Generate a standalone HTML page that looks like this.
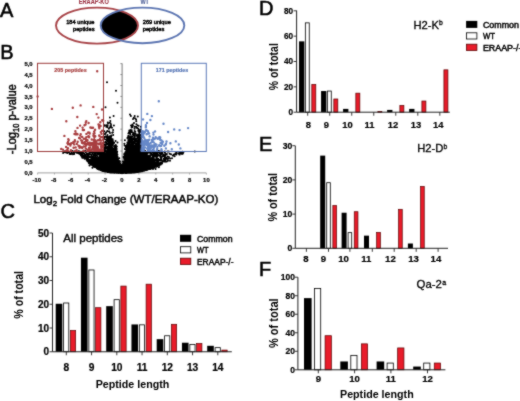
<!DOCTYPE html>
<html><head><meta charset="utf-8"><style>
html,body{margin:0;padding:0;background:#fff;}
svg{display:block;}
text{font-family:"Liberation Sans", sans-serif;}
</style></head><body>
<svg width="520" height="401" viewBox="0 0 520 401">
<defs><filter id="soft" x="0" y="0" width="520" height="401" filterUnits="userSpaceOnUse" color-interpolation-filters="sRGB"><feConvolveMatrix order="3" kernelMatrix="1 2 1 2 16 2 1 2 1" divisor="28" edgeMode="duplicate"/></filter></defs>
<g filter="url(#soft)">
<rect width="520" height="401" fill="#fff"/>
<text x="0" y="16.6" font-size="20" font-weight="normal" text-anchor="start" fill="#000" stroke="#000" stroke-width="0.55" >A</text>
<text x="0.3" y="59.3" font-size="20" font-weight="normal" text-anchor="start" fill="#000" stroke="#000" stroke-width="0.55" >B</text>
<text x="0.4" y="218.4" font-size="20" font-weight="normal" text-anchor="start" fill="#000" stroke="#000" stroke-width="0.55" >C</text>
<text x="258.9" y="14.8" font-size="20" font-weight="normal" text-anchor="start" fill="#000" stroke="#000" stroke-width="0.55" >D</text>
<text x="258.9" y="150.7" font-size="20" font-weight="normal" text-anchor="start" fill="#000" stroke="#000" stroke-width="0.55" >E</text>
<text x="258.9" y="275.8" font-size="20" font-weight="normal" text-anchor="start" fill="#000" stroke="#000" stroke-width="0.55" >F</text>
<defs><clipPath id="cr"><ellipse cx="97" cy="25.6" rx="41" ry="18"/></clipPath></defs>
<ellipse cx="142.5" cy="25.4" rx="41.8" ry="17.8" fill="#000" clip-path="url(#cr)"/>
<ellipse cx="97" cy="25.6" rx="41" ry="18" fill="none" stroke="#a84448" stroke-width="1.9"/>
<ellipse cx="142.5" cy="25.4" rx="41.8" ry="17.8" fill="none" stroke="#5d76b2" stroke-width="1.9"/>
<text x="78.8" y="4.1" font-size="7.0" font-weight="bold" text-anchor="start" fill="#9a3040" stroke="#9a3040" stroke-width="0.1" textLength="30" lengthAdjust="spacingAndGlyphs" >ERAAP-KO</text>
<text x="140.4" y="4.2" font-size="7.0" font-weight="bold" text-anchor="start" fill="#4d5f98" stroke="#4d5f98" stroke-width="0.1" textLength="8.6" lengthAdjust="spacingAndGlyphs" >WT</text>
<text x="94.5" y="24.3" font-size="5.9" font-weight="normal" text-anchor="end" fill="#000" stroke="#000" stroke-width="0.45" textLength="28.3" lengthAdjust="spacingAndGlyphs" >184 unique</text>
<text x="94.5" y="30.9" font-size="5.9" font-weight="normal" text-anchor="end" fill="#000" stroke="#000" stroke-width="0.45" textLength="21.5" lengthAdjust="spacingAndGlyphs" >peptides</text>
<text x="142.8" y="24.3" font-size="5.9" font-weight="normal" text-anchor="start" fill="#000" stroke="#000" stroke-width="0.45" textLength="28" lengthAdjust="spacingAndGlyphs" >269 unique</text>
<text x="142.8" y="30.9" font-size="5.9" font-weight="normal" text-anchor="start" fill="#000" stroke="#000" stroke-width="0.45" textLength="21.5" lengthAdjust="spacingAndGlyphs" >peptides</text>
<line x1="122.1" y1="63.4" x2="122.1" y2="172.9" stroke="#555" stroke-width="0.8"/>
<line x1="120.3" y1="172.9" x2="122.1" y2="172.9" stroke="#555" stroke-width="0.6"/>
<line x1="120.3" y1="161.975" x2="122.1" y2="161.975" stroke="#555" stroke-width="0.6"/>
<line x1="120.3" y1="151.05" x2="122.1" y2="151.05" stroke="#555" stroke-width="0.6"/>
<line x1="120.3" y1="140.125" x2="122.1" y2="140.125" stroke="#555" stroke-width="0.6"/>
<line x1="120.3" y1="129.2" x2="122.1" y2="129.2" stroke="#555" stroke-width="0.6"/>
<line x1="120.3" y1="118.275" x2="122.1" y2="118.275" stroke="#555" stroke-width="0.6"/>
<line x1="120.3" y1="107.35" x2="122.1" y2="107.35" stroke="#555" stroke-width="0.6"/>
<line x1="120.3" y1="96.425" x2="122.1" y2="96.425" stroke="#555" stroke-width="0.6"/>
<line x1="120.3" y1="85.5" x2="122.1" y2="85.5" stroke="#555" stroke-width="0.6"/>
<line x1="120.3" y1="74.575" x2="122.1" y2="74.575" stroke="#555" stroke-width="0.6"/>
<line x1="120.3" y1="63.650000000000006" x2="122.1" y2="63.650000000000006" stroke="#555" stroke-width="0.6"/>
<line x1="37.5" y1="172.9" x2="206.3" y2="172.9" stroke="#888" stroke-width="0.8"/>
<line x1="37.60000000000001" y1="172.9" x2="37.60000000000001" y2="174.6" stroke="#888" stroke-width="0.6"/>
<line x1="54.480000000000004" y1="172.9" x2="54.480000000000004" y2="174.6" stroke="#888" stroke-width="0.6"/>
<line x1="71.36" y1="172.9" x2="71.36" y2="174.6" stroke="#888" stroke-width="0.6"/>
<line x1="88.24000000000001" y1="172.9" x2="88.24000000000001" y2="174.6" stroke="#888" stroke-width="0.6"/>
<line x1="105.12" y1="172.9" x2="105.12" y2="174.6" stroke="#888" stroke-width="0.6"/>
<line x1="122.0" y1="172.9" x2="122.0" y2="174.6" stroke="#888" stroke-width="0.6"/>
<line x1="138.88" y1="172.9" x2="138.88" y2="174.6" stroke="#888" stroke-width="0.6"/>
<line x1="155.76" y1="172.9" x2="155.76" y2="174.6" stroke="#888" stroke-width="0.6"/>
<line x1="172.64" y1="172.9" x2="172.64" y2="174.6" stroke="#888" stroke-width="0.6"/>
<line x1="189.51999999999998" y1="172.9" x2="189.51999999999998" y2="174.6" stroke="#888" stroke-width="0.6"/>
<line x1="206.39999999999998" y1="172.9" x2="206.39999999999998" y2="174.6" stroke="#888" stroke-width="0.6"/>
<path d="M115.8 162.0h0M99.2 167.1h0M146.1 164.6h0M99.7 158.8h0M122.1 170.4h0M109.8 168.1h0M124.2 172.8h0M129.9 166.0h0M130.6 158.9h0M97.6 160.0h0M122.7 168.0h0M130.8 150.9h0M106.3 147.5h0M111.3 172.5h0M128.1 155.7h0M130.0 151.1h0M121.4 172.7h0M128.0 169.4h0M165.7 158.1h0M135.2 169.4h0M115.3 172.0h0M137.1 148.4h0M103.5 168.4h0M91.6 163.3h0M134.6 165.5h0M123.3 170.8h0M129.8 172.6h0M115.4 171.9h0M117.4 167.2h0M107.7 169.6h0M122.3 167.3h0M127.1 167.9h0M114.7 171.8h0M115.4 162.5h0M127.0 156.6h0M116.6 154.7h0M137.0 144.5h0M115.2 155.6h0M106.5 153.6h0M119.0 164.3h0M105.1 162.0h0M118.7 164.5h0M132.0 172.5h0M132.3 136.8h0M120.4 172.4h0M110.4 149.6h0M111.5 169.0h0M132.9 154.8h0M102.6 167.0h0M135.3 141.3h0M114.3 167.4h0M103.4 168.2h0M127.3 168.5h0M146.2 158.0h0M112.7 171.1h0M102.4 166.9h0M121.0 171.6h0M124.5 171.9h0M113.9 157.4h0M134.8 150.7h0M123.8 171.6h0M114.3 162.4h0M131.1 141.3h0M116.3 171.9h0M111.2 169.4h0M138.3 146.6h0M160.5 162.7h0M113.1 168.4h0M138.5 125.8h0M107.9 168.7h0M113.6 169.9h0M109.7 150.0h0M113.5 154.9h0M133.6 152.2h0M124.9 166.8h0M132.4 166.5h0M124.4 170.4h0M99.6 157.6h0M110.6 147.1h0M144.9 165.3h0M128.5 169.6h0M104.9 168.6h0M111.1 158.5h0M105.6 150.7h0M148.7 160.3h0M108.0 165.6h0M111.7 156.2h0M125.4 169.9h0M112.6 168.1h0M128.7 167.5h0M157.2 155.8h0M151.4 165.2h0M127.5 168.8h0M134.0 141.5h0M131.0 157.4h0M131.3 160.5h0M109.7 164.1h0M138.7 156.9h0M105.1 165.7h0M106.6 165.0h0M132.7 167.2h0M131.2 155.8h0M134.4 168.3h0M104.1 167.0h0M123.4 172.8h0M100.2 166.3h0M129.7 165.5h0M120.1 170.6h0M117.0 165.1h0M108.5 168.4h0M112.7 161.9h0M130.3 172.1h0M135.8 166.9h0M117.0 170.3h0M112.2 156.4h0M95.9 151.5h0M127.2 171.2h0M113.6 155.6h0M102.7 170.9h0M119.7 172.7h0M129.1 151.6h0M128.5 151.3h0M114.0 157.5h0M140.0 165.8h0M115.9 162.9h0M113.7 166.5h0M120.0 169.3h0M85.5 158.0h0M155.9 164.4h0M125.2 171.9h0M121.4 172.0h0M145.9 165.0h0M133.1 171.4h0M134.0 169.2h0M129.5 146.8h0M120.7 170.3h0M128.9 171.7h0M160.3 163.9h0M123.6 170.6h0M111.3 147.1h0M109.5 165.7h0M127.1 160.6h0M157.4 166.2h0M130.8 171.6h0M102.5 152.7h0M149.3 167.1h0M120.4 169.6h0M111.3 148.0h0M121.6 172.8h0M121.6 172.8h0M106.4 147.6h0M133.4 155.8h0M134.6 128.8h0M110.9 162.5h0M130.6 170.0h0M120.5 166.4h0M130.9 172.5h0M122.4 170.6h0M134.3 171.4h0M113.3 160.0h0M143.5 156.6h0M137.6 149.2h0M97.4 165.8h0M108.8 160.7h0M146.3 165.2h0M124.2 172.8h0M124.3 171.6h0M138.1 158.3h0M120.2 172.5h0M107.7 166.9h0M128.2 166.4h0M137.8 164.9h0M137.3 158.0h0M152.6 164.2h0M129.3 166.4h0M115.3 163.8h0M136.8 153.7h0M115.2 162.1h0M136.5 153.9h0M99.9 155.7h0M106.0 159.4h0M134.7 152.7h0M140.3 139.5h0M135.5 170.2h0M126.7 166.9h0M127.6 150.8h0M111.3 165.8h0M138.4 166.7h0M117.2 168.2h0M130.6 167.9h0M137.5 170.5h0M138.2 157.0h0M126.4 166.5h0M114.5 166.3h0M131.6 127.4h0M108.8 143.1h0M143.5 154.1h0M111.4 171.4h0M123.8 172.2h0M127.2 168.3h0M111.1 140.9h0M120.0 169.8h0M141.6 166.5h0M117.1 164.8h0M139.9 153.9h0M103.3 157.6h0M154.4 159.2h0M116.9 165.0h0M116.4 170.8h0M115.8 165.7h0M150.7 160.0h0M123.4 168.0h0M106.5 160.6h0M108.7 152.4h0M124.5 172.8h0M126.5 172.2h0M124.5 171.8h0M137.0 163.0h0M126.6 165.3h0M117.5 162.6h0M120.5 168.0h0M117.7 168.7h0M142.0 163.5h0M149.1 161.8h0M108.6 156.0h0M124.4 172.4h0M135.8 169.0h0M141.7 162.4h0M112.8 165.6h0M111.9 170.4h0M134.8 126.8h0M138.0 141.8h0M112.8 144.7h0M115.7 168.4h0M101.8 169.4h0M114.8 169.4h0M99.2 152.3h0M112.3 170.2h0M123.4 170.2h0M111.7 145.9h0M145.4 164.4h0M132.6 160.2h0M121.2 171.4h0M124.5 156.9h0M119.0 172.6h0M157.6 152.0h0M128.5 163.8h0M114.7 172.0h0M140.7 168.8h0M134.8 159.0h0M125.5 155.2h0M135.8 164.1h0M110.0 166.2h0M105.8 158.1h0M141.3 167.8h0M117.8 167.9h0M137.3 145.5h0M130.4 164.0h0M146.4 163.0h0M105.5 136.4h0M106.7 152.1h0M135.1 169.9h0M131.8 170.2h0M141.5 158.6h0M161.4 153.9h0M117.6 162.6h0M122.6 171.7h0M118.8 171.4h0M127.2 169.5h0M115.6 145.9h0M135.2 158.8h0M124.0 168.9h0M122.5 171.0h0M140.6 165.4h0M124.4 165.7h0M121.0 172.5h0M119.9 163.9h0M139.6 156.8h0M115.3 163.5h0M124.6 167.1h0M95.5 159.7h0M136.9 170.2h0M94.6 161.3h0M79.6 151.7h0M126.2 147.1h0M93.1 151.4h0M143.1 165.7h0M107.6 147.8h0M133.4 163.0h0M141.5 169.9h0M131.5 150.7h0M139.7 159.2h0M118.2 166.4h0M101.7 155.1h0M123.6 167.5h0M110.6 123.6h0M116.8 157.8h0M126.9 166.6h0M113.0 166.9h0M125.5 169.4h0M124.1 171.8h0M129.6 169.5h0M125.7 172.8h0M121.2 170.9h0M141.4 137.1h0M123.5 167.4h0M112.8 165.2h0M145.7 157.1h0M127.6 169.1h0M132.0 162.0h0M96.2 158.1h0M156.3 156.7h0M106.3 161.4h0M112.0 167.9h0M138.0 171.2h0M106.7 163.7h0M120.3 170.6h0M86.6 154.1h0M115.0 167.5h0M125.7 169.4h0M136.7 171.1h0M127.4 160.4h0M104.4 152.9h0M116.7 158.5h0M130.1 160.7h0M118.1 168.8h0M92.7 165.3h0M123.0 171.4h0M117.2 166.4h0M135.6 167.7h0M132.6 162.7h0M127.3 157.9h0M137.0 168.7h0M121.0 169.8h0M137.0 165.8h0M119.3 169.2h0M113.3 164.1h0M128.5 148.1h0M128.7 167.2h0M129.6 162.1h0M143.8 164.0h0M129.1 171.8h0M115.1 170.4h0M122.9 171.6h0M106.0 171.5h0M120.7 171.8h0M140.1 130.3h0M115.5 170.5h0M111.0 126.7h0M146.7 155.2h0M122.1 170.9h0M139.7 148.1h0M112.0 127.7h0M122.1 171.5h0M142.9 151.5h0M126.9 167.5h0M120.1 170.0h0M94.9 164.8h0M126.9 172.3h0M120.4 169.2h0M114.6 162.6h0M122.4 164.8h0M106.5 165.4h0M129.6 153.9h0M85.9 151.2h0M129.2 172.8h0M115.3 165.8h0M98.4 161.3h0M129.0 162.7h0M116.6 163.6h0M119.3 172.4h0M107.6 171.8h0M105.3 146.9h0M110.8 146.9h0M127.9 164.8h0M123.7 171.4h0M124.7 155.5h0M127.1 167.8h0M135.3 162.9h0M117.0 163.4h0M123.6 169.4h0M136.8 141.3h0M132.5 171.7h0M114.5 165.2h0M89.2 163.0h0M127.7 168.1h0M128.4 166.6h0M145.5 157.5h0M141.0 171.1h0M104.1 163.3h0M121.3 169.6h0M143.0 164.8h0M141.3 164.9h0M138.4 163.8h0M128.9 172.1h0M120.4 171.8h0M98.7 159.1h0M123.0 169.8h0M126.9 148.3h0M140.0 162.8h0M139.5 153.6h0M102.2 160.6h0M111.9 170.8h0M135.6 157.0h0M115.0 161.7h0M134.3 164.1h0M125.2 160.8h0M117.4 167.6h0M119.8 170.9h0M139.6 162.7h0M102.1 168.6h0M149.9 166.4h0M120.2 168.6h0M135.6 140.3h0M128.8 171.3h0M117.1 166.3h0M118.0 167.2h0M107.9 169.0h0M109.4 166.3h0M119.5 172.6h0M116.2 172.7h0M106.2 170.6h0M126.9 169.9h0M92.8 162.5h0M126.1 166.3h0M123.0 169.5h0M115.7 169.2h0M132.3 156.7h0M107.9 147.2h0M129.9 149.8h0M127.8 167.8h0M154.7 161.2h0M119.6 167.6h0M140.6 160.6h0M133.9 171.5h0M135.5 155.3h0M143.6 169.9h0M128.2 140.1h0M113.1 165.0h0M132.1 136.5h0M120.8 172.0h0M115.3 168.6h0M134.1 154.2h0M128.8 153.0h0M104.9 164.8h0M139.9 137.3h0M135.2 146.8h0M130.9 166.2h0M147.3 152.6h0M121.7 172.9h0M90.3 164.0h0M106.9 156.1h0M120.3 170.5h0M120.0 172.2h0M126.1 165.7h0M131.8 166.1h0M107.4 165.1h0M137.8 157.4h0M120.3 171.6h0M136.5 158.1h0M127.4 155.6h0M105.5 158.8h0M129.7 158.0h0M100.1 161.9h0M114.2 142.8h0M113.0 170.5h0M126.0 161.0h0M115.6 158.8h0M128.1 163.1h0M121.8 172.6h0M122.5 172.4h0M141.4 166.2h0M124.4 172.4h0M99.1 166.5h0M119.7 172.4h0M137.7 157.7h0M142.3 170.8h0M140.0 165.7h0M126.6 165.0h0M119.1 169.2h0M147.1 163.7h0M98.5 158.2h0M120.6 167.6h0M131.0 172.3h0M145.3 164.7h0M115.5 171.0h0M111.5 149.0h0M112.6 172.4h0M114.3 170.3h0M128.6 172.5h0M146.5 165.1h0M136.9 156.0h0M144.9 157.3h0M158.1 159.2h0M124.1 169.1h0M127.5 156.7h0M99.9 168.8h0M121.7 171.8h0M153.3 158.2h0M138.1 162.9h0M135.4 167.9h0M129.7 170.8h0M118.3 168.3h0M139.3 161.4h0M142.1 160.1h0M136.7 166.1h0M116.5 168.0h0M142.3 157.8h0M114.5 158.0h0M130.8 172.5h0M117.9 169.6h0M127.0 168.4h0M111.4 158.9h0M139.0 158.0h0M134.8 169.5h0M132.8 164.4h0M121.2 171.9h0M105.2 169.0h0M141.2 170.8h0M153.0 156.9h0M137.1 166.5h0M114.6 158.9h0M124.4 171.4h0M117.2 161.9h0M123.5 171.1h0M125.0 171.0h0M139.6 170.4h0M115.1 162.1h0M132.0 165.7h0M118.5 167.1h0M116.8 170.9h0M125.7 154.6h0M134.9 170.4h0M118.8 171.5h0M101.8 166.1h0M134.6 168.0h0M107.4 160.8h0M129.4 166.5h0M115.0 168.8h0M147.3 168.5h0M109.4 155.2h0M113.2 166.4h0M130.8 160.6h0M155.4 164.8h0M139.9 162.7h0M134.8 169.8h0M142.7 168.8h0M130.0 153.0h0M135.0 167.0h0M125.5 172.6h0M130.0 167.9h0M87.8 156.0h0M111.5 149.6h0M122.0 169.0h0M124.5 169.4h0M120.6 172.3h0M118.4 171.2h0M134.9 160.1h0M133.5 147.6h0M135.8 160.2h0M134.1 155.3h0M127.4 170.6h0M140.7 165.0h0M138.0 153.7h0M168.0 160.8h0M107.0 169.9h0M125.2 162.9h0M127.4 159.7h0M136.3 165.9h0M109.8 165.7h0M95.0 164.7h0M142.9 168.0h0M113.3 167.7h0M113.4 171.4h0M109.8 140.9h0M120.1 169.3h0M110.1 169.1h0M137.0 127.9h0M113.3 168.3h0M120.1 172.8h0M136.2 157.3h0M133.5 163.5h0M123.0 168.6h0M96.9 162.9h0M121.9 170.4h0M97.3 165.3h0M106.9 161.6h0M118.3 171.9h0M124.9 165.7h0M121.6 172.7h0M110.1 164.5h0M127.4 163.2h0M117.8 167.6h0M118.1 163.7h0M115.4 164.2h0M100.4 159.1h0M99.7 162.2h0M108.4 166.2h0M137.4 163.1h0M135.0 168.1h0M105.2 163.0h0M119.1 169.1h0M121.9 172.8h0M115.4 171.4h0M134.7 160.5h0M110.9 172.0h0M122.2 171.0h0M134.8 163.9h0M127.6 166.2h0M105.1 168.7h0M140.8 165.1h0M123.4 169.5h0M125.5 171.3h0M135.6 156.5h0M128.2 169.1h0M133.9 161.6h0M128.2 167.7h0M134.3 163.9h0M160.3 163.3h0M140.6 164.2h0M124.6 168.8h0M133.2 168.1h0M118.8 162.5h0M119.4 170.1h0M113.1 157.9h0M124.1 162.2h0M128.9 161.1h0M128.0 172.8h0M130.4 163.0h0M104.6 138.9h0M116.8 146.6h0M122.0 172.6h0M129.5 148.2h0M154.3 167.1h0M135.0 157.9h0M142.0 152.2h0M115.7 169.1h0M148.8 161.6h0M115.3 164.2h0M131.0 155.5h0M122.5 171.4h0M136.1 166.3h0M137.3 164.9h0M111.0 154.9h0M109.4 170.5h0M134.8 169.9h0M86.9 158.6h0M119.6 172.2h0M121.8 171.8h0M124.8 172.0h0M138.9 156.4h0M134.7 171.3h0M125.9 172.7h0M163.1 161.6h0M128.7 166.1h0M119.7 165.8h0M116.9 168.0h0M138.0 164.5h0M123.2 171.7h0M144.3 159.8h0M121.2 170.9h0M137.9 136.3h0M138.8 169.5h0M117.7 168.3h0M139.5 143.6h0M121.6 172.6h0M109.5 153.4h0M91.9 164.5h0M120.9 169.2h0M132.0 153.1h0M116.3 168.1h0M138.7 150.5h0M125.1 163.5h0M102.4 167.8h0M119.4 168.7h0M96.9 165.3h0M120.2 168.4h0M107.6 125.4h0M135.2 161.6h0M134.3 153.5h0M129.5 162.2h0M116.4 162.2h0M154.2 163.4h0M122.7 172.7h0M135.0 165.3h0M135.2 160.9h0M127.4 159.9h0M106.1 171.1h0M115.9 164.9h0M138.2 128.8h0M132.2 152.0h0M111.8 171.9h0M122.3 172.4h0M127.3 165.8h0M121.0 172.4h0M140.1 163.7h0M133.3 153.8h0M118.3 167.8h0M122.6 172.6h0M125.9 146.3h0M130.5 166.4h0M132.7 171.9h0M111.2 167.8h0M120.6 170.6h0M137.1 166.6h0M119.3 172.6h0M131.0 171.8h0M131.7 154.2h0M138.2 167.8h0M118.6 172.6h0M126.6 172.0h0M127.2 165.7h0M126.8 163.3h0M94.1 166.7h0M131.3 160.5h0M108.4 167.4h0M124.3 169.7h0M117.7 167.7h0M87.7 160.0h0M116.4 171.9h0M109.0 154.9h0M136.7 162.3h0M133.4 167.2h0M131.4 170.0h0M129.3 169.0h0M115.8 166.0h0M119.9 161.5h0M91.9 158.2h0M124.9 165.4h0M115.8 170.7h0M124.9 166.9h0M112.8 158.9h0M136.1 165.6h0M102.9 167.7h0M158.2 163.9h0M120.5 171.5h0M121.3 172.4h0M124.9 170.5h0M101.3 162.6h0M107.2 167.4h0M144.7 160.9h0M139.7 166.6h0M113.8 157.9h0M130.5 159.3h0M135.8 159.2h0M140.4 168.7h0M103.1 170.0h0M141.6 160.3h0M124.4 170.6h0M137.7 151.1h0M130.7 168.4h0M127.4 171.4h0M129.8 163.6h0M91.6 154.9h0M152.1 161.2h0M137.9 168.4h0M108.8 170.0h0M131.1 165.6h0M136.0 172.2h0M125.0 170.2h0M141.0 153.8h0M116.7 163.3h0M116.3 159.2h0M124.9 171.5h0M103.4 148.9h0M153.9 162.6h0M128.4 168.6h0M100.0 159.3h0M107.3 148.4h0M118.2 172.7h0M138.0 169.8h0M111.4 149.3h0M122.9 169.5h0M105.0 167.2h0M121.5 172.1h0M118.8 168.8h0M115.1 168.0h0M127.4 172.5h0M113.5 168.8h0M142.8 153.4h0M107.5 168.5h0M95.3 163.5h0M115.8 168.4h0M141.0 166.2h0M148.7 169.0h0M127.3 151.2h0M110.1 156.4h0M104.9 149.4h0M96.1 155.0h0M106.5 168.3h0M140.5 145.8h0M106.6 169.4h0M125.4 163.8h0M106.2 162.1h0M134.5 157.4h0M117.4 164.9h0M87.7 160.8h0M143.1 165.3h0M131.0 165.3h0M93.2 165.0h0M104.4 166.3h0M139.4 159.2h0M111.7 161.6h0M139.2 151.5h0M102.6 169.6h0M140.1 168.5h0M113.4 172.5h0M122.6 171.7h0M144.9 159.6h0M118.1 168.4h0M126.5 167.9h0M135.9 165.0h0M108.7 162.0h0M149.5 167.4h0M118.5 170.7h0M132.3 162.9h0M121.4 171.7h0M119.8 165.1h0M116.4 164.7h0M136.9 155.3h0M128.8 152.5h0M125.1 169.2h0M132.7 169.0h0M116.3 170.6h0M118.4 169.4h0M134.9 163.1h0M116.4 170.3h0M119.5 171.4h0M125.5 163.3h0M125.1 164.5h0M101.9 168.0h0M159.4 163.8h0M106.7 166.2h0M122.5 167.8h0M113.0 164.2h0M127.9 150.5h0M133.9 164.4h0M143.2 168.3h0M136.1 163.0h0M129.2 172.7h0M124.5 172.0h0M115.4 163.2h0M134.6 163.9h0M129.9 170.4h0M132.7 170.6h0M115.1 171.6h0M136.3 172.0h0M124.2 169.1h0M143.2 154.1h0M138.5 137.4h0M106.7 167.4h0M92.4 153.4h0M126.7 163.9h0M136.0 172.1h0M141.2 154.8h0M114.5 161.4h0M103.1 170.4h0M122.6 171.8h0M153.4 162.0h0M137.3 146.9h0M132.5 159.7h0M147.6 161.8h0M97.6 154.6h0M144.5 165.4h0M124.4 171.0h0M117.4 160.7h0M99.1 165.0h0M112.3 165.7h0M150.7 159.4h0M103.7 166.0h0M138.5 167.5h0M120.9 172.1h0M133.7 167.4h0M123.8 170.6h0M100.3 164.3h0M154.6 153.7h0M127.5 167.8h0M138.9 163.7h0M130.0 145.8h0M147.0 156.8h0M159.4 164.5h0M115.9 155.4h0M123.0 171.1h0M133.1 164.0h0M100.4 167.3h0M146.1 167.9h0M113.3 168.5h0M107.1 167.3h0M125.8 166.3h0M111.8 165.8h0M140.0 170.3h0M111.6 172.0h0M156.5 158.3h0M92.2 162.1h0M112.8 140.8h0M119.7 171.5h0M100.8 153.3h0M125.9 160.6h0M143.9 151.6h0M138.0 171.8h0M145.1 169.4h0M116.4 172.1h0M118.4 164.4h0M125.3 161.0h0M141.5 156.3h0M119.3 171.0h0M147.6 157.1h0M122.2 171.9h0M142.3 161.9h0M107.8 155.9h0M158.0 162.1h0M137.9 170.7h0M102.3 168.0h0M110.8 161.2h0M139.2 163.8h0M112.0 169.6h0M121.3 172.5h0M152.4 168.1h0M141.8 158.6h0M137.2 159.6h0M149.2 165.7h0M122.1 171.8h0M137.8 161.1h0M138.3 128.9h0M133.0 150.5h0M126.9 149.3h0M143.6 170.4h0M130.8 165.9h0M139.5 168.2h0M112.4 161.3h0M134.1 142.3h0M170.1 158.5h0M123.2 170.9h0M127.9 168.5h0M110.4 171.7h0M140.3 167.6h0M132.7 167.4h0M117.6 170.4h0M130.1 157.6h0M104.4 153.1h0M123.8 172.4h0M123.0 169.0h0M123.8 167.8h0M125.9 172.4h0M89.2 161.9h0M144.8 153.5h0M112.3 171.3h0M138.3 140.1h0M124.0 171.4h0M129.0 166.8h0M117.9 171.9h0M150.7 162.0h0M127.3 168.0h0M134.3 159.0h0M118.4 166.4h0M161.6 157.6h0M112.6 166.8h0M140.3 158.5h0M131.2 169.6h0M104.4 148.0h0M112.4 156.0h0M130.5 146.8h0M128.4 133.6h0M126.6 163.6h0M121.4 170.8h0M135.5 139.7h0M105.2 169.9h0M112.7 139.3h0M147.9 161.0h0M123.9 164.5h0M130.4 167.7h0M120.2 169.0h0M121.1 172.5h0M126.6 168.3h0M100.4 154.7h0M107.3 166.6h0M139.3 130.6h0M142.5 162.3h0M119.1 168.7h0M131.6 165.7h0M119.5 167.1h0M122.2 170.0h0M109.8 170.6h0M111.3 168.5h0M134.6 158.9h0M121.0 170.6h0M101.2 163.3h0M149.5 166.5h0M144.8 161.4h0M106.6 154.0h0M127.8 160.1h0M116.9 164.0h0M89.0 163.0h0M129.3 143.4h0M110.4 157.9h0M92.8 165.1h0M108.5 145.2h0M125.5 171.6h0M103.7 162.0h0M126.3 158.3h0M117.0 172.6h0M115.3 165.7h0M116.0 172.1h0M131.8 169.7h0M116.2 169.6h0M122.6 170.5h0M141.8 168.1h0M126.8 156.1h0M123.3 172.2h0M136.1 160.2h0M124.6 168.7h0M111.0 171.1h0M144.2 165.6h0M124.9 169.3h0M90.0 162.0h0M113.9 170.6h0M96.4 151.3h0M129.3 172.1h0M138.3 157.0h0M121.0 171.3h0M122.5 170.8h0M139.2 171.1h0M135.0 172.0h0M151.6 165.5h0M139.7 170.8h0M110.3 145.7h0M127.7 172.7h0M114.7 168.4h0M120.0 170.9h0M125.0 165.1h0M131.1 150.6h0M132.0 168.6h0M114.8 170.8h0M122.8 167.6h0M130.0 171.1h0M119.6 172.4h0M122.8 172.0h0M100.6 170.1h0M112.4 161.5h0M125.9 163.9h0M138.9 168.7h0M114.9 168.5h0M121.5 172.5h0M134.7 162.3h0M103.6 162.8h0M100.9 164.8h0M115.6 161.8h0M118.4 169.3h0M136.6 167.8h0M130.7 172.1h0M150.0 169.1h0M132.1 169.5h0M142.4 168.0h0M113.5 171.6h0M136.4 162.3h0M137.0 171.7h0M126.0 171.3h0M121.2 172.6h0M121.3 169.7h0M145.6 163.2h0M125.4 169.7h0M122.1 169.0h0M149.3 169.1h0M131.0 171.0h0M133.2 161.5h0M129.2 167.1h0M107.4 147.2h0M119.5 169.5h0M136.8 166.6h0M146.6 168.3h0M92.4 162.4h0M139.7 168.1h0M96.5 151.3h0M123.7 171.5h0M127.2 171.2h0M122.5 168.9h0M117.6 163.7h0M140.8 155.2h0M140.0 159.0h0M137.1 171.4h0M130.4 171.2h0M126.7 168.8h0M118.5 166.8h0M101.8 164.4h0M110.0 152.7h0M117.5 169.4h0M142.6 152.6h0M155.3 165.8h0M121.7 169.2h0M124.6 171.0h0M89.8 162.2h0M130.6 172.1h0M127.4 171.7h0M114.0 168.2h0M132.1 167.4h0M134.7 148.9h0M132.3 166.6h0M121.1 172.1h0M137.6 171.9h0M139.9 169.3h0M133.8 172.4h0M104.5 170.6h0M126.1 164.9h0M119.8 168.0h0M125.4 168.1h0M112.6 165.5h0M147.4 152.5h0M150.3 167.0h0M138.2 162.3h0M134.7 164.2h0M110.3 167.9h0M103.9 163.6h0M116.5 170.4h0M144.5 167.6h0M131.7 162.8h0M133.6 171.2h0M148.0 155.9h0M143.2 168.9h0M134.2 172.1h0M126.5 149.4h0M145.3 169.9h0M140.6 157.4h0M133.5 171.3h0M126.3 169.5h0M108.4 160.8h0M123.0 171.0h0M136.1 153.4h0M107.5 157.4h0M126.1 167.4h0M99.8 168.8h0M154.8 160.0h0M114.6 170.1h0M133.8 159.3h0M114.8 166.0h0M130.1 166.6h0M166.6 158.3h0M135.1 157.2h0M97.4 152.8h0M147.2 159.5h0M131.7 160.5h0M133.0 154.5h0M125.6 170.0h0M104.9 170.3h0M135.2 168.5h0M141.9 158.4h0M122.5 170.9h0M134.3 172.4h0M142.3 154.3h0M116.9 166.8h0M127.8 159.0h0M100.3 153.9h0M112.8 165.6h0M114.2 163.6h0M113.9 163.5h0M145.6 164.8h0M126.8 171.0h0M110.0 167.3h0M88.2 161.1h0M121.4 170.3h0M142.9 169.2h0M140.0 171.3h0M105.6 166.7h0M107.7 150.6h0M113.0 154.6h0M107.4 150.4h0M152.5 156.9h0M133.0 149.7h0M130.1 170.5h0M105.2 156.6h0M115.7 172.4h0M138.1 158.3h0M120.0 170.5h0M134.4 164.1h0M136.0 170.3h0M123.8 167.6h0M162.5 162.0h0M119.3 170.0h0M133.2 167.6h0M119.3 170.4h0M136.0 167.5h0M151.3 153.9h0M135.3 162.4h0M121.8 171.5h0M152.4 167.4h0M126.2 163.9h0M150.4 158.4h0M108.3 165.7h0M121.0 171.4h0M136.1 168.7h0M122.7 171.7h0M136.6 170.6h0M121.3 170.0h0M129.9 172.2h0M140.7 156.4h0M113.3 155.4h0M97.1 158.7h0M145.7 162.2h0M114.0 171.5h0M107.3 166.9h0M138.2 152.0h0M117.4 160.2h0M136.5 157.7h0M139.2 171.7h0M121.1 171.9h0M133.1 162.1h0M130.6 170.5h0M131.8 166.5h0M132.8 154.2h0M105.0 171.4h0M148.7 158.9h0M131.2 169.6h0M118.7 166.3h0M125.9 165.8h0M138.6 170.9h0M101.3 169.1h0M137.2 171.4h0M132.9 134.4h0M126.5 167.7h0M131.4 172.3h0M129.9 162.9h0M123.5 168.5h0M103.0 170.8h0M117.2 168.8h0M113.4 165.7h0M153.8 166.0h0M119.4 170.0h0M121.7 172.4h0M124.5 168.0h0M115.7 165.4h0M136.3 157.4h0M123.3 165.1h0M111.8 171.7h0M138.8 148.4h0M124.0 171.7h0M96.1 166.6h0M150.8 153.1h0M125.5 159.7h0M133.7 157.5h0M133.5 171.8h0M121.6 171.5h0M126.9 153.1h0M112.6 166.6h0M150.7 158.8h0M122.1 171.4h0M120.6 172.2h0M118.2 172.1h0M122.8 168.1h0M125.2 166.4h0M92.9 157.3h0M123.9 165.7h0M110.0 170.2h0M131.8 159.0h0M118.7 169.7h0M116.5 169.2h0M132.1 163.1h0M119.4 171.7h0M129.8 137.9h0M140.7 161.6h0M148.7 160.7h0M98.0 165.1h0M128.5 169.9h0M100.1 153.9h0M113.4 158.1h0M141.1 139.8h0M111.2 150.1h0M136.1 170.7h0M128.8 170.2h0M103.4 166.1h0M134.4 171.7h0M89.9 163.3h0M126.3 170.9h0M121.9 171.5h0M108.8 162.4h0M143.8 159.8h0M104.7 165.2h0M102.4 159.7h0M136.9 162.9h0M124.3 171.7h0M106.3 167.1h0M100.7 158.4h0M128.0 172.7h0M144.2 151.6h0M128.3 170.3h0M104.0 167.5h0M95.4 165.6h0M115.3 161.0h0M109.8 171.4h0M101.6 155.1h0M127.3 167.8h0M111.8 166.3h0M110.0 161.2h0M135.1 159.6h0M113.2 158.8h0M114.3 165.9h0M140.3 152.4h0M128.1 156.7h0M113.2 168.3h0M142.0 161.8h0M124.7 171.0h0M142.8 169.4h0M140.5 157.4h0M126.0 172.1h0M120.7 171.6h0M127.1 144.6h0M124.7 169.1h0M114.0 150.2h0M142.4 168.4h0M127.0 171.8h0M137.5 157.7h0M121.4 171.7h0M129.1 152.4h0M111.5 160.2h0M119.4 168.8h0M125.2 165.7h0M120.8 170.2h0M109.4 165.6h0M113.5 169.9h0M137.1 159.1h0M118.9 169.7h0M131.1 172.0h0M126.6 172.7h0M129.6 172.5h0M131.1 153.2h0M102.9 160.0h0M131.4 169.9h0M109.7 169.8h0M139.1 166.1h0M109.0 169.6h0M118.0 172.7h0M120.3 172.0h0M142.4 170.5h0M126.9 163.5h0M139.6 162.6h0M125.9 166.4h0M101.0 153.6h0M109.4 141.8h0M149.4 159.9h0M123.6 169.1h0M93.7 161.0h0M104.1 158.0h0M137.6 143.9h0M139.3 170.2h0M117.4 159.8h0M131.3 162.3h0M122.7 166.5h0M129.4 164.2h0M82.7 155.6h0M100.2 151.3h0M154.8 152.2h0M95.9 166.5h0M103.8 163.1h0M131.1 150.1h0M139.4 134.0h0M129.6 159.5h0M121.9 170.7h0M123.7 171.3h0M123.4 163.4h0M111.4 169.8h0M116.6 171.3h0M125.0 172.0h0M129.3 166.4h0M118.0 170.9h0M133.8 163.7h0M114.3 169.3h0M112.0 157.5h0M119.3 168.4h0M101.2 167.2h0M92.6 165.6h0M119.7 168.4h0M131.4 151.4h0M132.4 153.7h0M121.3 172.8h0M113.6 170.0h0M151.8 159.9h0M116.8 172.7h0M121.8 172.6h0M138.3 162.0h0M121.9 172.5h0M133.7 148.4h0M129.8 163.4h0M125.2 166.4h0M90.7 163.5h0M125.8 147.2h0M126.5 162.4h0M142.7 165.3h0M98.4 166.0h0M111.3 169.6h0M110.0 172.2h0M105.7 165.3h0M109.2 158.2h0M137.6 169.5h0M130.3 147.3h0M135.0 172.3h0M146.5 154.9h0M142.8 166.0h0M147.6 165.1h0M106.0 169.9h0M128.9 154.3h0M116.9 172.8h0M121.8 171.7h0M142.0 155.6h0M116.4 172.7h0M117.7 171.8h0M132.8 170.4h0M101.0 158.4h0M123.5 167.9h0M98.4 166.4h0M125.3 172.5h0M142.9 168.0h0M120.0 170.0h0M126.6 171.4h0M104.4 169.7h0M133.7 165.1h0M126.6 166.9h0M130.5 161.4h0M134.5 147.3h0M110.7 139.2h0M110.3 165.7h0M128.5 160.0h0M112.9 171.3h0M119.9 167.9h0M142.7 168.6h0M138.9 154.7h0M143.3 161.0h0M99.5 162.5h0M132.7 170.5h0M114.6 157.4h0M132.5 165.3h0M138.3 135.0h0M104.7 153.9h0M125.5 166.9h0M129.0 164.1h0M138.4 163.1h0M151.9 165.7h0M119.4 166.8h0M131.9 168.6h0M128.2 162.3h0M148.6 151.9h0M132.5 148.8h0M119.3 170.5h0M107.0 166.2h0M117.6 161.5h0M132.4 166.8h0M125.4 170.0h0M131.5 148.7h0M126.3 170.2h0M127.3 151.5h0M144.7 155.0h0M112.8 168.1h0M129.1 159.4h0M118.6 168.6h0M124.8 170.3h0M124.8 170.7h0M131.5 143.5h0M128.7 169.1h0M86.7 158.1h0M122.6 171.8h0M131.9 141.8h0M156.0 156.7h0M111.7 163.3h0M124.5 168.2h0M143.9 166.2h0M129.3 153.6h0M126.7 167.7h0M113.3 154.9h0M125.8 170.9h0M136.0 149.0h0M109.7 149.5h0M117.2 171.0h0M121.9 172.5h0M142.5 170.3h0M110.5 166.6h0M113.0 161.0h0M136.8 162.7h0M130.3 170.1h0M142.0 170.3h0M114.7 155.9h0M129.3 162.6h0M116.3 171.4h0M129.3 163.7h0M127.6 167.7h0M133.2 169.4h0M127.0 161.0h0M120.6 171.7h0M132.1 171.0h0M120.1 166.5h0M131.2 138.6h0M115.2 154.6h0M131.1 138.8h0M120.2 167.2h0M125.3 169.1h0M144.4 156.0h0M129.8 165.1h0M127.2 169.7h0M135.2 172.1h0M135.8 166.9h0M138.4 170.4h0M112.4 172.0h0M121.7 172.4h0M155.8 165.0h0M98.3 167.8h0M149.6 166.8h0M117.5 162.2h0M122.2 170.9h0M111.0 159.5h0M112.2 152.7h0M128.8 159.1h0M132.9 163.3h0M127.5 171.6h0M133.8 162.8h0M130.3 170.5h0M115.2 171.3h0M108.5 171.4h0M114.9 172.6h0M120.7 172.2h0M141.6 160.8h0M135.2 165.2h0M140.5 162.5h0M130.1 163.2h0M141.5 166.3h0M131.7 165.9h0M114.0 169.5h0M104.3 155.4h0M115.7 165.4h0M149.8 151.9h0M118.2 169.5h0M122.6 172.9h0M128.8 162.0h0M114.8 166.1h0M126.1 166.8h0M135.4 167.9h0M124.3 169.8h0M109.9 137.1h0M145.1 166.2h0M109.2 166.9h0M138.2 167.7h0M132.1 168.2h0M123.0 172.7h0M108.8 168.5h0M140.1 170.6h0M119.3 170.6h0M123.5 171.3h0M145.2 169.6h0M119.5 170.7h0M145.2 160.6h0M127.6 164.8h0M138.6 156.6h0M123.8 163.3h0M128.4 159.7h0M132.9 159.8h0M84.8 158.4h0M120.7 170.1h0M118.8 171.5h0M117.4 158.7h0M100.0 166.9h0M138.8 162.8h0M119.2 167.8h0M115.9 169.6h0M81.2 153.7h0M105.3 167.6h0M120.2 170.3h0M133.1 164.6h0M109.7 168.5h0M130.8 151.8h0M117.9 159.9h0M133.5 164.0h0M140.6 160.2h0M118.4 171.4h0M143.5 152.7h0M129.1 170.4h0M117.2 172.1h0M126.2 166.3h0M120.6 165.9h0M111.0 165.2h0M125.6 172.2h0M105.2 167.9h0M129.7 163.3h0M129.1 138.3h0M117.6 161.4h0M120.8 172.9h0M118.0 170.1h0M112.8 164.6h0M124.0 171.3h0M100.0 159.2h0M148.8 152.5h0M110.4 169.9h0M138.9 167.3h0M147.2 167.2h0M100.9 156.7h0M133.9 157.0h0M104.5 159.9h0M116.4 171.7h0M125.6 168.6h0M128.0 146.9h0M125.0 166.2h0M121.8 172.8h0M108.1 165.6h0M130.4 162.8h0M135.3 131.7h0M109.5 168.0h0M128.9 159.5h0M134.6 162.3h0M105.9 162.6h0M138.9 152.0h0M137.5 166.5h0M123.6 169.2h0M149.2 157.9h0M136.3 164.6h0M130.6 167.6h0M167.5 158.7h0M141.5 171.0h0M159.3 165.4h0M116.4 163.1h0M164.7 158.6h0M154.7 161.7h0M130.0 172.4h0M112.8 169.6h0M107.7 161.1h0M114.5 168.6h0M129.6 164.9h0M106.5 147.9h0M125.4 160.3h0M143.8 163.3h0M124.2 165.8h0M93.4 164.4h0M121.2 170.4h0M110.2 150.8h0M134.5 159.6h0M108.8 154.2h0M111.8 171.3h0M122.2 172.5h0M125.6 156.5h0M131.3 170.0h0M117.0 171.4h0M110.6 157.5h0M131.7 130.2h0M109.8 172.1h0M119.4 170.4h0M123.3 172.6h0M132.3 167.2h0M111.8 156.7h0M112.3 157.8h0M110.8 169.5h0M110.5 147.8h0M113.8 159.5h0M134.0 156.7h0M132.4 140.0h0M131.7 166.0h0M121.5 172.3h0M152.0 165.2h0M129.9 158.1h0M152.2 158.1h0M116.1 168.2h0M116.5 170.1h0M126.4 169.1h0M118.4 168.5h0M101.7 157.2h0M142.1 160.0h0M124.4 157.1h0M133.0 170.0h0M134.9 155.4h0M121.6 172.6h0M126.4 171.6h0M118.6 172.1h0M102.4 155.1h0M145.0 166.1h0M136.1 160.4h0M148.8 157.2h0M111.8 157.9h0M127.0 168.9h0M136.4 146.9h0M134.2 162.4h0M104.8 153.1h0M128.4 170.0h0M137.9 162.2h0M142.1 168.3h0M132.8 171.3h0M95.4 152.9h0M138.8 164.4h0M121.5 169.5h0M118.0 172.8h0M125.2 171.5h0M118.6 171.0h0M157.2 159.3h0M122.0 170.9h0M130.5 170.4h0M118.5 171.6h0M137.3 161.0h0M96.6 165.3h0M118.3 171.9h0M103.8 169.1h0M127.1 149.6h0M106.7 157.8h0M105.8 168.6h0M128.4 149.8h0M124.3 167.5h0M114.2 159.7h0M125.1 160.8h0M134.2 165.3h0M109.2 165.8h0M127.5 163.5h0M132.1 169.9h0M135.3 170.0h0M120.1 171.8h0M150.7 159.4h0M110.6 157.6h0M122.4 172.6h0M98.0 167.0h0M156.8 160.8h0M152.7 164.9h0M144.0 160.9h0M112.9 171.1h0M139.2 164.6h0M122.2 167.5h0M129.3 153.0h0M94.2 160.3h0M111.4 162.2h0M123.4 168.3h0M95.2 161.0h0M113.2 166.1h0M133.4 158.2h0M149.0 166.7h0M118.0 171.4h0M91.9 152.6h0M133.1 162.2h0M127.4 161.5h0M160.3 163.3h0M137.3 161.0h0M132.2 157.6h0M120.1 171.1h0M146.7 158.3h0M138.2 169.2h0M142.2 167.0h0M106.5 161.8h0M111.2 171.1h0M121.3 172.0h0M118.4 171.9h0M117.6 168.1h0M129.6 166.2h0M110.6 168.5h0M118.4 170.9h0M120.3 172.3h0M103.8 147.2h0M133.9 172.0h0M112.5 169.5h0M127.1 161.0h0M133.4 156.1h0M139.9 163.8h0M139.1 143.1h0M111.0 168.3h0M116.9 172.8h0M110.3 121.0h0M119.3 169.4h0M135.8 166.7h0M119.3 170.9h0M126.6 167.8h0M113.0 152.2h0M135.0 162.8h0M117.4 172.2h0M110.3 167.7h0M109.0 172.0h0M130.5 165.2h0M135.4 166.5h0M106.0 166.1h0M125.6 168.6h0M124.5 168.5h0M113.7 156.4h0M127.8 158.5h0M125.4 171.3h0M142.2 169.0h0M139.4 157.9h0M129.5 158.0h0M105.2 164.2h0M135.1 166.6h0M118.0 171.6h0M131.0 136.3h0M127.3 170.6h0M102.4 162.8h0M142.7 152.1h0M130.0 158.4h0M101.9 167.9h0M140.5 160.6h0M119.9 169.0h0M145.1 155.4h0M130.1 166.8h0M128.6 170.0h0M122.9 171.2h0M101.3 169.0h0M144.0 158.8h0M101.0 162.1h0M126.0 161.9h0M117.4 172.6h0M129.0 150.0h0M119.4 172.1h0M135.3 152.3h0M138.9 169.7h0M144.1 161.1h0M128.3 157.2h0M109.6 168.7h0M130.0 171.1h0M124.8 170.4h0M105.3 158.6h0M120.4 171.5h0M101.7 158.2h0M116.8 167.1h0M92.3 153.8h0M137.2 170.7h0M127.4 165.7h0M114.3 167.6h0M109.2 165.4h0M123.3 169.9h0M103.2 156.8h0M124.6 172.2h0M144.2 170.2h0M117.9 165.9h0M133.7 155.4h0M129.8 161.3h0M136.1 172.1h0M102.0 163.9h0M122.2 170.3h0M127.9 156.7h0M133.0 155.7h0M128.9 132.2h0M120.8 172.6h0M122.1 171.4h0M144.5 163.6h0M116.9 162.6h0M125.1 172.7h0M121.0 172.2h0M136.4 171.8h0M121.0 171.1h0M126.6 151.8h0M103.5 170.1h0M118.5 168.3h0M133.4 161.9h0M115.5 170.4h0M133.2 163.1h0M115.5 167.5h0M143.2 159.9h0M137.6 157.7h0M113.6 164.3h0M121.4 172.2h0M106.4 152.5h0M117.7 172.5h0M136.2 167.3h0M131.2 171.3h0M126.6 155.7h0M113.8 164.4h0M136.1 166.6h0M134.2 147.7h0M114.7 158.8h0M99.9 162.9h0M120.6 172.2h0M134.7 169.1h0M125.7 170.1h0M133.6 159.4h0M104.2 171.3h0M114.1 151.5h0M131.3 157.9h0M129.3 170.7h0M133.5 167.6h0M121.2 172.2h0M135.0 147.2h0M135.4 163.2h0M130.2 168.5h0M129.1 165.2h0M123.5 164.8h0M140.2 141.4h0M97.4 161.8h0M130.2 144.3h0M113.9 161.0h0M125.1 169.6h0M140.1 148.7h0M123.5 172.8h0M127.6 171.4h0M114.9 160.5h0M121.8 172.7h0M123.1 171.5h0M140.5 165.2h0M134.5 159.4h0M133.1 171.1h0M93.1 165.4h0M129.3 155.8h0M119.1 172.6h0M131.8 172.0h0M127.4 171.3h0M124.8 164.6h0M134.7 166.4h0M118.1 167.6h0M152.0 157.7h0M114.4 170.4h0M126.9 169.9h0M127.9 171.3h0M114.2 171.9h0M111.5 169.2h0M127.7 170.2h0M119.7 163.9h0M100.4 169.1h0M112.5 140.1h0M124.0 170.6h0M95.6 160.3h0M117.1 172.3h0M134.0 134.3h0M125.6 171.3h0M108.2 171.3h0M121.8 172.7h0M122.2 169.3h0M141.9 169.0h0M152.2 152.3h0M131.0 125.6h0M137.9 170.5h0M121.2 171.7h0M137.3 170.2h0M139.2 161.8h0M129.3 169.3h0M118.5 172.6h0M127.1 169.1h0M113.8 155.2h0M154.4 162.2h0M130.6 152.6h0M128.6 152.1h0M122.0 172.7h0M146.5 168.9h0M105.5 167.1h0M115.9 154.6h0M119.3 171.4h0M133.6 167.7h0M122.9 172.5h0M119.0 168.0h0M148.8 162.6h0M116.1 171.4h0M106.2 155.2h0M108.4 160.2h0M127.8 172.3h0M150.7 158.6h0M141.1 157.6h0M104.7 154.8h0M108.1 156.8h0M128.6 170.0h0M133.5 166.5h0M144.5 163.1h0M124.6 158.4h0M118.1 168.8h0M126.2 161.5h0M137.0 157.2h0M119.4 169.5h0M141.6 159.2h0M90.5 164.4h0M106.4 142.7h0M144.1 153.0h0M110.3 160.9h0M121.5 172.2h0M115.5 160.8h0M108.8 171.5h0M129.8 164.2h0M107.2 168.5h0M129.8 159.1h0M135.5 162.2h0M133.9 160.5h0M116.2 169.7h0M106.7 144.3h0M117.8 166.7h0M109.7 171.1h0M123.1 165.5h0M115.0 167.4h0M144.4 168.5h0M110.4 162.3h0M158.4 164.4h0M115.5 165.9h0M111.1 152.4h0M130.1 167.4h0M105.0 134.3h0M118.7 167.8h0M115.5 155.3h0M127.1 168.6h0M112.8 166.0h0M136.4 161.4h0M119.1 167.8h0M127.9 162.6h0M112.9 141.4h0M108.7 168.1h0M107.1 165.7h0M124.3 161.1h0M136.1 167.5h0M120.0 171.1h0M126.5 162.4h0M147.5 161.5h0M111.9 163.7h0M150.2 155.3h0M130.5 167.4h0M122.6 164.6h0M112.1 166.1h0M111.1 160.9h0M127.7 151.9h0M127.8 164.4h0M135.7 161.3h0M120.7 172.9h0M110.0 172.3h0M116.0 158.3h0M104.2 154.7h0M116.5 163.2h0M124.7 165.5h0M139.0 156.8h0M115.4 169.9h0M108.0 167.2h0M141.9 156.3h0M113.1 162.2h0M103.8 155.5h0M109.6 151.6h0M115.3 155.6h0M147.4 155.0h0M133.4 167.5h0M134.5 161.5h0M122.7 172.6h0M128.4 154.7h0M80.7 152.9h0M115.6 169.9h0M130.3 149.4h0M114.4 168.2h0M82.5 152.2h0M115.0 162.1h0M126.8 172.4h0M108.9 157.9h0M95.4 161.3h0M113.3 168.5h0M111.8 166.7h0M137.2 164.7h0M116.9 165.8h0M151.3 166.9h0M133.6 166.2h0M119.8 168.5h0M117.2 159.6h0M144.9 167.9h0M135.9 143.6h0M124.6 169.9h0M117.1 164.0h0M133.9 170.3h0M126.3 171.3h0M145.8 162.6h0M125.6 172.5h0M138.2 139.2h0M105.1 158.1h0M109.8 168.6h0M124.5 168.8h0M143.9 166.8h0M129.2 168.9h0M152.0 158.8h0M125.0 153.2h0M136.1 164.6h0M119.8 165.2h0M123.9 164.9h0M123.5 171.1h0M133.8 148.2h0M118.5 171.3h0M144.1 154.9h0M133.4 153.6h0M100.6 164.1h0M123.5 170.3h0M111.3 166.8h0M116.1 165.8h0M136.7 171.3h0M124.6 163.1h0M137.9 138.8h0M108.0 161.8h0M113.3 169.5h0M129.8 170.4h0M146.6 165.0h0M125.8 165.6h0M106.5 169.4h0M123.3 168.3h0M137.3 153.4h0M156.5 165.5h0M139.0 165.0h0M133.6 146.2h0M126.7 147.2h0M135.5 159.2h0M128.0 160.8h0M107.6 164.0h0M93.2 163.4h0M117.2 159.0h0M124.6 170.5h0M144.3 168.3h0M129.0 171.8h0M127.6 170.8h0M138.3 130.6h0M104.7 158.5h0M128.1 151.4h0M142.6 167.4h0M104.6 159.1h0M103.9 166.8h0M117.8 172.4h0M107.1 170.3h0M127.4 172.0h0M117.8 169.8h0M160.1 156.0h0M129.6 166.8h0M106.2 166.2h0M113.6 164.7h0M131.9 132.1h0M112.8 170.0h0M102.5 160.0h0M115.1 151.6h0M131.3 158.1h0M125.4 169.4h0M136.9 167.6h0M136.7 147.5h0M109.8 159.2h0M140.9 135.0h0M131.3 168.6h0M133.7 146.0h0M108.9 158.8h0M107.6 169.9h0M137.6 167.6h0M149.1 164.1h0M123.3 171.1h0M120.1 171.1h0M105.0 171.1h0M117.5 156.8h0M131.6 171.9h0M113.8 169.7h0M114.3 167.2h0M131.2 169.2h0M141.0 169.1h0M140.1 168.8h0M115.5 172.0h0M108.7 158.6h0M131.1 170.2h0M129.9 155.2h0M101.9 159.2h0M140.2 154.4h0M136.7 148.7h0M126.4 168.7h0M108.9 131.4h0M126.1 166.5h0M117.6 166.3h0M127.8 154.6h0M117.8 172.7h0M131.5 166.6h0M141.7 167.2h0M118.0 172.4h0M129.4 143.1h0M115.4 164.1h0M126.4 166.0h0M119.0 171.6h0M127.3 156.1h0M95.4 156.3h0M115.2 151.1h0M117.7 170.9h0M121.0 170.7h0M135.3 162.7h0M120.4 167.3h0M111.8 165.4h0M134.6 158.1h0M103.8 157.4h0M100.5 170.1h0M141.1 157.1h0M144.1 165.4h0M110.3 164.4h0M136.2 157.1h0M134.5 171.5h0M133.9 161.2h0M130.1 168.9h0M135.3 166.9h0M112.0 172.3h0M128.9 171.2h0M148.9 166.1h0M163.2 154.6h0M117.4 154.8h0M135.0 169.0h0M85.5 155.0h0M134.3 141.5h0M99.1 163.3h0M116.8 151.3h0M138.6 169.0h0M101.0 155.0h0M88.7 156.9h0M133.9 166.3h0M137.4 156.1h0M133.9 170.5h0M136.1 169.0h0M134.5 159.0h0M125.4 165.4h0M159.3 163.0h0M139.9 150.3h0M115.3 167.7h0M131.2 142.6h0M130.6 129.9h0M141.8 156.0h0M136.7 171.2h0M129.6 162.7h0M121.4 172.8h0M136.7 155.9h0M107.8 160.6h0M140.4 161.3h0M132.0 163.4h0M131.1 132.1h0M129.1 164.5h0M143.9 160.3h0M114.6 172.4h0M113.6 167.2h0M120.7 172.8h0M103.5 160.4h0M130.7 162.4h0M138.4 152.7h0M100.1 164.8h0M110.4 151.0h0M134.7 166.8h0M142.6 166.1h0M147.5 169.7h0M116.5 166.0h0M131.7 152.9h0M126.1 170.4h0M100.0 160.9h0M145.7 161.3h0M92.2 158.7h0M128.1 163.8h0M123.7 172.1h0M146.2 169.8h0M108.1 149.0h0M120.6 170.3h0M114.3 158.7h0M128.4 166.4h0M107.8 164.3h0M118.0 168.5h0M126.1 158.1h0M119.8 172.2h0M126.4 163.9h0M112.8 170.8h0M129.2 169.1h0M149.9 166.9h0M132.3 164.6h0M129.3 140.2h0M151.1 165.4h0M156.5 166.4h0M128.4 166.0h0M119.5 172.8h0M114.8 163.0h0M111.2 170.6h0M137.9 166.2h0M154.9 160.9h0M124.6 171.7h0M105.8 162.9h0M82.0 152.8h0M151.9 167.0h0M128.4 167.0h0M126.5 168.2h0M130.1 141.6h0M111.3 166.7h0M126.7 172.0h0M129.8 136.9h0M126.7 167.8h0M100.7 162.7h0M111.2 142.5h0M111.0 171.0h0M115.3 166.0h0M110.7 166.5h0M127.8 168.5h0M110.4 168.1h0M148.2 162.6h0M124.1 168.5h0M116.0 162.7h0M141.9 170.8h0M150.0 165.7h0M99.2 151.6h0M120.2 170.3h0M117.7 168.9h0M115.7 161.9h0M124.4 172.7h0M119.7 172.2h0M96.5 167.8h0M145.7 161.6h0M131.2 160.9h0M154.5 161.4h0M116.8 169.7h0M124.5 166.5h0M116.7 168.1h0M127.7 171.0h0M107.4 171.6h0M126.2 172.4h0M108.5 157.7h0M134.8 169.5h0M89.5 151.8h0M130.9 170.9h0M127.5 156.1h0M123.5 171.4h0M106.3 170.5h0M120.2 171.4h0M105.1 170.4h0M108.8 149.2h0M120.5 171.7h0M107.5 162.0h0M148.1 169.2h0M127.2 167.1h0M127.4 168.9h0M128.0 151.4h0M130.0 166.4h0M124.4 171.5h0M146.1 170.1h0M118.4 168.5h0M98.8 168.2h0M134.4 160.1h0M131.4 163.9h0M122.0 171.2h0M116.6 170.1h0M109.7 167.9h0M139.8 140.1h0M134.2 162.3h0M131.2 171.7h0M132.3 159.3h0M138.4 156.7h0M114.3 171.7h0M128.5 158.6h0M146.0 156.9h0M131.9 162.2h0M138.9 170.6h0M132.6 168.5h0M86.1 154.3h0M124.9 170.3h0M158.4 151.1h0M160.6 157.5h0M130.9 161.2h0M110.4 161.3h0M96.0 157.5h0M106.1 159.7h0M132.5 166.0h0M150.0 159.5h0M100.8 160.5h0M130.9 167.9h0M124.7 172.0h0M138.9 167.5h0M130.4 167.5h0M146.2 158.2h0M107.7 171.1h0M106.8 170.4h0M131.5 166.1h0M119.9 172.2h0M134.5 167.2h0M113.7 155.9h0M124.3 164.3h0M123.5 166.0h0M149.0 164.2h0M125.5 167.9h0M120.4 172.3h0M112.2 170.4h0M128.3 152.1h0M125.1 169.3h0M117.9 164.5h0M134.8 170.3h0M114.7 172.3h0M114.9 161.8h0M147.1 152.5h0M102.6 167.1h0M122.1 172.5h0M146.8 157.0h0M121.0 172.3h0M128.9 169.3h0M156.5 157.1h0M121.3 172.5h0M134.6 168.9h0M128.5 156.9h0M110.2 166.6h0M131.9 154.5h0M137.5 160.4h0M131.4 155.3h0M124.2 169.8h0M121.6 170.8h0M162.0 161.1h0M143.6 154.1h0M117.3 169.2h0M119.8 170.5h0M128.2 159.2h0M130.4 130.9h0M144.9 168.8h0M125.3 164.2h0M137.8 165.2h0M153.7 158.2h0M123.9 163.0h0M122.7 166.6h0M108.7 145.7h0M140.2 132.0h0M131.1 167.9h0M174.6 156.2h0M107.5 167.8h0M138.4 151.0h0M111.7 170.2h0M125.0 163.2h0M97.5 167.0h0M127.8 164.7h0M140.4 171.4h0M146.0 156.0h0M136.5 164.1h0M137.2 171.1h0M105.8 169.8h0M138.0 135.1h0M118.1 171.8h0M131.3 153.8h0M116.8 167.2h0M118.0 170.2h0M117.2 170.8h0M119.3 168.0h0M122.2 171.4h0M126.1 163.7h0M108.9 168.5h0M117.5 162.0h0M132.7 171.1h0M108.3 163.6h0M148.1 152.8h0M109.9 160.1h0M105.6 141.8h0M121.0 165.8h0M143.7 168.9h0M109.9 167.8h0M116.4 156.9h0M98.3 163.3h0M138.0 144.8h0M93.9 157.2h0M116.3 159.7h0M149.9 168.8h0M134.1 164.9h0M123.2 169.6h0M124.9 162.1h0M127.7 166.6h0M110.3 166.3h0M100.1 169.5h0M129.9 171.4h0M145.7 167.1h0M117.5 169.2h0M88.9 162.4h0M140.7 151.1h0M142.7 155.2h0M119.4 171.2h0M113.8 163.1h0M139.8 168.7h0M100.3 168.3h0M123.0 161.4h0M120.4 171.5h0M162.6 161.7h0M120.9 172.4h0M103.2 156.6h0M129.5 156.6h0M118.4 168.3h0M129.1 171.6h0M127.8 143.8h0M113.1 160.6h0M127.2 164.2h0M126.0 172.9h0M127.9 167.3h0M108.2 167.8h0M118.4 168.7h0M122.0 170.2h0M157.3 159.6h0M125.0 171.0h0M124.1 170.1h0M124.7 169.8h0M141.4 159.8h0M130.7 159.4h0M122.5 171.1h0M113.6 170.6h0M122.1 172.1h0M104.3 160.5h0M135.6 168.8h0M101.8 162.7h0M130.3 166.7h0M83.8 151.2h0M113.0 157.7h0M109.7 137.7h0M126.4 170.3h0M132.3 155.3h0M107.8 156.6h0M112.9 162.1h0M126.2 154.7h0M123.8 166.6h0M122.8 165.0h0M128.5 165.7h0M107.6 169.5h0M134.8 169.8h0M123.4 171.1h0M132.0 169.4h0M134.2 161.5h0M113.9 164.5h0M135.1 169.3h0M110.3 138.7h0M150.7 166.6h0M138.3 166.7h0M124.6 163.8h0M134.6 157.1h0M157.1 162.5h0M102.9 156.9h0M111.8 154.5h0M109.6 165.6h0M118.6 170.0h0M141.3 158.2h0M124.3 170.1h0M132.0 152.3h0M123.2 171.5h0M109.5 168.1h0M130.2 159.4h0M114.4 165.2h0M131.0 168.1h0M110.5 156.2h0M112.3 166.8h0M106.0 170.7h0M134.4 172.1h0M147.7 161.6h0M118.8 171.4h0M126.2 166.2h0M120.6 170.6h0M126.8 167.9h0M138.2 148.0h0M126.6 167.2h0M119.0 171.6h0M109.4 167.4h0M127.7 164.4h0M118.9 169.2h0M124.0 164.7h0M102.5 159.5h0M113.8 168.7h0M120.9 169.1h0M137.5 142.3h0M131.8 148.4h0M128.0 170.8h0M126.9 164.1h0M118.6 171.5h0M141.0 159.8h0M116.0 168.2h0M106.9 165.3h0M110.6 151.4h0M101.1 158.5h0M139.0 156.9h0M124.1 168.5h0M118.7 170.7h0M134.1 165.0h0M132.2 171.2h0M131.1 170.8h0M129.4 144.2h0M132.2 168.3h0M130.3 165.0h0M130.1 157.6h0M132.1 161.2h0M130.7 149.8h0M101.2 154.3h0M105.5 168.0h0M129.9 155.7h0M117.0 170.5h0M132.4 166.3h0M109.0 166.8h0M107.3 159.8h0M123.6 171.4h0M109.6 150.3h0M135.2 160.4h0M123.5 171.1h0M132.7 170.8h0M130.8 172.7h0M122.0 172.9h0M147.3 162.2h0M123.3 172.8h0M124.3 162.0h0M97.2 167.0h0M107.3 153.4h0M123.4 172.9h0M108.9 166.1h0M124.3 157.7h0M138.0 170.0h0M112.2 132.7h0M103.9 170.7h0M130.6 157.1h0M129.4 153.8h0M121.7 172.4h0M134.2 137.0h0M129.5 171.0h0M141.6 164.7h0M108.7 163.1h0M135.3 166.9h0M133.3 170.3h0M117.2 165.7h0M114.2 158.3h0M118.7 171.9h0M127.9 166.6h0M140.4 170.9h0M139.9 161.1h0M124.0 164.5h0M110.3 168.3h0M119.0 170.7h0M105.1 144.4h0M110.6 171.9h0M140.8 168.2h0M141.0 162.2h0M103.8 155.6h0M124.4 172.8h0M133.4 138.8h0M141.9 170.7h0M148.2 168.1h0M128.1 158.1h0M118.6 170.1h0M139.5 171.1h0M113.8 165.2h0M121.6 171.0h0M131.8 156.4h0M137.5 163.6h0M141.0 160.5h0M111.2 144.2h0M109.5 162.8h0M120.4 172.2h0M116.4 170.5h0M95.3 159.9h0M116.2 161.9h0M117.4 171.2h0M110.7 159.8h0M155.1 155.6h0M110.4 147.6h0M113.9 161.2h0M124.0 166.9h0M135.5 166.4h0M129.7 167.6h0M108.0 160.9h0M125.1 164.8h0M143.9 166.4h0M131.3 156.1h0M122.4 170.8h0M117.4 165.3h0M120.4 170.8h0M113.0 169.3h0M102.4 169.1h0M116.7 159.9h0M105.5 165.6h0M139.8 143.3h0M119.0 171.4h0M124.2 172.0h0M140.2 170.2h0M137.8 158.9h0M121.7 171.3h0M111.0 172.3h0M123.4 172.4h0M132.0 167.3h0M122.8 171.5h0M106.0 159.4h0M130.1 154.9h0M137.1 161.5h0M148.5 157.7h0M135.4 143.4h0M136.2 162.7h0M100.0 153.6h0M104.8 156.0h0M135.5 164.1h0M112.1 164.3h0M155.9 160.2h0M127.9 152.7h0M135.1 168.0h0M149.7 151.1h0M156.1 156.3h0M119.7 161.6h0M140.7 156.2h0M118.9 172.5h0M139.8 161.3h0M115.9 170.7h0M121.8 171.9h0M138.8 155.7h0M124.4 163.6h0M126.1 153.7h0M128.2 158.2h0M109.3 164.0h0M121.2 169.7h0M103.0 159.5h0M119.2 169.4h0M137.0 166.9h0M110.3 158.5h0M134.9 154.9h0M132.4 154.8h0M139.8 167.1h0M117.6 166.6h0M125.2 163.8h0M123.9 171.4h0M111.0 167.2h0M136.8 167.7h0M116.7 167.2h0M108.0 171.1h0M101.8 166.6h0M115.6 161.5h0M140.1 167.7h0M134.9 159.6h0M122.4 168.5h0M137.4 169.5h0M111.5 172.4h0M121.0 172.4h0M124.8 163.5h0M147.4 162.1h0M147.0 167.6h0M115.0 151.6h0M154.8 162.8h0M149.0 169.1h0M104.5 171.0h0M132.8 171.6h0M115.3 168.2h0M151.7 152.3h0M126.4 149.7h0M105.8 164.1h0M157.2 154.8h0M108.3 160.1h0M115.9 164.7h0M109.6 161.3h0M137.6 163.9h0M137.8 170.1h0M138.7 161.2h0M145.4 153.8h0M127.9 169.1h0M117.1 163.2h0M121.2 170.5h0M128.8 170.9h0M108.9 168.7h0M152.3 155.2h0M104.6 165.1h0M105.7 167.4h0M122.5 171.6h0M138.3 161.6h0M133.9 166.3h0M114.8 166.6h0M133.7 160.7h0M115.3 166.6h0M128.6 172.0h0M126.2 166.1h0M136.0 161.9h0M124.9 171.1h0M132.1 171.9h0M141.3 167.8h0M126.4 172.5h0M108.4 161.2h0M120.0 172.2h0M129.2 171.8h0M150.4 164.3h0M129.6 166.3h0M111.3 147.4h0M139.3 158.7h0M130.3 167.4h0M131.0 160.5h0M129.1 168.5h0M106.3 126.8h0M94.8 163.4h0M116.0 169.8h0M132.3 151.5h0M140.9 159.8h0M114.3 171.0h0M127.7 146.3h0M129.4 163.4h0M140.4 163.5h0M115.0 164.0h0M137.3 170.3h0M139.4 161.4h0M140.8 170.3h0M109.5 170.1h0M114.4 167.9h0M129.6 156.1h0M131.2 172.4h0M116.8 166.3h0M137.6 163.7h0M115.0 162.3h0M80.2 152.3h0M110.0 145.5h0M120.8 171.4h0M115.5 171.6h0M108.5 165.5h0M147.0 166.1h0M129.3 139.5h0M121.4 170.1h0M118.0 164.8h0M128.0 171.4h0M147.7 164.0h0M116.2 161.2h0M114.3 168.4h0M151.4 162.8h0M142.6 152.8h0M106.1 166.7h0M111.1 153.1h0M124.8 171.2h0M128.5 148.6h0M151.0 153.4h0M126.6 168.7h0M131.1 154.5h0M137.1 155.1h0M88.6 162.3h0M107.0 171.1h0M137.4 157.1h0M135.2 170.8h0M117.1 164.9h0M120.8 171.5h0M83.3 156.0h0M124.7 170.0h0M130.3 164.1h0M113.6 172.1h0M142.5 168.3h0M143.8 154.0h0M125.5 165.8h0M105.0 167.5h0M154.3 163.4h0M139.8 166.4h0M119.3 168.5h0M144.8 169.7h0M148.6 162.0h0M132.7 165.4h0M134.4 157.1h0M136.2 158.8h0M150.0 167.0h0M137.8 125.4h0M103.6 159.8h0M137.4 166.2h0M121.9 170.5h0M111.4 168.3h0M114.9 148.1h0M86.0 158.4h0M129.9 141.8h0M109.8 167.8h0M130.6 172.0h0M116.8 172.5h0M126.0 165.4h0M131.3 141.4h0M141.7 170.8h0M113.2 149.9h0M147.9 160.9h0M124.1 171.3h0M131.2 164.9h0M121.4 170.4h0M129.2 141.4h0M143.1 168.4h0M130.2 159.0h0M118.9 168.3h0M133.3 141.9h0M117.1 168.0h0M111.0 168.8h0M122.4 166.3h0M121.8 172.9h0M120.8 171.0h0M103.5 151.3h0M135.5 166.7h0M138.5 143.2h0M128.2 164.2h0M123.6 168.9h0M105.6 170.3h0M109.2 170.9h0M129.7 171.4h0M122.8 168.9h0M125.8 166.0h0M105.4 170.7h0M131.6 167.1h0M134.7 131.0h0M87.3 158.0h0M107.1 170.9h0M129.4 167.0h0M134.4 167.2h0M116.8 170.3h0M125.5 170.9h0M152.2 163.2h0M126.7 170.2h0M112.2 160.8h0M158.2 158.8h0M140.4 154.5h0M133.4 166.0h0M127.5 172.6h0M115.5 170.1h0M127.4 171.9h0M127.5 163.1h0M116.6 171.3h0M127.8 168.3h0M143.4 166.1h0M116.2 166.1h0M127.3 158.6h0M110.9 143.7h0M118.4 172.0h0M119.1 172.3h0M128.5 164.1h0M127.7 154.2h0M125.9 171.2h0M84.6 155.5h0M110.2 167.2h0M96.2 165.4h0M126.9 158.4h0M145.9 170.3h0M134.5 171.2h0M148.8 163.8h0M120.7 170.3h0M132.0 155.9h0M138.0 161.9h0M107.8 167.1h0M103.9 125.9h0M114.6 166.4h0M153.7 163.8h0M138.9 160.9h0M107.0 169.9h0M110.1 168.6h0M131.2 151.5h0M126.3 171.3h0M100.4 161.4h0M132.1 168.6h0M113.6 166.3h0M98.1 158.0h0M109.1 151.4h0M101.9 165.8h0M132.3 125.6h0M107.1 160.8h0M102.9 151.7h0M139.6 153.6h0M136.2 146.8h0M140.7 150.0h0M117.6 160.6h0M128.0 168.1h0M136.5 167.1h0M115.5 172.1h0M136.5 139.0h0M146.3 161.5h0M138.7 167.6h0M100.2 169.2h0M94.4 159.3h0M130.7 139.7h0M138.3 164.3h0M121.8 171.1h0M127.8 165.4h0M137.8 168.9h0M138.4 165.7h0M107.2 161.7h0M106.0 157.6h0M122.0 172.5h0M116.2 164.6h0M148.6 162.6h0M113.4 169.8h0M109.2 163.2h0M131.6 148.3h0M130.6 165.9h0M131.2 154.0h0M124.7 170.4h0M124.2 154.8h0M118.7 172.9h0M113.2 170.3h0M128.6 166.7h0M123.4 167.8h0M133.8 165.9h0M110.0 158.0h0M130.1 172.6h0M135.1 143.1h0M96.8 158.6h0M129.0 160.1h0M122.3 171.0h0M142.0 162.0h0M127.2 158.5h0M144.1 167.8h0M94.3 152.4h0M133.4 162.0h0M99.6 168.4h0M99.1 163.7h0M137.6 153.2h0M117.1 152.8h0M122.8 172.3h0M106.1 167.7h0M117.8 167.7h0M126.3 156.2h0M137.7 151.2h0M133.8 165.5h0M103.6 165.6h0M107.1 164.8h0M115.9 170.7h0M124.2 159.0h0M133.9 162.6h0M130.2 167.6h0M109.0 143.2h0M134.7 152.8h0M141.3 150.0h0M124.3 170.5h0M116.3 169.5h0M108.3 163.0h0M131.4 168.8h0M117.9 169.6h0M111.2 165.6h0M152.0 162.7h0M120.5 169.9h0M139.7 156.2h0M140.0 169.6h0M143.1 164.0h0M132.4 162.4h0M131.6 164.0h0M124.5 168.0h0M120.5 172.4h0M133.7 153.6h0M113.2 171.7h0M111.5 162.5h0M138.0 134.4h0M103.1 155.7h0M153.9 167.2h0M120.4 169.3h0M134.5 171.7h0M127.4 171.4h0M121.1 171.4h0M141.7 164.3h0M113.2 164.7h0M136.1 147.8h0M107.3 166.9h0M127.3 169.6h0M121.1 167.6h0M139.5 166.3h0M143.7 169.9h0M140.2 157.5h0M120.8 171.3h0M122.7 171.5h0M145.6 167.4h0M136.0 160.6h0M142.8 168.1h0M144.7 165.8h0M118.8 170.3h0M129.9 164.8h0M105.2 161.8h0M140.1 171.6h0M121.7 171.7h0M96.5 165.5h0M116.3 172.5h0M119.6 171.4h0M118.2 172.3h0M139.4 161.6h0M163.9 159.7h0M124.9 169.6h0M120.6 171.7h0M138.5 167.3h0M91.9 162.3h0M133.5 162.5h0M103.6 161.5h0M126.9 164.3h0M98.4 158.0h0M133.7 160.3h0M145.3 159.4h0M111.7 163.0h0M110.6 154.3h0M131.7 159.4h0M107.4 169.9h0M133.5 164.5h0M120.4 172.4h0M121.4 172.8h0M134.8 167.7h0M133.4 162.7h0M110.4 165.1h0M138.2 148.5h0M108.0 164.0h0M138.6 171.8h0M114.1 161.7h0M144.7 165.2h0M117.5 165.9h0M107.8 169.6h0M137.6 162.8h0M125.1 155.6h0M122.0 168.2h0M137.2 148.4h0M127.6 148.6h0M97.8 163.4h0M147.3 160.0h0M108.1 164.9h0M130.0 147.0h0M131.4 142.4h0M127.6 168.5h0M126.9 166.2h0M113.4 172.2h0M132.3 138.9h0M114.2 164.4h0M136.1 165.6h0M104.7 166.7h0M125.0 166.7h0M97.8 153.9h0M124.6 166.6h0M127.0 167.2h0M104.2 146.2h0M146.6 153.2h0M104.1 157.5h0M106.9 165.6h0M150.3 164.8h0M115.0 145.4h0M95.1 163.5h0M117.6 160.5h0M104.8 162.2h0M121.8 172.4h0M112.5 154.4h0M122.2 172.8h0M123.2 165.0h0M141.2 149.5h0M115.9 161.9h0M129.0 166.6h0M110.1 158.5h0M120.8 171.0h0M96.8 164.8h0M109.4 159.4h0M148.1 158.4h0M112.4 170.7h0M119.5 167.6h0M118.2 170.3h0M136.0 165.0h0M110.1 168.0h0M108.5 151.6h0M143.2 165.6h0M124.6 168.5h0M129.4 170.5h0M117.6 162.7h0M122.7 168.5h0M134.1 161.5h0M161.1 159.1h0M125.5 168.2h0M142.6 164.3h0M128.1 163.8h0M120.7 172.0h0M126.8 172.6h0M130.3 166.5h0M113.4 165.7h0M118.0 168.3h0M95.4 164.0h0M113.1 129.9h0M133.0 170.5h0M118.6 169.0h0M122.9 166.4h0M136.3 170.8h0M121.1 171.7h0M109.5 167.4h0M105.3 164.6h0M162.0 160.2h0M126.8 167.7h0M141.3 168.9h0M110.0 171.7h0M145.5 155.0h0M111.1 160.1h0M146.4 161.1h0M117.3 172.2h0M107.6 169.8h0M133.8 152.6h0M133.7 147.9h0M98.5 160.8h0M122.6 171.8h0M105.6 164.4h0M120.3 172.5h0M116.8 167.3h0M139.2 171.3h0M124.9 172.2h0M143.6 167.1h0M135.6 171.1h0M118.0 158.9h0M107.0 165.2h0M129.7 165.9h0M127.4 167.1h0M106.3 143.0h0M125.8 169.8h0M117.2 163.6h0M98.6 168.7h0M125.8 171.9h0M128.7 158.6h0M105.8 163.5h0M114.3 169.2h0M130.3 170.3h0M140.0 170.2h0M98.1 168.5h0M109.3 153.8h0M105.2 171.2h0M104.7 161.5h0M100.4 163.5h0M112.2 148.7h0M139.1 170.6h0M139.7 157.8h0M156.8 166.4h0M113.1 170.5h0M128.4 158.3h0M111.8 171.9h0M159.3 164.2h0M111.8 163.9h0M100.3 169.2h0M126.2 170.7h0M127.8 165.2h0M133.2 143.5h0M139.2 170.6h0M93.7 163.3h0M108.9 166.5h0M150.7 151.8h0M142.2 171.2h0M91.9 159.4h0M107.2 171.7h0M122.6 170.3h0M107.5 171.3h0M107.9 171.6h0M147.2 167.4h0M118.8 168.2h0M142.0 160.1h0M91.2 164.4h0M112.1 167.9h0M139.2 159.6h0M128.7 153.8h0M103.8 169.3h0M111.4 139.2h0M133.5 155.3h0M119.4 166.2h0M109.8 141.3h0M112.9 167.2h0M125.4 170.5h0M113.9 167.6h0M142.6 157.3h0M118.8 166.7h0M129.6 164.6h0M111.6 171.8h0M114.0 170.5h0M105.1 168.8h0M126.2 162.8h0M110.0 142.0h0M102.2 152.3h0M126.0 164.8h0M119.9 170.4h0M121.3 172.8h0M134.0 167.8h0M134.3 154.5h0M130.2 164.4h0M123.9 172.7h0M111.0 159.7h0M149.9 163.8h0M133.0 164.4h0M92.3 159.9h0M108.0 160.5h0M137.3 155.7h0M103.5 163.9h0M119.3 171.4h0M116.3 152.3h0M136.4 153.9h0M133.3 156.6h0M117.2 166.1h0M125.0 167.6h0M150.8 168.0h0M108.8 160.6h0M129.3 159.0h0M113.8 149.0h0M117.7 159.9h0M113.0 158.5h0M115.0 167.2h0M107.4 136.8h0M131.3 153.2h0M113.2 153.8h0M111.9 165.6h0M137.8 137.1h0M121.9 171.8h0M122.8 170.2h0M154.0 167.7h0M128.7 164.7h0M135.4 166.4h0M149.5 160.7h0M133.8 169.1h0M130.5 169.6h0M113.8 155.8h0M142.7 163.9h0M143.3 156.3h0M144.1 159.6h0M143.2 166.2h0M150.5 160.4h0M126.9 170.8h0M105.1 171.5h0M113.0 151.6h0M126.0 169.9h0M125.1 156.1h0M131.8 160.1h0M117.3 161.7h0M165.0 161.8h0M107.3 164.1h0M132.1 171.5h0M123.9 161.5h0M150.9 165.1h0M160.7 154.9h0M145.2 165.4h0M128.2 172.7h0M107.8 168.8h0M129.7 171.2h0M109.8 171.9h0M123.1 171.6h0M123.0 170.7h0M106.6 152.9h0M140.1 162.1h0M114.2 172.4h0M147.0 158.6h0M133.8 169.8h0M111.4 169.7h0M122.3 170.6h0M109.6 156.0h0M105.3 169.1h0M119.6 169.7h0M133.2 168.5h0M134.4 139.3h0M132.7 159.9h0M142.7 163.1h0M133.2 148.4h0M144.8 168.7h0M121.1 170.4h0M132.1 144.7h0M102.1 165.1h0M116.6 171.8h0M128.5 170.7h0M123.4 165.7h0M154.1 156.5h0M129.9 169.9h0M125.0 167.0h0M113.2 169.9h0M129.0 157.3h0M122.4 172.0h0M131.2 157.4h0M133.5 165.1h0M109.9 171.5h0M142.0 159.3h0M121.1 172.0h0M130.4 134.2h0M127.2 155.6h0M118.2 166.9h0M133.9 165.6h0M108.3 154.4h0M128.3 172.2h0M139.3 145.7h0M118.8 168.6h0M117.8 162.5h0M139.9 158.7h0M104.5 165.0h0M142.5 166.6h0M128.1 168.5h0M98.9 169.4h0M148.3 167.0h0M114.3 155.0h0M126.1 167.2h0M135.6 170.1h0M112.7 162.6h0M120.0 167.3h0M123.2 171.6h0M132.0 139.9h0M138.8 154.5h0M109.7 169.3h0M119.1 171.4h0M132.7 168.1h0M149.5 165.2h0M111.8 164.4h0M153.0 164.8h0M154.8 163.6h0M136.7 164.3h0M131.7 166.7h0M119.7 172.1h0M132.6 165.2h0M109.6 169.0h0M137.1 170.8h0M143.2 166.7h0M134.4 172.3h0M110.1 172.1h0M136.3 152.6h0M113.0 159.0h0M115.8 167.7h0M109.9 151.1h0M104.7 158.7h0M131.6 157.3h0M113.5 171.7h0M125.9 164.2h0M123.4 171.5h0M125.4 164.3h0M134.7 148.3h0M118.2 172.7h0M131.3 163.0h0M125.1 171.2h0M129.7 162.3h0M94.8 162.1h0M102.7 169.9h0M125.2 168.1h0M108.3 159.0h0M127.3 170.4h0M137.6 167.3h0M127.7 169.9h0M148.3 161.6h0M134.8 170.1h0M117.0 172.5h0M115.1 157.5h0M94.1 157.9h0M122.3 172.4h0M117.4 162.0h0M131.3 170.1h0M113.2 165.4h0M100.2 162.2h0M129.5 156.1h0M131.1 171.3h0M122.6 172.8h0M138.0 169.5h0M124.4 166.5h0M111.0 170.6h0M108.4 172.0h0M153.1 166.6h0M123.9 164.2h0M134.5 165.0h0M125.0 171.5h0M119.7 169.0h0M129.6 163.3h0M137.4 166.7h0M133.7 164.0h0M124.9 165.3h0M120.9 171.3h0M128.3 156.6h0M130.5 172.7h0M116.3 166.8h0M121.4 172.5h0M96.5 167.8h0M136.0 135.8h0M126.4 171.7h0M129.5 167.4h0M127.1 159.5h0M142.3 166.9h0M126.0 160.2h0M110.9 143.8h0M128.8 171.0h0M118.3 170.3h0M114.7 170.1h0M126.9 158.2h0M118.3 171.7h0M93.0 161.7h0M124.2 166.7h0M151.3 153.5h0M137.4 138.0h0M122.9 172.3h0M138.8 167.1h0M143.2 170.4h0M111.4 167.7h0M101.7 156.0h0M137.5 165.3h0M132.3 145.7h0M133.8 164.8h0M131.0 168.1h0M138.3 168.6h0M120.0 168.4h0M149.2 167.0h0M107.7 170.3h0M145.2 162.1h0M133.0 169.9h0M141.2 167.7h0M144.6 167.4h0M125.9 168.6h0M152.0 166.3h0M120.2 168.9h0M129.5 146.9h0M137.8 162.9h0M101.6 169.7h0M145.2 151.1h0M127.8 167.4h0M139.5 169.7h0M134.8 155.9h0M122.6 171.5h0M110.6 161.1h0M127.6 166.1h0M107.7 151.4h0M141.7 159.4h0M146.4 157.7h0M121.8 171.0h0M127.0 172.8h0M129.2 157.9h0M150.3 155.2h0M128.7 165.6h0M143.6 164.0h0M111.6 171.7h0M114.9 170.7h0M128.1 168.3h0M128.2 169.7h0M114.0 169.6h0M115.1 169.2h0M115.8 169.2h0M146.4 153.1h0M136.9 150.3h0M97.2 168.3h0M120.3 170.3h0M134.4 171.1h0M114.1 151.8h0M108.2 159.4h0M116.9 165.8h0M147.1 167.9h0M110.3 136.9h0M123.0 166.3h0M137.0 167.3h0M115.5 165.1h0M108.0 165.2h0M116.5 171.7h0M124.6 167.9h0M129.3 169.7h0M130.4 155.6h0M139.2 168.8h0M119.6 170.8h0M136.9 163.7h0M132.3 143.5h0M108.5 171.7h0M115.2 165.6h0M156.6 165.4h0M114.5 172.2h0M111.8 159.6h0M137.3 150.1h0M110.0 127.4h0M110.0 170.6h0M99.0 160.8h0M144.3 151.7h0M112.3 159.8h0M133.2 168.7h0M118.8 171.5h0M139.5 168.7h0M118.8 167.6h0M113.5 168.1h0M132.4 145.8h0M107.4 149.6h0M120.8 165.4h0M144.8 166.4h0M96.6 166.9h0M113.2 150.3h0M121.1 172.6h0M124.2 168.9h0M137.6 146.4h0M126.4 156.7h0M144.2 168.0h0M129.0 167.8h0M158.9 165.3h0M115.3 168.3h0M141.2 158.5h0M110.8 172.4h0M118.4 171.8h0M151.4 165.0h0M121.7 171.8h0M139.6 154.3h0M145.8 161.6h0M134.1 157.5h0M109.8 122.8h0M119.2 170.9h0M125.9 167.6h0M104.8 154.6h0M159.4 160.2h0M141.7 154.8h0M132.9 169.9h0M99.2 167.0h0M111.1 138.4h0M119.3 172.8h0M109.0 153.2h0M110.7 147.8h0M125.7 167.9h0M115.0 172.6h0M114.9 167.8h0M150.9 162.2h0M140.5 149.1h0M113.8 148.6h0M143.0 166.7h0M113.7 164.4h0M130.1 155.0h0M121.8 172.7h0M121.7 170.5h0M106.4 163.8h0M115.2 172.2h0M115.3 166.4h0M144.3 170.5h0M125.7 166.2h0M111.2 155.3h0M135.9 164.2h0M108.4 156.6h0M119.7 167.8h0M133.0 152.4h0M121.5 172.6h0M137.5 128.0h0M129.6 168.3h0M128.9 169.2h0M116.4 168.0h0M88.8 157.3h0M135.4 161.6h0M127.7 146.0h0M138.6 170.1h0M130.3 170.4h0M135.3 160.3h0M121.4 171.3h0M115.4 161.2h0M114.4 148.7h0M130.7 164.1h0M124.7 161.5h0M98.0 158.5h0M119.6 170.2h0M118.1 169.1h0M109.9 150.4h0M112.8 142.5h0M136.9 171.1h0M121.8 172.3h0M118.6 167.6h0M118.3 170.4h0M136.0 171.6h0M151.9 167.6h0M150.4 163.7h0M125.0 167.3h0M122.1 172.1h0M104.2 168.4h0M113.9 172.3h0M118.1 172.1h0M106.7 165.4h0M121.3 170.0h0M98.6 151.6h0M116.4 163.9h0M120.5 171.7h0M135.8 167.3h0M132.0 139.0h0M102.7 159.9h0M137.0 147.9h0M116.5 168.1h0M128.4 158.8h0M136.1 161.5h0M122.0 169.6h0M124.2 172.1h0M123.2 171.6h0M118.6 165.3h0M135.8 161.6h0M136.8 160.1h0M89.4 162.6h0M130.8 170.5h0M124.6 172.3h0M153.1 163.4h0M126.8 159.7h0M108.2 170.0h0M144.4 156.5h0M134.2 168.8h0M116.7 171.0h0M150.5 159.1h0M120.4 172.8h0M113.0 171.0h0M119.0 172.2h0M137.8 170.7h0M109.8 154.6h0M123.5 171.1h0M126.4 156.6h0M103.3 165.7h0M127.5 163.5h0M134.7 137.7h0M124.7 166.4h0M117.3 159.9h0M116.7 169.9h0M130.4 144.4h0M130.4 169.6h0M113.0 167.8h0M150.5 151.3h0M120.5 167.2h0M105.4 158.1h0M138.4 131.0h0M128.3 165.7h0M127.5 172.7h0M132.4 167.3h0M110.3 171.2h0M147.6 168.6h0M113.4 167.0h0M150.0 165.0h0M154.6 161.4h0M120.4 172.0h0M111.4 167.2h0M116.6 168.6h0M126.1 171.7h0M140.8 168.9h0M112.0 158.3h0M130.0 172.6h0M121.6 171.7h0M129.7 164.5h0M124.3 161.8h0M141.1 164.2h0M95.5 163.6h0M128.7 159.3h0M133.5 164.9h0M130.4 153.0h0M113.2 169.5h0M145.0 160.9h0M136.4 170.7h0M122.7 171.0h0M134.0 172.2h0M120.1 172.5h0M129.1 166.9h0M115.0 150.8h0M123.3 172.1h0M107.8 157.2h0M100.2 163.9h0M129.6 157.2h0M127.4 160.9h0M124.2 170.6h0M122.1 172.3h0M118.4 170.0h0M125.2 162.5h0M145.7 155.9h0M129.5 157.1h0M157.9 152.9h0M97.3 168.5h0M99.8 162.3h0M121.5 172.1h0M142.5 168.5h0M112.9 159.9h0M119.1 171.1h0M129.2 163.5h0M126.7 166.2h0M104.8 147.3h0M127.7 155.7h0M129.7 170.4h0M130.5 160.0h0M116.9 169.0h0M127.7 172.4h0M101.3 154.7h0M118.1 165.9h0M130.7 166.0h0M119.4 171.1h0M136.9 166.3h0M131.8 150.8h0M138.6 161.1h0M157.4 165.2h0M150.8 165.1h0M107.8 152.9h0M84.2 157.0h0M111.9 172.3h0M117.8 171.8h0M128.8 160.1h0M149.5 161.5h0M115.5 170.4h0M139.4 152.3h0M132.4 171.8h0M126.0 172.8h0M127.8 168.5h0M132.0 172.5h0M137.4 149.5h0M127.1 152.1h0M86.4 157.4h0M135.6 155.8h0M127.7 158.8h0M130.1 140.5h0M116.2 167.3h0M109.3 150.8h0M128.2 161.0h0M133.1 151.2h0M102.1 157.2h0M130.3 172.1h0M111.8 162.6h0M121.3 172.2h0M122.8 167.5h0M117.6 163.3h0M116.8 172.5h0M129.6 171.1h0M122.3 170.6h0M124.3 167.5h0M93.7 160.2h0M130.7 156.4h0M103.7 145.8h0M159.2 155.8h0M124.1 166.3h0M121.5 170.9h0M120.1 171.5h0M99.1 154.0h0M101.3 161.7h0M117.0 161.9h0M103.9 159.6h0M140.4 159.8h0M141.7 170.7h0M131.8 138.5h0M106.9 137.7h0M126.1 162.0h0M100.1 157.8h0M105.4 166.0h0M131.3 143.1h0M141.3 153.5h0M112.9 170.4h0M137.7 165.4h0M129.3 158.3h0M137.8 167.0h0M149.7 159.1h0M151.8 164.7h0M145.6 163.5h0M112.0 162.4h0M131.2 145.8h0M131.2 155.2h0M109.5 159.9h0M149.8 166.9h0M109.6 167.0h0M114.6 169.8h0M129.6 153.6h0M127.9 171.5h0M112.0 164.1h0M114.3 170.4h0M120.0 171.7h0M131.2 172.7h0M148.8 158.4h0M100.6 160.6h0M133.5 168.7h0M140.5 165.7h0M122.2 172.7h0M140.2 168.9h0M123.9 164.1h0M89.8 159.8h0M111.6 150.4h0M122.9 172.2h0M135.1 158.8h0M104.3 149.7h0M120.0 169.5h0M127.7 169.4h0M115.8 148.4h0M135.3 131.8h0M126.4 146.5h0M115.9 171.2h0M140.5 152.3h0M115.5 158.5h0M124.4 172.3h0M141.9 168.1h0M158.0 160.9h0M111.4 140.9h0M145.6 169.9h0M138.5 164.1h0M140.9 156.9h0M133.4 149.5h0M123.5 172.7h0M128.3 166.4h0M107.8 162.8h0M150.7 168.5h0M118.5 170.0h0M126.1 164.7h0M120.5 169.8h0M142.2 167.9h0M127.4 146.4h0M136.8 156.6h0M118.7 167.3h0M120.7 172.9h0M156.7 153.6h0M143.2 154.8h0M94.0 163.1h0M82.6 155.7h0M122.8 172.6h0M131.3 153.3h0M88.0 158.9h0M124.0 165.8h0M118.3 172.1h0M127.3 168.8h0M123.9 169.0h0M91.2 161.5h0M131.2 165.5h0M119.0 172.6h0M105.4 151.0h0M116.1 162.5h0M113.5 161.6h0M115.0 170.9h0M118.3 170.2h0M125.2 167.2h0M109.8 162.7h0M111.0 166.5h0M141.7 152.0h0M127.4 171.3h0M123.5 157.1h0M123.1 172.6h0M137.5 151.9h0M136.0 147.5h0M132.6 170.5h0M129.6 168.0h0M122.0 172.8h0M132.9 149.9h0M100.2 168.6h0M130.5 171.3h0M144.2 159.9h0M104.2 165.5h0M113.7 172.6h0M128.0 170.6h0M125.8 156.1h0M122.9 169.0h0M115.3 171.2h0M127.3 172.2h0M123.1 170.4h0M117.5 166.0h0M123.8 171.0h0M128.6 157.6h0M120.1 169.0h0M115.6 172.0h0M135.8 170.1h0M116.4 168.9h0M128.8 166.6h0M126.2 166.4h0M116.7 158.5h0M116.7 172.6h0M143.1 151.5h0M134.3 160.5h0M117.1 170.9h0M123.0 172.2h0M122.1 171.4h0M108.5 161.8h0M131.2 156.0h0M117.2 162.0h0M119.4 168.5h0M113.8 152.9h0M137.2 170.0h0M159.6 163.6h0M115.8 160.2h0M128.0 162.3h0M116.5 170.6h0M97.3 168.5h0M140.7 150.8h0M90.3 160.8h0M134.7 156.5h0M132.3 164.6h0M148.4 164.0h0M112.4 161.7h0M132.4 144.8h0M140.9 147.5h0M153.9 167.7h0M115.4 170.8h0M148.1 160.6h0M106.7 168.0h0M120.4 172.4h0M125.1 172.0h0M129.8 160.1h0M123.5 172.1h0M117.3 171.1h0M123.3 168.9h0M119.6 171.6h0M111.7 171.9h0M126.9 172.5h0M134.4 164.5h0M112.2 170.0h0M107.4 156.9h0M116.6 165.4h0M140.3 167.4h0M117.4 160.4h0M131.8 167.6h0M128.5 170.3h0M131.2 156.7h0M117.2 151.4h0M129.3 166.3h0M145.4 152.7h0M109.0 156.9h0M129.5 165.2h0M160.6 156.4h0M124.8 166.9h0M100.3 159.7h0M122.8 167.9h0M136.9 145.9h0M103.8 142.5h0M164.3 155.1h0M87.4 154.6h0M127.4 146.2h0M127.3 160.3h0M130.9 164.7h0M113.2 172.6h0M138.1 171.8h0M141.8 167.9h0M107.9 140.6h0M130.7 148.0h0M137.6 158.8h0M128.1 165.4h0M125.9 159.3h0M110.1 167.4h0M90.7 163.4h0M148.7 167.4h0M128.8 149.8h0M147.8 168.1h0M110.6 167.2h0M131.5 161.3h0M127.7 158.7h0M128.9 159.8h0M114.6 170.2h0M124.0 170.9h0M120.9 172.3h0M101.1 160.8h0M115.8 166.9h0M86.8 157.8h0M149.7 165.6h0M112.6 171.4h0M132.6 157.6h0M125.5 168.3h0M125.4 171.9h0M133.8 163.4h0M143.5 166.2h0M137.7 166.6h0M115.7 170.1h0M106.1 163.9h0M120.3 172.6h0M130.8 153.0h0M111.9 162.2h0M131.8 171.0h0M125.1 170.8h0M111.3 155.8h0M131.2 171.5h0M116.4 163.9h0M133.4 170.1h0M153.8 153.6h0M137.8 157.8h0M127.3 152.9h0M109.7 157.3h0M116.3 168.7h0M136.6 152.2h0M150.6 164.1h0M123.1 170.1h0M138.7 157.1h0M122.2 168.6h0M151.4 162.2h0M127.4 142.5h0M128.5 167.7h0M111.7 161.6h0M126.9 170.9h0M135.7 162.9h0M133.8 168.4h0M128.9 172.0h0M108.9 142.9h0M120.8 172.9h0M138.0 163.3h0M139.6 136.4h0M131.3 166.7h0M104.3 131.3h0M122.8 172.3h0M127.3 159.4h0M113.7 163.4h0M95.4 160.5h0M101.4 170.5h0M135.5 149.9h0M129.4 151.1h0M141.2 163.1h0M116.4 168.1h0M132.8 152.0h0M118.9 161.8h0M119.9 169.0h0M149.0 168.4h0M132.7 152.4h0M126.0 168.8h0M129.2 159.5h0M116.2 166.5h0M123.4 165.5h0M144.7 169.9h0M140.0 163.8h0M139.8 156.4h0M110.1 172.2h0M113.2 172.4h0M118.2 167.1h0M108.4 155.3h0M113.8 169.6h0M143.1 170.5h0M91.4 157.4h0M134.5 161.8h0M162.1 152.1h0M109.6 157.5h0M125.0 165.1h0M102.1 165.5h0M95.1 165.7h0M141.5 170.2h0M136.4 153.9h0M128.8 165.9h0M130.3 146.8h0M132.0 166.7h0M143.8 156.1h0M139.1 164.9h0M131.2 165.0h0M118.5 167.6h0M120.4 170.1h0M112.9 148.5h0M140.2 170.5h0M107.0 164.1h0M142.8 157.8h0M116.7 149.1h0M94.5 153.9h0M118.0 169.8h0M149.7 164.7h0M118.7 164.2h0M137.8 160.3h0M126.0 171.9h0M130.9 167.5h0M123.4 170.2h0M127.1 171.7h0M138.3 170.9h0M119.2 172.8h0M116.4 172.7h0M151.5 152.7h0M130.8 171.0h0M97.0 167.4h0M108.8 168.4h0M128.6 168.1h0M137.0 154.2h0M117.9 171.7h0M104.2 165.6h0M113.6 170.8h0M138.7 141.5h0M129.8 164.7h0M148.4 155.9h0M127.6 169.7h0M123.8 165.8h0M134.1 155.0h0M150.4 162.3h0M139.4 159.2h0M136.0 134.3h0M137.2 163.1h0M145.1 163.5h0M127.0 157.6h0M131.7 158.1h0M118.6 172.6h0M106.8 126.6h0M154.3 164.3h0M131.1 167.0h0M116.3 171.3h0M112.3 165.4h0M128.0 170.2h0M114.0 168.4h0M135.2 150.4h0M155.2 165.7h0M98.8 165.8h0M139.2 157.6h0M129.1 163.0h0M126.2 164.7h0M133.7 171.6h0M110.4 152.4h0M141.5 157.6h0M123.7 170.1h0M123.0 169.1h0M130.6 155.0h0M142.5 168.8h0M139.1 163.7h0M148.6 167.6h0M157.4 159.0h0M144.7 169.5h0M125.7 167.0h0M140.4 157.7h0M108.4 169.7h0M115.8 169.2h0M134.9 164.9h0M157.5 158.4h0M137.9 170.5h0M109.0 168.5h0M130.8 171.1h0M123.5 164.8h0M140.7 159.8h0M136.8 171.0h0M111.6 149.1h0M122.9 172.6h0M111.0 167.5h0M125.7 165.9h0M120.7 168.2h0M137.5 155.7h0M105.3 156.4h0M114.9 170.8h0M115.4 149.7h0M104.5 167.1h0M119.9 170.7h0M129.6 142.2h0M120.6 164.6h0M112.9 168.4h0M110.3 167.6h0M129.3 169.8h0M116.2 155.8h0M122.0 172.6h0M132.9 162.8h0M131.5 172.5h0M111.3 145.8h0M145.5 162.6h0M119.0 170.0h0M111.2 167.4h0M132.3 167.9h0M123.3 169.1h0M117.1 167.1h0M120.4 171.2h0M107.2 162.7h0M126.2 160.5h0M131.6 172.5h0M137.9 165.9h0M137.7 171.8h0M150.6 151.3h0M114.0 169.7h0M128.5 166.4h0M113.4 165.7h0M140.4 171.0h0M123.1 168.8h0M121.0 172.7h0M117.7 172.6h0M117.2 171.2h0M121.9 172.4h0M118.5 170.2h0M119.7 172.3h0M126.8 170.6h0M91.7 164.3h0M137.9 166.6h0M121.5 172.2h0M123.2 165.4h0M134.3 169.9h0M116.3 160.6h0M114.6 172.7h0M100.8 154.9h0M133.7 165.9h0M137.8 157.3h0M119.6 171.4h0M110.3 165.7h0M118.2 169.6h0M119.9 163.3h0M109.0 167.9h0M120.8 172.3h0M141.1 156.1h0M109.8 164.9h0M122.6 172.4h0M94.1 163.2h0M105.5 162.5h0M118.9 164.2h0M126.8 160.1h0M130.7 166.1h0M101.6 156.5h0M104.2 158.6h0M115.3 163.1h0M131.7 150.1h0M142.7 171.1h0M138.1 170.1h0M108.6 149.1h0M158.2 163.3h0M131.6 171.3h0M119.4 171.2h0M124.7 167.7h0M133.0 168.4h0M132.5 124.6h0M102.0 153.8h0M106.9 136.4h0M103.4 165.8h0M107.5 138.1h0M115.5 159.4h0M147.9 163.8h0M108.2 171.0h0M125.6 167.1h0M125.2 159.5h0M119.8 170.0h0M118.9 170.9h0M131.7 131.4h0M100.7 169.7h0M126.3 155.6h0M86.7 153.7h0M118.3 164.2h0M113.5 158.0h0M111.7 153.1h0M141.6 170.4h0M94.7 157.3h0M133.3 170.7h0M151.9 163.9h0M126.5 162.1h0M96.4 162.2h0M135.1 155.3h0M97.0 168.5h0M135.4 140.4h0M134.3 161.4h0M102.4 164.9h0M147.7 164.0h0M131.8 139.0h0M139.0 166.6h0M135.7 170.8h0M133.7 172.3h0M93.1 163.3h0M107.9 164.4h0M130.6 156.7h0M119.6 169.0h0M126.8 164.7h0M141.1 168.4h0M138.9 167.4h0M142.6 152.8h0M130.4 166.9h0M127.8 169.5h0M120.5 170.4h0M138.9 152.1h0M145.5 166.1h0M121.1 169.0h0M110.0 147.0h0M125.6 169.3h0M99.6 164.4h0M133.7 169.0h0M103.6 166.0h0M156.3 159.0h0M115.8 172.4h0M119.1 172.6h0M115.2 171.4h0M146.6 166.7h0M108.7 153.4h0M121.4 171.6h0M146.6 168.0h0M106.2 160.9h0M134.4 157.3h0M128.6 171.8h0M145.4 153.5h0M117.0 165.7h0M129.9 153.9h0M124.0 171.6h0M111.7 168.5h0M133.5 158.4h0M120.5 172.8h0M137.6 148.9h0M137.9 170.3h0M135.0 170.0h0M126.0 157.3h0M145.4 166.6h0M124.6 171.7h0M117.3 171.6h0M131.1 158.6h0M97.5 161.3h0M126.9 154.1h0M111.7 162.8h0M138.0 165.1h0M135.4 164.4h0M153.7 167.7h0M167.4 159.1h0M109.1 162.8h0M105.5 142.1h0M151.3 164.8h0M111.4 165.8h0M147.4 169.3h0M109.7 162.7h0M132.0 171.9h0M132.7 166.1h0M132.7 166.6h0M134.7 156.2h0M130.1 166.2h0M124.1 167.5h0M102.6 162.7h0M137.3 153.2h0M125.4 172.7h0M138.3 138.4h0M114.9 152.9h0M106.1 165.8h0M110.0 159.2h0M135.3 167.8h0M92.0 159.0h0M96.9 167.8h0M116.7 167.3h0M129.5 168.3h0M119.6 163.5h0M118.5 168.6h0M131.6 160.1h0M109.1 169.3h0M124.6 171.0h0M139.6 165.8h0M117.0 171.9h0M127.2 164.2h0M125.6 166.3h0M131.3 167.2h0M124.0 166.3h0M132.9 167.5h0M131.4 170.5h0M101.1 159.6h0M103.3 164.4h0M139.9 142.3h0M89.9 157.0h0M113.4 171.6h0M153.2 166.8h0M129.9 161.3h0M131.6 161.4h0M126.4 172.2h0M131.0 148.9h0M117.7 164.7h0M125.8 171.3h0M129.8 162.7h0M130.4 165.6h0M128.7 151.4h0M146.6 153.7h0M108.0 166.1h0M124.6 171.8h0M122.9 172.9h0M114.6 149.4h0M93.0 166.1h0M124.4 164.8h0M118.4 171.8h0M86.3 154.6h0M101.5 162.0h0M130.6 152.1h0M133.1 161.0h0M116.1 168.5h0M144.2 165.2h0M95.6 164.8h0M118.2 165.1h0M100.7 159.6h0M112.4 170.4h0M101.0 162.7h0M128.5 167.2h0M120.7 171.0h0M158.3 165.2h0M124.7 168.2h0M129.5 170.5h0M126.2 162.4h0M125.5 171.7h0M144.9 165.5h0M130.2 170.3h0M114.9 168.5h0M119.7 167.6h0M122.7 171.7h0M116.2 169.3h0M139.9 154.2h0M119.6 166.9h0M133.7 167.2h0M142.2 156.6h0M133.0 161.1h0M127.6 161.8h0M104.0 166.7h0M99.8 156.9h0M121.9 172.7h0M143.6 165.1h0M127.7 157.6h0M110.8 164.0h0M139.0 169.8h0M106.8 169.9h0M133.4 160.0h0M120.1 167.7h0M107.8 154.3h0M128.2 171.3h0M105.4 162.8h0M133.8 160.7h0M123.6 168.1h0M128.9 169.2h0M145.1 162.7h0M138.0 163.6h0M128.1 171.9h0M91.5 164.6h0M115.5 163.0h0M128.4 168.3h0M125.0 167.7h0M142.3 165.6h0M138.2 168.3h0M121.8 172.4h0M124.6 171.5h0M102.2 165.1h0M122.4 169.5h0M124.6 169.2h0M108.9 159.6h0M133.7 170.4h0M126.9 171.3h0M114.3 154.1h0M157.1 159.7h0M132.8 167.1h0M137.9 142.4h0M133.2 166.1h0M151.1 152.9h0M136.3 159.9h0M140.1 166.1h0M113.2 153.8h0M149.4 157.7h0M107.7 168.7h0M132.9 161.9h0M138.9 154.1h0M133.6 167.3h0M136.3 167.8h0M112.8 168.8h0M124.2 167.5h0M108.7 170.6h0M125.8 164.7h0M124.0 168.6h0M126.5 164.4h0M125.2 172.1h0M142.7 167.1h0M109.2 160.8h0M132.1 138.8h0M123.1 167.3h0M133.3 143.0h0M133.9 169.9h0M131.1 161.8h0M118.5 170.7h0M142.2 165.9h0M121.8 170.9h0M135.0 170.4h0M109.4 165.5h0M125.7 163.8h0M120.8 172.7h0M133.2 172.5h0M118.8 172.6h0M126.7 170.6h0M117.8 170.3h0M121.5 172.5h0M125.1 172.4h0M113.2 168.6h0M140.2 156.0h0M139.3 163.4h0M109.6 170.9h0M140.3 168.9h0M140.3 154.4h0M129.2 168.1h0M138.6 168.4h0M125.7 168.2h0M142.2 165.0h0M110.1 170.2h0M117.1 169.7h0M95.6 166.2h0M137.7 162.5h0M109.2 166.9h0M116.5 164.5h0M134.8 166.5h0M126.3 169.4h0M112.3 154.0h0M116.5 161.6h0M111.5 172.1h0M111.2 168.6h0M145.0 159.0h0M140.2 166.7h0M107.3 153.0h0M119.5 169.1h0M104.1 159.4h0M151.7 167.0h0M140.4 159.6h0M107.4 139.2h0M120.5 171.8h0M145.9 169.4h0M109.9 148.4h0M118.6 172.5h0M157.9 152.2h0M108.7 167.1h0M98.1 168.5h0M105.1 133.4h0M142.9 158.1h0M115.0 155.8h0M136.3 168.6h0M115.5 169.7h0M132.8 167.7h0M118.0 162.3h0M124.1 168.6h0M135.7 169.7h0M135.0 165.8h0M125.3 172.9h0M103.9 164.3h0M101.5 168.9h0M113.4 170.2h0M146.3 169.9h0M115.7 147.6h0M122.9 171.2h0M133.6 164.0h0M104.9 156.8h0M134.9 164.6h0M106.1 169.9h0M130.8 164.4h0M119.2 164.6h0M129.9 161.6h0M144.1 157.9h0M131.6 171.3h0M127.6 153.7h0M151.2 167.4h0M121.9 172.0h0M104.1 168.8h0M108.9 170.8h0M133.2 169.1h0M122.3 172.1h0M121.7 172.2h0M98.7 152.4h0M107.9 166.2h0M105.5 170.3h0M125.8 163.6h0M131.6 170.3h0M122.8 172.6h0M118.2 165.6h0M129.0 171.2h0M127.4 158.9h0M147.2 158.5h0M113.6 167.0h0M133.9 169.7h0M131.0 171.2h0M142.7 160.6h0M126.6 170.5h0M136.0 160.3h0M132.8 170.6h0M144.3 155.2h0M129.5 144.4h0M133.3 155.9h0M131.3 142.1h0M90.5 160.2h0M122.0 170.7h0M141.3 138.0h0M150.6 166.1h0M128.3 148.5h0M121.9 172.9h0M104.6 159.6h0M134.1 145.7h0M126.3 166.0h0M108.0 158.3h0M123.6 170.0h0M133.1 142.2h0M136.6 155.2h0M145.4 167.8h0M111.9 172.1h0M108.1 160.7h0M108.8 154.6h0M119.2 170.6h0M136.7 158.9h0M139.7 160.8h0M132.4 168.5h0M115.6 141.0h0M118.3 162.3h0M152.5 161.3h0M146.5 159.7h0M119.5 165.4h0M103.1 159.3h0M118.1 172.1h0M141.5 171.2h0M124.8 171.3h0M109.2 160.7h0M140.6 129.5h0M134.5 149.1h0M132.9 159.6h0M114.4 166.3h0M107.8 141.2h0M124.7 169.0h0M111.1 147.7h0M123.5 170.9h0M122.1 171.7h0M121.2 172.6h0M87.3 161.1h0M138.9 166.9h0M137.4 159.9h0M139.2 156.3h0M124.5 155.6h0M109.6 170.1h0M139.4 156.2h0M131.8 148.2h0M149.9 165.3h0M105.3 155.4h0M131.8 158.9h0M81.0 151.8h0M141.4 161.6h0M149.1 166.3h0M142.7 158.1h0M129.3 169.6h0M119.6 172.6h0M121.3 171.0h0M116.0 168.6h0M131.6 171.6h0M139.9 135.1h0M116.3 168.6h0M131.3 137.3h0M143.6 165.0h0M144.9 160.9h0M130.4 171.6h0M95.8 167.0h0M147.5 168.9h0M128.6 169.2h0M113.3 162.1h0M141.4 159.8h0M123.5 166.7h0M153.8 157.4h0M107.7 170.0h0M124.9 171.9h0M116.5 172.1h0M138.5 170.1h0M107.8 152.7h0M109.9 136.3h0M133.3 154.6h0M124.3 171.9h0M115.5 169.1h0M126.4 169.1h0M96.8 155.2h0M138.4 167.3h0M103.5 162.7h0M128.3 168.6h0M136.5 163.9h0M115.5 161.3h0M122.1 172.6h0M127.3 169.5h0M119.7 170.8h0M141.5 163.7h0M127.0 164.3h0M127.5 147.1h0M126.3 159.9h0M147.6 164.5h0M126.3 168.4h0M130.6 158.1h0M105.7 170.0h0M112.7 171.1h0M92.7 164.3h0M124.7 171.1h0M109.1 170.4h0M137.8 171.5h0M110.9 166.0h0M100.3 163.7h0M119.5 162.8h0M160.6 156.0h0M118.0 160.1h0M120.7 172.4h0M133.7 168.4h0M100.3 162.3h0M132.9 167.4h0M115.4 156.7h0M125.4 168.4h0M139.0 154.3h0M128.9 169.6h0M104.5 167.7h0M125.8 172.4h0M114.4 166.0h0M148.9 167.8h0M93.8 163.9h0M135.3 165.3h0M130.5 166.8h0M135.8 161.3h0M113.9 159.4h0M127.9 171.9h0M137.5 171.5h0M105.0 160.4h0M121.4 172.4h0M144.3 166.5h0M113.2 151.7h0M151.9 167.5h0M123.2 171.9h0M121.9 172.2h0M109.3 171.2h0M112.4 163.1h0M126.0 165.2h0M111.7 167.9h0M121.5 170.6h0M139.3 163.3h0M140.6 150.0h0M124.7 160.9h0M94.5 164.6h0M97.6 163.8h0M102.9 154.5h0M99.2 154.7h0M116.7 171.0h0M113.1 155.6h0M118.9 168.6h0M112.3 143.8h0M115.3 171.4h0M136.4 160.6h0M141.4 153.3h0M136.2 138.8h0M106.2 169.0h0M113.4 165.8h0M139.4 167.8h0M128.5 140.6h0M134.8 160.5h0M139.9 144.7h0M141.2 160.2h0M113.1 169.6h0M115.9 171.5h0M111.4 144.8h0M120.5 166.1h0M124.4 153.6h0M112.6 169.4h0M132.2 169.9h0M131.4 149.2h0M134.5 171.5h0M113.3 171.0h0M124.1 170.7h0M110.3 145.6h0M133.2 142.0h0M140.4 165.7h0M114.8 169.6h0M109.5 139.2h0M119.0 171.2h0M124.4 172.1h0M129.4 158.2h0M124.0 172.6h0M133.9 159.3h0M135.7 164.7h0M130.9 165.5h0M126.1 171.2h0M128.2 167.4h0M129.7 154.9h0M100.2 164.8h0M109.2 145.2h0M124.4 172.6h0M126.1 172.3h0M121.4 169.2h0M114.0 171.0h0M116.9 165.9h0M111.5 150.4h0M115.1 170.8h0M130.1 161.2h0M115.4 169.4h0M147.5 168.9h0M123.8 170.0h0M139.2 145.9h0M125.3 171.9h0M114.7 172.1h0M86.3 154.6h0M107.8 158.8h0M112.1 171.9h0M123.5 170.8h0M121.0 172.2h0M120.7 171.2h0M155.5 164.6h0M132.5 161.8h0M123.5 172.8h0M140.6 169.3h0M126.0 166.8h0M141.2 155.1h0M131.7 168.6h0M126.7 169.4h0M127.8 171.6h0M95.6 166.4h0M141.3 163.9h0M114.9 153.4h0M133.0 168.7h0M121.8 170.4h0M111.1 165.3h0M123.8 169.9h0M112.5 170.5h0M133.5 151.1h0M108.0 166.2h0M121.1 172.6h0M133.3 156.4h0M138.9 156.4h0M138.3 171.8h0M108.1 164.8h0M122.9 171.4h0M139.2 168.3h0M99.0 164.4h0M141.4 167.4h0M141.1 169.0h0M158.4 161.8h0M149.7 162.4h0M104.6 168.8h0M146.4 163.9h0M117.9 172.2h0M121.0 171.8h0M135.2 166.3h0M135.7 161.4h0M112.3 165.9h0M138.7 170.3h0M111.1 124.9h0M165.9 158.8h0M146.0 166.9h0M127.6 145.9h0M143.5 153.3h0M125.3 164.5h0M100.5 167.8h0M126.2 168.5h0M142.3 170.7h0M115.0 171.0h0M100.6 156.9h0M126.0 163.9h0M156.5 166.0h0M117.9 172.0h0M113.8 157.0h0M128.8 148.4h0M108.2 170.8h0M108.0 160.5h0M146.5 170.0h0M143.8 163.1h0M120.4 167.8h0M117.2 168.9h0M135.6 144.8h0M144.6 161.1h0M131.9 165.1h0M143.2 169.6h0M128.8 157.5h0M134.9 171.2h0M125.3 162.6h0M124.2 164.3h0M111.2 136.5h0M124.3 162.6h0M125.3 165.5h0M127.8 172.6h0M128.0 161.0h0M126.9 162.5h0M137.8 161.1h0M96.4 162.2h0M129.9 168.3h0M143.4 167.3h0M98.5 159.1h0M99.3 169.5h0M114.1 171.2h0M84.2 153.7h0M108.5 139.9h0M120.1 166.8h0M133.9 133.2h0M117.0 171.4h0M105.6 158.8h0M116.0 158.5h0M111.7 170.6h0M130.8 159.6h0M120.2 171.5h0M138.0 151.1h0M135.8 157.2h0M131.6 158.8h0M123.2 166.8h0M137.9 153.5h0M124.6 162.1h0M115.8 155.4h0M126.8 150.6h0M99.5 154.9h0M130.3 167.7h0M129.0 156.1h0M126.6 169.4h0M107.4 150.8h0M125.2 167.7h0M124.5 171.5h0M134.5 157.1h0M137.3 142.1h0M123.5 167.3h0M95.5 163.2h0M122.4 170.0h0M133.7 166.1h0M109.8 165.4h0M118.2 164.4h0M130.3 168.9h0M122.2 172.1h0M132.7 165.8h0M139.9 145.1h0M133.2 152.1h0M133.4 167.8h0M125.2 171.5h0M121.8 172.5h0M113.5 157.5h0M115.0 153.0h0M117.0 160.2h0M121.2 171.4h0M116.4 155.6h0M109.2 165.3h0M117.0 171.7h0M124.4 168.6h0M133.7 161.5h0M125.3 166.1h0M99.8 161.7h0M114.8 165.7h0M121.5 172.8h0M132.9 170.4h0M110.8 160.1h0M128.2 161.3h0M136.3 164.6h0M129.3 154.5h0M128.8 161.9h0M172.7 155.6h0M135.4 170.8h0M120.8 169.9h0M123.4 172.0h0M115.4 171.8h0M81.8 155.0h0M97.3 167.4h0M123.5 169.8h0M104.7 156.9h0M116.7 171.4h0M118.3 170.3h0M132.6 127.0h0M138.0 146.0h0M154.1 164.7h0M127.7 169.7h0M112.2 147.6h0M145.6 161.2h0M134.1 170.2h0M119.6 169.3h0M128.2 165.7h0M121.0 172.9h0M161.1 157.9h0M131.9 142.8h0M118.0 170.9h0M133.8 166.0h0M103.0 166.8h0M118.2 158.2h0M128.6 168.0h0M137.1 171.5h0M122.9 171.2h0M143.5 152.5h0M124.6 168.8h0M110.7 156.4h0M125.4 166.2h0M137.7 170.4h0M123.4 165.0h0M137.7 166.2h0M124.4 170.9h0M114.0 151.2h0M120.6 171.3h0M134.5 165.2h0M120.6 171.2h0M137.6 170.7h0M112.0 169.1h0M113.5 166.4h0M127.6 143.6h0M115.3 172.3h0M142.8 159.6h0M134.7 146.9h0M130.4 164.2h0M164.3 155.4h0M138.1 171.3h0M145.9 167.5h0M111.3 162.7h0M127.6 168.1h0M117.9 164.9h0M160.8 164.6h0M129.1 167.3h0M132.7 170.2h0M131.0 166.7h0M131.1 171.0h0M110.7 170.1h0M117.5 171.2h0M136.2 158.3h0M113.6 165.4h0M113.7 165.4h0M121.8 172.4h0M109.3 172.2h0M118.5 170.1h0M129.3 171.4h0M129.1 170.2h0M135.4 162.5h0M106.3 139.8h0M134.7 170.0h0M119.2 171.8h0M113.3 168.7h0M126.8 171.5h0M129.9 164.2h0M128.3 167.3h0M111.3 138.5h0M122.7 171.2h0M120.3 170.3h0M146.3 162.7h0M105.4 165.2h0M131.2 166.8h0M135.5 167.5h0M138.5 164.5h0M125.6 156.8h0M130.1 170.3h0M125.5 154.9h0M86.0 158.0h0M111.0 152.6h0M133.6 171.0h0M115.5 166.6h0M88.4 161.7h0M138.7 152.3h0M107.2 167.8h0M106.0 169.3h0M113.9 162.3h0M93.0 164.7h0M105.3 169.3h0M133.4 167.4h0M122.8 172.2h0M141.3 163.8h0M129.9 169.0h0M122.4 171.5h0M133.3 168.4h0M123.9 163.7h0M118.7 167.7h0M135.5 159.9h0M129.4 152.3h0M126.2 164.9h0M139.8 155.3h0M125.8 163.9h0M117.0 165.5h0M108.5 164.8h0M137.7 153.7h0M131.4 165.0h0M125.0 167.9h0M144.7 164.7h0M128.6 156.4h0M119.1 172.5h0M145.7 158.8h0M111.1 146.7h0M107.7 168.6h0M106.3 164.9h0M127.4 153.4h0M122.9 168.3h0M123.4 167.7h0M159.9 153.5h0M126.5 164.7h0M126.9 167.7h0M141.4 169.3h0M122.2 172.6h0M125.6 163.0h0M129.0 160.5h0M108.5 155.4h0M135.0 169.3h0M152.8 158.9h0M140.2 158.1h0M102.3 168.0h0M150.1 151.3h0M104.0 163.7h0M105.3 151.1h0M113.2 167.9h0M110.7 154.3h0M136.7 165.4h0M109.3 155.3h0M131.6 142.0h0M119.5 169.9h0M113.9 153.0h0M122.6 169.9h0M110.0 161.1h0M133.6 161.6h0M134.6 153.5h0M137.8 116.4h0M120.3 168.7h0M142.4 164.2h0M114.5 168.3h0M127.2 166.9h0M130.3 134.2h0M141.4 145.4h0M123.0 171.2h0M129.1 167.6h0M108.9 170.8h0M148.8 156.4h0M134.9 160.7h0M108.4 172.0h0M129.8 168.2h0M141.3 170.9h0M108.0 172.0h0M111.5 150.7h0M104.0 146.0h0M139.2 161.8h0M118.6 169.1h0M98.6 162.5h0M138.8 153.8h0M146.5 159.2h0M137.5 158.8h0M104.6 149.2h0M111.9 160.6h0M102.8 169.3h0M148.2 164.4h0M91.8 160.6h0M129.8 157.4h0M103.1 158.2h0M132.5 166.6h0M123.2 172.6h0M156.5 155.6h0M114.7 165.2h0M124.6 169.2h0M131.6 171.3h0M154.4 166.7h0M124.5 170.6h0M127.0 166.5h0M129.9 137.2h0M109.7 170.3h0M117.8 172.2h0M139.2 166.4h0M135.4 160.5h0M122.7 168.3h0M132.3 166.5h0M148.5 156.3h0M125.4 165.9h0M134.2 166.6h0M128.9 153.5h0M123.5 162.6h0M149.8 169.1h0M135.1 160.8h0M151.3 166.2h0M122.7 170.1h0M136.7 169.2h0M139.9 159.5h0M111.8 158.7h0M133.0 155.0h0M122.9 172.8h0M103.0 164.8h0M121.0 169.7h0M151.3 168.4h0M122.6 171.8h0M155.1 163.8h0M158.7 164.8h0M123.4 170.2h0M126.4 160.1h0M110.9 159.2h0M142.4 166.8h0M143.1 169.0h0M99.4 169.4h0M114.6 168.8h0M127.2 159.2h0M133.0 166.4h0M116.7 162.3h0M107.0 165.6h0M111.0 172.4h0M127.8 167.3h0M150.5 168.9h0M162.3 161.9h0M111.0 171.0h0M128.1 157.2h0M101.6 154.3h0M109.5 163.1h0M163.7 158.7h0M107.0 163.0h0M121.6 172.0h0M105.7 168.2h0M121.7 172.4h0M118.9 171.6h0M144.5 157.4h0M132.3 148.8h0M124.7 165.2h0M107.4 167.1h0M106.3 164.0h0M106.3 144.7h0M109.5 164.9h0M165.0 157.1h0M132.0 164.7h0M157.0 162.2h0M155.8 165.2h0M134.9 165.3h0M151.0 165.7h0M137.0 171.9h0M119.0 169.4h0M112.5 169.0h0M127.6 160.5h0M125.5 172.4h0M139.2 163.7h0M141.5 169.7h0M113.0 171.2h0M111.0 155.9h0M122.3 165.5h0M124.3 161.4h0M128.4 171.9h0M110.7 156.3h0M124.6 158.6h0M118.1 171.8h0M113.7 166.1h0M147.2 156.0h0M107.9 164.8h0M130.2 170.2h0M124.5 170.4h0M123.3 163.0h0M104.3 156.0h0M113.8 171.3h0M125.4 163.5h0M114.2 159.6h0M117.5 161.9h0M121.1 172.8h0M114.8 158.7h0M101.5 154.2h0M133.8 162.5h0M143.5 153.5h0M122.7 172.4h0M117.1 159.9h0M130.4 168.6h0M166.8 161.4h0M118.6 167.8h0M140.6 154.3h0M98.1 166.2h0M92.7 157.3h0M119.6 161.1h0M131.1 153.6h0M135.4 161.6h0M132.0 157.1h0M134.8 151.5h0M113.3 143.7h0M130.1 170.3h0M112.3 166.5h0M148.3 157.1h0M123.7 169.6h0M125.0 169.1h0M96.2 164.7h0M162.0 160.9h0M108.6 171.8h0M94.7 163.2h0M127.1 164.8h0M143.6 167.8h0M133.5 164.0h0M157.3 156.3h0M108.1 155.7h0M125.8 169.9h0M120.1 172.0h0M122.2 172.4h0M126.3 167.0h0M108.4 158.9h0M133.4 150.2h0M140.4 159.9h0M111.9 157.3h0M118.5 170.6h0M114.2 169.6h0M104.6 168.2h0M128.6 160.2h0M114.6 169.1h0M127.9 172.1h0M128.7 167.6h0M115.6 167.1h0M129.9 151.1h0M131.0 170.6h0M108.4 142.1h0M110.9 159.7h0M105.4 163.8h0M123.3 170.2h0M103.3 168.2h0M117.4 172.8h0M128.3 167.7h0M107.6 144.3h0M111.9 168.1h0M109.3 167.6h0M141.9 171.1h0M125.2 160.1h0M110.3 162.6h0M126.9 172.7h0M128.1 145.6h0M111.2 149.2h0M110.8 165.7h0M120.4 168.3h0M135.3 169.4h0M79.4 151.4h0M129.6 151.6h0M141.4 154.2h0M147.3 164.8h0M140.6 171.4h0M109.7 163.3h0M121.7 172.4h0M104.1 159.5h0M126.5 169.9h0M130.6 163.3h0M115.8 171.7h0M138.7 162.9h0M122.3 169.4h0M139.8 139.6h0M120.1 170.9h0M131.7 172.5h0M133.4 172.5h0M130.6 161.7h0M148.9 158.9h0M125.0 169.3h0M107.1 140.8h0M108.3 147.8h0M142.4 164.7h0M112.2 168.8h0M120.4 170.8h0M109.2 171.9h0M134.6 155.6h0M130.4 140.3h0M128.1 170.9h0M104.4 146.2h0M96.4 164.2h0M98.0 163.2h0M147.8 161.7h0M114.6 165.9h0M127.9 172.8h0M121.1 172.9h0M138.2 157.6h0M107.4 172.0h0M121.1 172.0h0M137.1 164.2h0M150.4 155.8h0M107.7 171.2h0M130.7 153.1h0M127.2 171.7h0M117.9 171.1h0M138.4 168.4h0M107.0 156.8h0M108.1 164.9h0M116.6 171.9h0M142.2 167.0h0M122.7 171.1h0M127.7 169.3h0M102.6 169.1h0M103.4 168.2h0M120.3 168.8h0M142.2 168.2h0M140.3 159.1h0M139.1 158.7h0M128.7 160.5h0M114.2 169.9h0M134.4 157.8h0M126.6 171.5h0M158.0 162.5h0M124.9 163.0h0M119.1 171.1h0M120.7 171.6h0M141.4 149.1h0M106.0 166.6h0M144.0 157.0h0M121.3 171.8h0M110.4 151.2h0M109.6 151.4h0M131.8 162.1h0M136.1 119.5h0M89.9 161.0h0M99.8 160.9h0M114.5 165.7h0M123.1 171.6h0M121.8 172.6h0M129.3 158.8h0M101.5 160.7h0M133.1 170.0h0M131.5 160.7h0M148.0 169.2h0M124.1 158.3h0M143.1 165.9h0M129.1 172.0h0M113.7 163.3h0M145.0 162.0h0M136.7 158.5h0M126.6 167.8h0M159.2 165.4h0M117.6 163.1h0M99.8 159.3h0M132.7 168.4h0M125.0 161.1h0M123.3 172.3h0M137.9 170.0h0M135.1 163.6h0M128.4 172.1h0M110.0 133.0h0M119.3 172.1h0M93.1 160.3h0M141.9 167.7h0M121.2 169.6h0M138.1 159.6h0M139.0 160.3h0M118.3 171.5h0M110.0 165.1h0M152.3 163.7h0M122.5 172.5h0M144.9 170.1h0M125.6 164.9h0M132.4 162.1h0M138.4 170.6h0M120.0 171.9h0M121.8 171.9h0M96.3 160.6h0M139.8 130.6h0M135.2 162.6h0M147.0 167.5h0M100.4 169.2h0M128.1 146.1h0M110.2 156.6h0M107.1 169.3h0M133.7 141.8h0M126.8 170.4h0M136.5 135.7h0M146.5 168.7h0M134.9 156.6h0M122.2 170.3h0M147.4 168.7h0M129.9 170.7h0M143.5 152.7h0M117.1 171.6h0M125.9 169.4h0M118.9 168.8h0M126.0 169.0h0M124.5 167.0h0M119.6 169.8h0M132.8 155.3h0M123.3 165.3h0M135.1 157.8h0M100.7 157.1h0M122.4 168.3h0M123.0 170.5h0M136.1 165.8h0M116.3 171.4h0M130.2 159.4h0M140.3 171.2h0M132.0 170.7h0M130.0 149.7h0M119.1 171.2h0M164.6 155.3h0M138.4 158.6h0M124.7 169.6h0M121.2 172.4h0M127.0 158.3h0M125.9 163.1h0M127.5 163.3h0M125.7 171.2h0M125.9 170.0h0M109.4 149.3h0M109.8 168.5h0M152.1 151.2h0M117.9 169.5h0M133.1 168.7h0M86.7 160.0h0M146.8 158.1h0M122.4 172.3h0M117.9 161.5h0M135.9 148.0h0M116.2 159.3h0M131.5 160.6h0M147.0 155.2h0M118.0 172.1h0M95.5 153.1h0M137.9 163.9h0M123.4 172.4h0M109.9 148.4h0M146.8 170.1h0M126.3 171.2h0M110.4 160.8h0M133.1 154.0h0M118.4 169.8h0M94.9 162.5h0M127.4 142.4h0M101.4 157.3h0M98.3 158.6h0M119.1 170.1h0M136.4 171.5h0M130.6 171.1h0M139.4 165.9h0M122.3 168.2h0M104.8 166.6h0M125.9 166.6h0M124.9 162.8h0M119.6 170.2h0M130.3 165.6h0M130.7 168.1h0M132.9 125.4h0M112.9 155.1h0M114.4 169.9h0M104.5 158.4h0M117.2 172.6h0M121.2 172.5h0M154.7 160.2h0M132.7 167.4h0M126.8 172.9h0M109.8 137.8h0M119.6 163.8h0M134.8 170.1h0M125.9 161.5h0M110.8 171.8h0M123.2 171.5h0M128.3 169.2h0M159.3 165.1h0M100.9 166.5h0M128.5 166.3h0M125.4 172.6h0M127.2 150.4h0M122.1 172.0h0M91.1 160.5h0M126.9 171.7h0M116.2 151.8h0M126.6 157.3h0M106.7 155.7h0M100.1 163.7h0M136.6 167.2h0M130.8 164.5h0M114.0 167.7h0M100.6 163.2h0M120.5 171.6h0M147.1 153.3h0M138.0 170.6h0M107.5 161.2h0M102.5 153.8h0M130.1 133.6h0M138.7 151.6h0M124.0 170.4h0M133.1 160.2h0M105.0 165.6h0M121.7 172.4h0M129.7 155.9h0M119.9 170.5h0M120.1 169.7h0M124.3 170.3h0M134.1 162.1h0M113.8 157.9h0M131.3 155.5h0M139.2 165.7h0M124.4 168.9h0M119.1 170.8h0M114.8 161.6h0M116.8 164.6h0M117.1 166.9h0M113.3 166.1h0M136.5 164.1h0M120.1 170.2h0M117.7 166.2h0M158.0 163.5h0M140.4 161.2h0M111.3 135.4h0M107.2 157.9h0M124.8 172.2h0M133.3 154.1h0M115.9 166.7h0M110.6 168.6h0M95.7 153.4h0M136.8 160.0h0M116.2 171.4h0M111.3 164.7h0M124.6 169.8h0M147.4 165.2h0M118.1 172.8h0M124.1 172.8h0M101.4 157.7h0M131.5 171.1h0M113.7 169.8h0M120.7 170.7h0M141.2 163.9h0M142.4 163.8h0M129.3 154.6h0M98.0 159.4h0M105.1 168.5h0M119.3 167.7h0M118.5 171.4h0M129.0 168.4h0M136.4 159.5h0M126.2 151.1h0M130.0 171.8h0M142.1 168.8h0M120.1 172.5h0M125.8 162.9h0M96.7 161.0h0M130.0 165.3h0M135.6 162.2h0M124.3 163.0h0M140.8 158.4h0M114.1 170.3h0M129.1 164.8h0M134.5 167.3h0M97.4 164.3h0M105.7 164.2h0M131.7 172.6h0M107.2 159.4h0M145.6 161.7h0M114.4 163.3h0M121.1 171.9h0M104.4 164.0h0M147.2 158.2h0M120.4 172.2h0M130.0 139.0h0M130.0 168.8h0M123.9 162.4h0M109.0 161.2h0M133.9 157.0h0M131.7 157.6h0M108.7 158.6h0M115.3 162.8h0M151.3 164.5h0M147.7 162.8h0M164.8 151.5h0M124.5 168.8h0M119.7 164.3h0M93.0 156.3h0M135.0 163.9h0M121.2 171.8h0M115.6 171.5h0M112.0 151.8h0M133.2 157.4h0M107.9 169.7h0M141.7 163.4h0M140.8 165.3h0M117.1 165.3h0M130.0 171.9h0M115.9 168.2h0M126.9 166.2h0M115.3 161.8h0M112.4 157.2h0M120.3 168.4h0M124.8 167.4h0M120.3 168.4h0M142.4 162.9h0M142.1 161.2h0M124.4 154.1h0M97.2 151.1h0M99.0 153.8h0M133.7 152.0h0M122.0 167.2h0M118.7 171.2h0M141.2 155.0h0M103.5 167.5h0M119.3 172.8h0M147.1 161.4h0M123.9 171.0h0M145.7 169.3h0M133.0 151.7h0M124.9 170.3h0M101.0 169.1h0M115.0 153.7h0M122.2 171.9h0M124.4 163.5h0M123.0 170.7h0M120.0 170.5h0M138.8 162.3h0M123.2 168.9h0M135.2 143.1h0M97.4 151.5h0M129.2 144.5h0M140.2 148.4h0M95.0 156.9h0M107.9 168.2h0M136.0 167.8h0M128.8 163.8h0M128.3 160.8h0M101.8 156.8h0M125.1 169.7h0M101.7 152.1h0M121.1 166.3h0M115.7 166.1h0M121.6 170.7h0M134.2 170.1h0M136.0 166.6h0M136.9 162.7h0M129.9 168.4h0M143.4 151.8h0M124.8 171.9h0M149.7 165.7h0M121.6 172.1h0M112.9 157.1h0M118.7 169.1h0M110.5 165.6h0M133.1 169.4h0M136.4 167.8h0M115.6 157.2h0M126.2 168.5h0M140.0 169.7h0M115.5 167.1h0M132.4 166.2h0M134.9 171.0h0M149.7 165.1h0M144.6 166.7h0M148.7 159.0h0M90.1 154.0h0M155.1 151.8h0M152.1 165.3h0M144.8 154.1h0M130.0 156.4h0M121.5 172.5h0M124.5 170.7h0M137.1 140.7h0M119.6 170.0h0M92.9 163.3h0M134.4 150.5h0M137.7 145.7h0M146.4 162.7h0M108.2 141.3h0M123.1 172.3h0M114.1 171.4h0M125.6 169.8h0M129.4 171.0h0M95.1 155.5h0M122.3 172.8h0M161.1 157.0h0M131.7 166.6h0M147.4 168.0h0M139.9 142.1h0M147.9 162.8h0M133.5 153.3h0M136.5 143.1h0M124.6 170.3h0M141.7 168.7h0M122.1 172.0h0M97.7 153.5h0M139.8 149.4h0M130.9 161.8h0M128.9 161.1h0M138.1 147.6h0M119.7 170.3h0M114.0 165.4h0M144.2 164.5h0M95.0 164.3h0M129.2 150.8h0M115.3 172.2h0M105.9 169.4h0M118.9 171.2h0M124.4 169.1h0M135.1 149.7h0M148.1 166.6h0M125.9 165.9h0M100.7 160.2h0M123.3 172.6h0M131.6 166.2h0M114.3 162.2h0M144.4 167.4h0M120.5 171.0h0M124.4 170.7h0M146.3 154.3h0M105.1 160.3h0M144.4 169.2h0M108.3 162.2h0M138.4 162.2h0M141.5 166.3h0M155.9 166.2h0M139.2 140.3h0M134.8 146.8h0M139.6 148.2h0M96.1 167.0h0M120.8 168.0h0M110.7 168.3h0M136.6 161.4h0M134.6 164.4h0M123.1 172.7h0M122.0 169.3h0M116.6 165.6h0M116.9 167.7h0M121.2 172.7h0M138.4 158.2h0M133.8 149.7h0M139.6 148.5h0M112.2 168.4h0M126.2 162.5h0M138.0 156.1h0M128.9 153.8h0M123.4 170.5h0M102.2 170.0h0M110.6 171.1h0M143.5 165.6h0M114.9 171.2h0M89.4 152.7h0M116.2 155.6h0M117.2 166.6h0M117.5 160.2h0M120.3 167.4h0M121.3 171.5h0M111.0 136.3h0M131.0 155.0h0M115.4 166.7h0M128.3 171.8h0M142.6 160.8h0M135.4 159.4h0M114.8 169.2h0M140.3 145.2h0M127.4 164.8h0M115.7 156.1h0M92.6 165.5h0M116.3 172.5h0M134.5 150.6h0M121.1 172.7h0M123.4 172.3h0M120.5 171.1h0M135.9 172.2h0M147.4 167.6h0M136.2 171.9h0M131.2 170.9h0M140.2 167.0h0M94.6 167.0h0M106.9 170.2h0M109.0 146.1h0M105.5 167.6h0M100.3 166.8h0M125.1 172.6h0M123.5 172.1h0M153.4 162.9h0M154.6 167.3h0M142.8 168.2h0M141.2 161.4h0M116.0 167.8h0M115.2 172.5h0M130.7 167.1h0M139.2 162.0h0M99.1 159.4h0M164.4 158.2h0M103.3 166.1h0M137.3 155.9h0M123.9 172.2h0M139.5 163.7h0M142.0 161.5h0M122.0 170.7h0M122.5 170.2h0M149.9 165.7h0M100.8 165.8h0M126.7 163.4h0M95.3 161.7h0M112.8 163.5h0M132.7 170.6h0M141.3 153.4h0M120.8 171.7h0M135.1 155.1h0M132.4 168.1h0M115.8 149.8h0M116.8 164.3h0M131.3 150.0h0M123.7 168.7h0M113.1 152.6h0M129.0 162.5h0M145.9 167.0h0M119.8 172.7h0M108.1 170.2h0M136.5 167.0h0M135.0 157.4h0M147.1 164.8h0M138.8 168.4h0M132.5 172.3h0M125.4 167.0h0M130.8 164.2h0M143.3 158.1h0M86.2 156.6h0M135.0 160.4h0M141.7 168.1h0M143.9 164.9h0M126.1 167.9h0M124.7 169.5h0M139.2 159.2h0M125.6 162.7h0M128.3 171.5h0M152.4 165.9h0M130.3 171.7h0M143.2 168.5h0M128.7 161.6h0M89.2 160.1h0M147.1 167.7h0M122.8 170.1h0M131.7 162.0h0M100.4 168.0h0M155.5 164.7h0M125.3 170.6h0M133.4 157.5h0M132.2 156.2h0M133.8 162.1h0M151.9 163.6h0M120.9 168.4h0M120.2 167.7h0M99.0 167.9h0M115.8 170.7h0M130.3 160.0h0M112.3 171.7h0M124.2 157.4h0M129.0 172.4h0M120.2 171.6h0M151.8 166.7h0M139.2 167.0h0M109.5 167.8h0M137.3 160.1h0M142.5 164.8h0M142.6 168.2h0M122.4 170.7h0M123.7 172.6h0M129.2 162.3h0M143.3 167.1h0M111.8 151.1h0M124.6 169.6h0M141.5 166.6h0M120.7 172.4h0M107.6 161.5h0M133.1 161.4h0M155.6 166.2h0M132.2 162.3h0M124.8 163.7h0M103.9 166.2h0M114.7 160.9h0M115.8 163.0h0M123.7 172.1h0M122.3 169.5h0M153.3 161.2h0M107.9 143.7h0M131.4 171.1h0M109.7 163.7h0M113.5 170.4h0M125.0 168.9h0M110.0 168.3h0M152.1 161.5h0M85.0 151.2h0M118.8 172.0h0M101.7 161.3h0M131.8 170.9h0M118.0 170.9h0M120.0 171.8h0M122.4 171.8h0M129.3 162.0h0M144.3 166.3h0M128.5 169.8h0M113.9 160.7h0M121.8 172.8h0M115.4 154.8h0M118.7 172.0h0M116.9 156.1h0M123.7 170.6h0M111.1 166.9h0M149.2 158.5h0M111.3 169.1h0M117.9 171.6h0M124.0 171.0h0M113.0 170.5h0M106.5 125.2h0M120.9 171.8h0M119.0 172.5h0M133.5 157.6h0M131.8 169.7h0M116.5 172.1h0M132.4 151.9h0M118.4 167.3h0M111.0 171.9h0M130.0 169.1h0M141.5 165.9h0M141.2 167.3h0M140.0 157.4h0M128.9 172.7h0M158.1 165.3h0M138.7 141.9h0M140.5 162.4h0M114.8 172.4h0M116.9 160.9h0M109.3 131.5h0M124.7 168.1h0M126.1 167.2h0M114.4 167.2h0M130.5 153.1h0M123.6 171.3h0M116.0 168.5h0M106.9 153.9h0M152.8 168.1h0M133.6 160.0h0M131.6 165.9h0M143.7 161.7h0M144.5 152.6h0M115.0 149.6h0M127.0 152.0h0M122.8 171.1h0M111.9 167.4h0M127.9 171.7h0M139.6 164.5h0M92.9 165.0h0M97.3 167.4h0M115.8 170.4h0M147.1 162.6h0M134.7 169.7h0M135.7 164.2h0M140.9 154.2h0M120.3 172.3h0M132.5 171.0h0M114.6 172.2h0M145.7 160.4h0M93.8 164.4h0M111.2 155.8h0M115.9 161.2h0M106.7 158.0h0M132.4 165.5h0M124.7 165.9h0M147.8 151.2h0M142.9 168.8h0M112.0 168.1h0M130.6 152.6h0M137.5 162.9h0M130.4 172.1h0M128.8 165.6h0M130.0 172.5h0M130.3 160.5h0M142.0 156.4h0M141.6 160.5h0M125.7 171.1h0M136.3 168.7h0M117.8 172.5h0M130.4 172.6h0M127.7 162.4h0M133.8 170.4h0M102.9 165.0h0M126.3 170.3h0M148.8 156.9h0M131.0 168.5h0M123.8 167.6h0M128.4 167.9h0M123.6 171.3h0M129.9 171.6h0M123.3 169.0h0M128.4 162.8h0M100.9 161.2h0M98.7 163.6h0M95.4 157.4h0M94.6 155.3h0M143.0 160.2h0M119.1 167.2h0M81.3 153.2h0M149.5 156.7h0M110.8 164.9h0M109.7 169.5h0M128.1 169.5h0M117.6 159.4h0M139.2 132.6h0M119.6 172.1h0M105.1 169.4h0M103.3 164.2h0M125.7 167.1h0M113.1 156.9h0M146.7 166.4h0M112.2 149.6h0M102.2 169.8h0M145.7 168.8h0M134.8 157.4h0M127.4 171.0h0M128.0 172.5h0M125.0 164.4h0M129.2 159.0h0M124.9 149.1h0M134.9 158.7h0M103.7 156.1h0M105.1 159.4h0M107.5 161.2h0M126.0 168.9h0M107.5 170.0h0M138.8 162.5h0M120.0 168.0h0M145.9 167.1h0M99.4 163.6h0M111.0 146.2h0M141.3 164.0h0M138.5 169.1h0M113.0 163.0h0M115.5 163.2h0M118.3 169.6h0M101.7 169.4h0M118.7 167.1h0M128.7 165.0h0M136.7 160.6h0M91.6 164.7h0M151.3 167.6h0M143.0 170.7h0M124.1 168.0h0M132.3 161.5h0M112.2 165.6h0M118.6 171.6h0M137.3 157.6h0M109.1 170.8h0M143.4 154.2h0M134.0 166.3h0M106.3 132.5h0M92.9 158.9h0M131.6 165.0h0M138.1 163.6h0M115.1 168.2h0M147.6 168.8h0M124.6 168.7h0M122.5 171.8h0M113.2 155.2h0M127.0 172.6h0M149.4 168.4h0M110.4 172.4h0M114.2 154.6h0M104.4 158.6h0M130.0 168.0h0M118.9 171.7h0M149.8 155.6h0M102.7 157.7h0M124.2 170.8h0M109.3 137.7h0M119.0 167.1h0M114.1 172.5h0M135.3 168.0h0M134.5 166.8h0M106.5 170.7h0M125.4 167.7h0M119.8 171.9h0M129.3 170.4h0M116.5 155.4h0M127.4 170.0h0M108.4 169.4h0M132.7 153.4h0M101.1 152.6h0M94.8 162.9h0M102.5 170.4h0M133.0 169.5h0M135.0 133.8h0M144.1 162.5h0M99.6 167.6h0M106.6 168.4h0M115.4 163.9h0M124.8 166.4h0M95.6 164.5h0M123.6 170.9h0M113.4 168.9h0M120.2 171.6h0M119.2 167.8h0M106.4 165.5h0M156.1 159.5h0M101.9 153.5h0M130.0 160.2h0M141.7 160.9h0M137.1 152.8h0M139.4 155.9h0M118.5 171.0h0M117.4 158.1h0M115.6 149.0h0M152.5 154.2h0M132.8 166.7h0M129.5 172.6h0M132.4 153.9h0M128.8 159.7h0M146.3 161.6h0M105.5 158.1h0M135.1 170.5h0M126.7 170.6h0M113.1 165.7h0M118.0 166.9h0M97.7 162.8h0M140.5 169.5h0M112.1 165.7h0M149.6 158.6h0M114.5 160.3h0M108.0 170.4h0M141.2 169.5h0M119.9 169.4h0M138.2 170.3h0M147.0 167.0h0M127.6 152.8h0M113.8 153.6h0M127.1 158.5h0M107.8 122.4h0M144.9 160.8h0M113.2 164.7h0M128.4 164.4h0M128.6 164.9h0M120.2 163.6h0M115.3 161.1h0M140.8 156.5h0M147.0 156.8h0M120.5 170.9h0M147.5 166.5h0M134.8 172.0h0M113.1 169.8h0M111.4 151.5h0M83.7 156.2h0M120.0 170.8h0M126.4 159.1h0M122.8 168.6h0M125.3 171.5h0M138.9 151.3h0M124.0 169.7h0M118.8 165.0h0M129.3 168.0h0M130.8 161.1h0M122.3 171.1h0M120.0 171.3h0M146.4 169.9h0M108.8 145.8h0M137.9 170.6h0M92.7 164.7h0M120.0 167.8h0M128.5 168.3h0M119.9 170.7h0M142.9 157.9h0M119.8 169.9h0M116.7 171.9h0M122.4 172.8h0M108.5 138.6h0M101.0 157.2h0M125.2 169.9h0M130.7 172.1h0M122.8 169.7h0M107.3 165.4h0M143.9 158.3h0M105.8 164.5h0M138.1 159.9h0M142.5 167.0h0M128.6 155.0h0M125.2 172.4h0M157.3 163.2h0M126.4 169.7h0M134.7 154.7h0M134.7 152.2h0M95.2 154.4h0M130.5 161.2h0M104.4 159.9h0M106.7 143.6h0M132.3 159.6h0M139.4 160.3h0M104.1 146.1h0M118.0 166.3h0M123.3 171.4h0M125.6 163.0h0M117.7 168.9h0M127.9 167.4h0M112.5 172.4h0M144.9 163.0h0M116.9 170.9h0M127.2 159.5h0M132.0 149.2h0M129.0 168.9h0M130.7 171.0h0M130.9 167.9h0M140.4 166.0h0M141.4 167.3h0M136.0 168.5h0M137.6 169.6h0M122.6 169.9h0M122.6 169.8h0M95.1 161.2h0M136.9 165.0h0M117.7 170.7h0M107.6 148.8h0M144.5 168.8h0M134.8 162.8h0M79.7 151.7h0M133.5 154.1h0M123.8 163.6h0M102.5 161.9h0M159.9 151.3h0M103.3 161.0h0M131.9 150.9h0M120.7 170.8h0M130.7 170.6h0M122.9 171.8h0M110.4 165.4h0M133.4 172.3h0M116.5 171.2h0M126.9 167.0h0M153.6 155.6h0M134.0 159.4h0M106.9 163.4h0M104.1 137.0h0M94.1 165.6h0M145.6 169.5h0M106.0 144.9h0M134.8 153.9h0M133.1 171.6h0M114.0 166.9h0M115.0 167.9h0M119.3 171.9h0M125.2 162.5h0M103.9 166.0h0M133.4 146.1h0M104.0 152.9h0M139.5 163.8h0M103.4 162.7h0M128.0 160.3h0M105.6 167.4h0M121.9 172.3h0M136.5 161.4h0M138.0 171.9h0M115.4 167.2h0M109.9 145.9h0M150.2 152.9h0M132.6 169.6h0M115.5 151.9h0M134.2 154.1h0M128.0 171.4h0M147.0 166.7h0M125.0 166.6h0M140.0 157.3h0M109.7 140.9h0M134.7 147.1h0M111.0 148.5h0M111.5 171.9h0M124.8 172.2h0M112.1 171.3h0M142.0 169.5h0M125.9 172.6h0M106.8 157.2h0M119.4 166.8h0M122.0 171.8h0M116.3 158.6h0M123.3 169.2h0M135.0 163.3h0M134.9 139.4h0M127.5 161.9h0M140.5 165.2h0M146.6 163.0h0M106.4 148.4h0M130.5 164.3h0M130.0 133.5h0M129.2 164.6h0M126.2 166.4h0M128.9 136.0h0M132.2 154.4h0M133.6 150.2h0M146.9 168.4h0M103.4 152.5h0M105.7 157.2h0M120.3 166.3h0M139.0 160.9h0M115.7 162.3h0M129.6 161.9h0M117.2 169.3h0M126.6 163.5h0M112.7 150.8h0M126.4 166.2h0M140.8 126.8h0M125.0 166.0h0M100.5 153.5h0M139.9 162.5h0M106.6 167.5h0M138.8 163.6h0M126.4 171.5h0M117.2 167.8h0M123.5 171.7h0M139.8 169.3h0M115.2 171.6h0M145.2 154.0h0M136.0 171.9h0M128.4 164.0h0M117.0 172.4h0M136.5 160.9h0M123.3 167.5h0M104.9 169.4h0M155.9 163.9h0M115.5 168.6h0M120.6 172.3h0M116.6 159.5h0M125.0 162.2h0M116.6 163.5h0M157.3 162.0h0M134.1 166.8h0M116.1 170.7h0M111.1 166.4h0M124.6 166.8h0M134.3 166.0h0M151.4 163.7h0M108.5 150.6h0M118.6 171.3h0M149.9 164.8h0M115.2 163.9h0M125.9 155.7h0M110.8 155.4h0M125.8 159.7h0M108.0 123.6h0M126.0 157.4h0M130.2 167.9h0M97.8 169.0h0M131.9 164.6h0M120.6 172.5h0M123.9 168.8h0M125.2 168.0h0M107.5 159.9h0M143.4 160.4h0M144.0 152.4h0M124.9 167.9h0M118.4 171.8h0M156.4 164.6h0M130.8 165.2h0M119.3 158.2h0M127.4 170.9h0M106.5 160.4h0M87.7 155.3h0M110.4 171.2h0M107.4 135.0h0M128.6 156.1h0M142.7 158.6h0M136.5 146.2h0M141.6 166.3h0M149.1 163.2h0M123.4 169.9h0M132.1 172.4h0M128.4 172.2h0M145.7 156.2h0M126.9 157.0h0M117.2 171.1h0M119.2 170.3h0M103.3 153.6h0M141.3 168.6h0M120.4 172.8h0M128.6 172.5h0M124.9 169.7h0M117.2 154.4h0M125.7 161.0h0M145.8 164.7h0M116.6 164.9h0M139.9 165.3h0M134.6 166.6h0M130.8 146.9h0M131.4 168.3h0M133.8 117.8h0M106.8 166.4h0M113.5 171.9h0M122.4 169.3h0M105.8 171.0h0M119.1 170.5h0M127.2 171.3h0M128.8 144.6h0M115.5 170.9h0M107.3 151.9h0M134.0 158.5h0M139.1 171.1h0M117.6 158.1h0M127.7 172.7h0M137.2 166.6h0M110.7 169.1h0M116.1 171.0h0M121.8 172.6h0M113.2 170.4h0M109.0 151.7h0M122.5 171.8h0M125.0 170.3h0M129.8 172.3h0M130.8 163.7h0M122.3 172.7h0M136.4 155.2h0M121.4 172.7h0M124.9 168.3h0M90.8 154.5h0M117.5 163.0h0M141.5 167.9h0M130.9 170.2h0M133.1 160.4h0M134.3 162.9h0M131.1 169.8h0M119.4 170.4h0M101.2 162.1h0M145.9 167.6h0M120.9 170.9h0M126.3 169.2h0M124.0 164.0h0M121.4 171.5h0M115.8 145.1h0M125.5 172.8h0M119.4 168.4h0M122.4 172.4h0M124.5 172.4h0M100.7 168.5h0M99.7 167.2h0M115.1 167.5h0M150.2 168.9h0M117.7 158.8h0M113.3 164.7h0M90.3 151.9h0M137.8 136.8h0M131.8 153.3h0M106.3 148.3h0M133.4 169.1h0M130.9 165.5h0M129.0 165.8h0M140.0 169.2h0M116.7 164.2h0M127.4 160.9h0M119.2 164.4h0M139.9 170.3h0M108.1 147.7h0M121.5 172.9h0M112.1 142.8h0M104.8 165.5h0M101.8 168.4h0M118.3 168.1h0M130.0 114.5h0M122.4 167.4h0M112.4 169.8h0M122.9 164.0h0M84.4 156.8h0M115.5 165.6h0M117.9 165.0h0M134.7 171.7h0M114.4 155.5h0M126.0 167.1h0M133.4 158.9h0M140.1 157.1h0M107.2 169.7h0M134.7 154.1h0M120.2 166.4h0M150.8 167.3h0M119.8 165.0h0M129.6 161.0h0M135.5 145.9h0M113.1 161.4h0M110.9 159.3h0M128.0 151.6h0M125.4 159.8h0M123.1 168.6h0M132.9 151.5h0M98.0 166.4h0M130.7 168.1h0M125.8 166.2h0M84.7 155.1h0M132.8 139.3h0M107.1 163.9h0M116.2 169.7h0M117.6 165.1h0M133.2 160.4h0M133.2 158.9h0M117.7 170.9h0M116.9 170.7h0M117.9 166.5h0M128.2 137.8h0M127.4 171.3h0M104.0 144.5h0M132.3 165.2h0M129.5 167.3h0M96.3 164.1h0M122.8 172.7h0M121.6 172.5h0M139.9 169.1h0M118.1 165.9h0M117.3 165.0h0M123.7 165.4h0M113.1 166.2h0M104.8 167.8h0M93.1 165.9h0M130.3 149.4h0M124.9 168.0h0M133.4 167.5h0M143.6 167.5h0M132.8 169.8h0M120.3 168.5h0M110.0 162.8h0M132.1 156.1h0M109.3 138.2h0M124.7 163.2h0M112.4 166.7h0M134.0 123.0h0M133.1 170.3h0M106.0 148.0h0M107.2 153.4h0M125.0 163.2h0M140.9 157.5h0M129.2 145.6h0M107.1 168.8h0M118.5 162.7h0M119.4 163.9h0M111.0 153.3h0M128.0 167.4h0M88.0 158.1h0M133.0 168.6h0M133.5 144.9h0M107.2 171.0h0M116.5 153.1h0M148.8 157.5h0M116.4 163.2h0M123.1 172.6h0M93.1 164.3h0M114.3 163.7h0M118.6 172.5h0M121.3 170.7h0M95.9 160.8h0M134.5 167.7h0M159.7 152.8h0M136.8 169.9h0M137.9 162.6h0M124.2 170.0h0M118.4 167.2h0M110.0 148.6h0M128.3 164.3h0M116.0 147.8h0M126.6 171.6h0M132.6 169.9h0M126.7 172.0h0M120.8 171.4h0M136.7 158.3h0M147.7 160.8h0M109.3 170.5h0M133.1 172.5h0M95.5 163.6h0M146.8 157.2h0M128.6 141.5h0M133.3 154.0h0M138.8 143.8h0M120.0 171.9h0M110.9 167.5h0M142.8 156.9h0M120.7 172.7h0M135.4 158.6h0M114.0 161.3h0M117.2 168.2h0M129.5 172.4h0M137.7 157.9h0M117.0 165.7h0M138.7 152.6h0M150.1 151.8h0M109.1 149.6h0M129.0 163.0h0M112.4 171.6h0M124.8 170.3h0M125.1 167.6h0M129.2 170.8h0M139.6 148.2h0M130.8 168.2h0M130.6 172.3h0M106.2 168.2h0M117.4 165.7h0M116.7 168.6h0M125.6 171.3h0M126.0 168.2h0M111.8 167.4h0M116.8 158.1h0M129.9 167.0h0M111.8 169.5h0M152.0 166.1h0M97.0 162.0h0M136.8 168.3h0M153.2 160.5h0M102.2 166.2h0M121.9 172.6h0M124.0 172.5h0M143.7 166.2h0M94.5 164.7h0M127.5 142.7h0M132.7 170.4h0M139.5 151.5h0M106.7 160.9h0M144.1 159.1h0M104.9 157.6h0M131.6 162.7h0M101.4 169.6h0M142.2 164.0h0M112.4 164.8h0M128.6 154.1h0M110.2 171.1h0M139.0 169.6h0M118.3 169.7h0M114.6 171.6h0M97.5 163.3h0M131.7 156.5h0M119.2 171.6h0M114.8 172.2h0M128.7 171.5h0M137.5 142.1h0M128.8 160.5h0M156.0 162.8h0M144.2 166.8h0M159.2 163.9h0M145.9 165.9h0M152.8 152.1h0M109.3 153.8h0M120.6 171.2h0M105.4 154.8h0M154.1 167.0h0M117.7 168.3h0M150.1 158.1h0M121.4 169.6h0M126.2 165.7h0M117.1 166.4h0M148.5 163.8h0M125.6 165.1h0M101.2 166.5h0M112.3 168.7h0M91.4 156.3h0M120.3 172.2h0M127.9 169.8h0M123.0 171.4h0M129.9 167.9h0M116.8 172.5h0M129.3 168.2h0M153.9 164.0h0M116.0 166.4h0M112.1 165.1h0M110.1 157.2h0M115.1 168.9h0M137.7 170.6h0M130.5 160.4h0M101.5 154.1h0M112.4 166.8h0M126.6 164.8h0M109.7 145.2h0M124.7 166.2h0M133.1 157.8h0M110.1 161.0h0M136.9 162.0h0M134.4 162.1h0M121.2 172.4h0M146.5 167.5h0M145.5 161.5h0M117.3 171.8h0M138.0 163.7h0M121.7 171.9h0M136.3 164.8h0M111.3 162.3h0M96.7 168.2h0M126.9 169.8h0M132.3 168.1h0M117.3 172.8h0M142.1 167.6h0M138.2 171.9h0M128.3 158.8h0M132.6 171.7h0M110.2 168.7h0M136.2 150.4h0M122.9 167.8h0M121.1 172.1h0M131.5 156.2h0M143.9 162.7h0M135.7 149.8h0M123.4 168.9h0M123.8 172.8h0M131.5 169.3h0M117.7 170.2h0M132.4 154.2h0M123.5 167.7h0M100.6 168.5h0M131.5 148.3h0M132.4 160.8h0M119.6 172.3h0M121.4 172.7h0M129.4 171.2h0M137.2 168.7h0M116.6 171.5h0M120.4 172.9h0M149.0 162.2h0M128.8 168.0h0M151.3 159.4h0M123.3 170.9h0M109.0 167.2h0M127.0 162.9h0M119.9 172.4h0M129.2 168.3h0M104.1 165.6h0M99.3 165.1h0M98.3 159.2h0M113.2 170.4h0M118.8 166.7h0M111.4 142.2h0M138.5 163.9h0M149.1 167.9h0M104.4 151.6h0M117.6 166.8h0M134.1 146.9h0M105.0 168.3h0M117.6 170.9h0M136.2 157.5h0M126.4 171.5h0M146.4 153.1h0M121.9 172.1h0M111.2 163.9h0M122.9 172.7h0M129.2 165.3h0M123.9 170.1h0M121.8 171.2h0M128.2 136.1h0M134.8 166.8h0M127.2 168.8h0M85.7 154.9h0M112.9 132.3h0M125.5 171.4h0M140.3 165.1h0M117.3 171.8h0M115.9 172.5h0M119.8 172.2h0M142.2 162.1h0M134.6 157.8h0M135.9 150.3h0M128.3 163.1h0M130.4 165.2h0M120.5 172.4h0M109.2 154.4h0M122.1 171.3h0M113.5 170.0h0M126.4 172.3h0M109.5 156.5h0M110.4 160.8h0M144.2 170.7h0M129.2 168.2h0M147.1 161.6h0M105.2 157.6h0M108.9 163.0h0M140.9 156.6h0M139.5 135.1h0M100.4 154.0h0M93.8 154.7h0M128.2 168.4h0M115.8 171.6h0M140.7 159.0h0M110.2 165.2h0M119.5 172.3h0M112.7 162.1h0M140.2 159.3h0M100.9 167.6h0M147.6 165.7h0M128.0 170.3h0M101.7 168.4h0M132.2 167.7h0M102.3 158.4h0M107.4 162.3h0M154.8 165.9h0M111.2 167.4h0M116.0 172.4h0M117.3 168.3h0M124.5 171.9h0M124.1 170.7h0M113.7 170.9h0M133.6 172.3h0M97.9 162.9h0M124.8 169.3h0M150.1 156.4h0M136.0 158.0h0M117.8 166.7h0M117.3 160.3h0M137.0 169.4h0M112.6 170.1h0M128.8 169.6h0M121.7 172.3h0M123.6 172.4h0M126.3 170.8h0M126.5 167.9h0M115.1 167.3h0M95.9 164.7h0M144.0 165.3h0M120.0 172.7h0M137.2 169.8h0M111.9 147.9h0M155.6 152.4h0M123.8 163.8h0M137.6 156.9h0M114.2 166.9h0M106.9 167.5h0M102.3 151.1h0M138.6 164.3h0M117.1 169.3h0M131.0 152.9h0M123.1 170.1h0M130.9 167.9h0M115.2 170.6h0M119.0 172.8h0M97.2 164.8h0M115.6 168.5h0M119.1 168.1h0M125.3 162.5h0M118.9 167.8h0M120.1 171.6h0M121.4 170.4h0M146.8 166.2h0M157.4 165.9h0M133.2 171.6h0M106.5 152.0h0M130.0 161.9h0M123.7 171.9h0M129.8 170.8h0M127.0 166.3h0M100.6 163.1h0M120.4 169.0h0M91.1 159.5h0M136.0 172.2h0M134.6 140.7h0M119.7 170.9h0M118.4 172.1h0M128.9 168.6h0M105.4 164.6h0M118.4 172.3h0M134.0 145.9h0M150.0 168.1h0M142.2 155.0h0M125.5 151.9h0M131.4 168.4h0M132.0 171.9h0M135.8 170.2h0M87.1 160.1h0M88.5 157.5h0M130.5 172.3h0M132.3 149.9h0M117.8 171.9h0M125.6 170.6h0M122.2 166.5h0M130.8 157.1h0M108.7 144.6h0M108.6 169.8h0M134.8 164.4h0M113.9 170.2h0M115.0 165.4h0M142.4 169.1h0M142.9 169.9h0M109.8 157.5h0M125.1 160.8h0M126.1 169.0h0M109.2 165.9h0M121.7 172.8h0M104.6 146.6h0M128.6 164.0h0M104.7 162.5h0M124.1 166.5h0M124.3 171.2h0M109.3 154.4h0M120.3 172.2h0M100.9 160.2h0M101.7 168.5h0M88.9 155.9h0M88.3 161.0h0M98.4 169.0h0M114.9 172.2h0M114.2 166.0h0M139.8 158.9h0M162.0 160.8h0M123.8 172.3h0M123.9 171.4h0M129.0 170.1h0M146.0 169.3h0M124.1 168.8h0M134.1 171.7h0M119.5 166.7h0M141.8 170.0h0M89.1 160.2h0M141.5 168.5h0M116.1 167.9h0M133.7 159.8h0M118.0 169.5h0M117.0 171.9h0M117.6 165.4h0M124.2 172.6h0M87.9 161.4h0M121.4 172.3h0M117.3 166.3h0M107.6 147.9h0M129.2 166.8h0M116.9 169.9h0M138.4 168.6h0M118.8 171.8h0M131.5 154.6h0M116.6 166.0h0M138.0 167.8h0M114.9 171.9h0M105.9 160.2h0M120.5 171.2h0M93.6 166.4h0M132.4 166.2h0M148.6 156.0h0M152.8 151.5h0M122.0 172.7h0M135.3 168.3h0M130.1 148.7h0M110.3 164.2h0M136.2 157.9h0M119.4 170.3h0M129.3 155.8h0M101.5 159.2h0M135.6 160.8h0M130.4 157.9h0M129.8 154.6h0M111.2 170.6h0M138.4 163.7h0M113.5 170.2h0M113.3 163.4h0M114.5 159.6h0M133.5 149.4h0M132.8 172.3h0M116.5 165.9h0M130.7 152.5h0M123.4 169.0h0M145.3 153.4h0M133.8 143.8h0M133.0 119.0h0M125.1 161.8h0M132.2 170.5h0M122.5 172.7h0M141.6 156.6h0M96.9 162.5h0M134.7 171.7h0M126.3 170.5h0M118.4 171.9h0M121.7 172.6h0M119.5 171.9h0M160.5 164.1h0M133.2 165.5h0M136.3 161.9h0M120.5 172.8h0M129.0 167.5h0M114.4 172.4h0M129.0 146.1h0M136.2 154.6h0M103.0 162.0h0M120.9 172.6h0M124.4 166.2h0M131.5 172.7h0M140.1 148.2h0M148.4 167.2h0M121.6 172.6h0M144.9 160.6h0M128.7 172.7h0M146.0 155.9h0M83.2 153.3h0M106.3 163.7h0M108.0 167.8h0M134.8 136.1h0M131.0 162.6h0M112.6 163.6h0M127.7 172.6h0M132.4 146.1h0M96.0 166.0h0M131.1 167.9h0M111.4 165.1h0M129.1 161.1h0M135.9 158.8h0M121.9 170.8h0M110.9 165.4h0M120.2 169.3h0M150.4 166.2h0M124.1 171.9h0M135.5 146.2h0M128.4 171.8h0M127.3 170.1h0M90.7 162.8h0M126.0 167.1h0M137.8 163.7h0M126.3 171.7h0M133.6 167.5h0M131.3 164.4h0M105.6 160.2h0M121.2 172.0h0M149.7 155.5h0M127.7 137.6h0M116.9 172.4h0M125.7 171.6h0M136.8 165.5h0M121.0 171.3h0M118.4 171.0h0M140.2 161.5h0M115.5 166.1h0M113.7 162.0h0M139.6 139.5h0M116.7 172.0h0M149.4 165.8h0M138.1 152.5h0M110.8 157.5h0M113.7 157.2h0M120.8 171.3h0M139.2 165.9h0M130.6 170.8h0M120.9 172.0h0M101.5 165.0h0M126.6 167.4h0M141.9 155.9h0M124.5 165.5h0M135.4 169.1h0M125.4 169.9h0M121.9 172.6h0M124.1 172.3h0M126.5 163.7h0M88.0 155.0h0M129.2 167.3h0M125.0 172.1h0M126.3 165.5h0M122.2 170.7h0M121.8 170.9h0M138.3 162.9h0M113.2 135.0h0M122.0 172.6h0M154.7 165.6h0M138.0 160.5h0M121.7 168.8h0M160.0 159.8h0M113.6 161.7h0M89.9 163.2h0M125.4 163.9h0M121.0 171.6h0M138.7 171.4h0M114.4 164.4h0M150.0 167.5h0M133.1 165.6h0M135.8 170.2h0M133.9 170.6h0M132.9 166.0h0M124.8 168.1h0M114.2 168.4h0M117.9 171.7h0M113.0 169.4h0M120.3 170.9h0M136.0 161.3h0M109.7 163.2h0M135.4 163.6h0M131.8 161.9h0M148.6 160.3h0M124.6 164.1h0M137.0 163.7h0M135.5 169.3h0M140.1 143.2h0M102.9 163.0h0M146.7 160.6h0M97.6 165.8h0M106.9 162.4h0M154.9 163.9h0M140.9 151.6h0M106.7 153.3h0M131.8 143.2h0M111.7 162.5h0M135.6 149.2h0M139.8 161.7h0M116.0 167.0h0M138.0 171.6h0M136.5 159.0h0M155.1 165.5h0M128.5 152.6h0M113.5 167.3h0M101.7 153.6h0M103.7 164.3h0M122.7 169.6h0M133.6 135.0h0M105.0 170.5h0M146.4 155.0h0M115.6 170.4h0M126.4 156.2h0M112.0 171.2h0M129.0 156.8h0M155.8 154.6h0M162.1 163.4h0M138.3 162.7h0M116.4 163.1h0M127.3 171.9h0M121.0 172.6h0M96.0 157.9h0M136.8 161.9h0M125.0 159.5h0M113.0 154.8h0M134.1 154.2h0M133.9 161.9h0M146.3 161.9h0M120.5 170.6h0M124.3 166.9h0M119.0 168.1h0M108.7 157.2h0M137.6 168.4h0M134.2 171.9h0M146.1 169.5h0M153.7 163.4h0M107.7 160.9h0M117.6 159.5h0M129.8 159.2h0M129.5 157.3h0M124.8 167.1h0M150.9 168.5h0M132.9 165.9h0M128.4 168.1h0M113.2 166.7h0M124.8 169.0h0M122.0 169.5h0M118.2 161.5h0M110.5 170.6h0M143.5 154.0h0M115.8 168.4h0M139.2 168.8h0M85.6 152.0h0M108.8 140.1h0M131.4 160.8h0M128.6 166.8h0M130.9 171.3h0M124.8 168.0h0M105.3 146.3h0M119.9 171.5h0M100.4 167.7h0M124.2 171.8h0M136.0 168.3h0M128.6 162.9h0M113.0 170.5h0M132.9 162.3h0M130.8 156.9h0M125.1 166.6h0M120.3 167.8h0M117.7 171.3h0M103.4 162.4h0M107.4 170.9h0M139.0 168.7h0M118.6 172.2h0M123.2 170.1h0M133.6 151.6h0M133.7 169.7h0M142.8 167.9h0M125.3 167.7h0M125.0 171.3h0M140.0 171.6h0M126.5 171.2h0M109.3 165.2h0M94.9 160.4h0M139.5 164.3h0M135.4 118.5h0M132.4 140.7h0M129.7 156.3h0M114.1 169.2h0M124.1 171.2h0M117.8 170.5h0M145.1 161.2h0M108.9 153.5h0M131.9 169.0h0M109.4 170.4h0M107.9 166.0h0M115.1 160.6h0M122.8 169.8h0M104.5 166.9h0M106.6 167.7h0M143.6 159.0h0M142.5 170.4h0M88.6 156.9h0M144.9 166.7h0M107.6 127.2h0M124.1 172.3h0M117.9 169.8h0M132.9 161.8h0M136.3 121.3h0M141.1 165.3h0M155.7 159.6h0M127.4 160.6h0M108.7 158.4h0M124.8 163.2h0M84.5 158.0h0M115.5 172.2h0M120.0 172.2h0M117.6 170.8h0M113.2 171.7h0M135.0 170.9h0M141.4 142.4h0M139.7 166.3h0M123.3 171.6h0M131.1 172.4h0M127.0 169.4h0M140.2 160.8h0M107.8 167.4h0M96.1 158.6h0M132.0 163.6h0M106.1 156.3h0M126.1 154.4h0M117.1 165.9h0M136.9 150.9h0M112.4 157.8h0M127.3 169.4h0M103.0 159.2h0M130.9 166.2h0M139.3 139.6h0M116.6 161.8h0M134.7 152.7h0M113.3 172.4h0M136.4 145.4h0M134.3 163.1h0M116.9 170.8h0M108.6 150.6h0M124.2 172.7h0M123.1 170.2h0M141.0 168.3h0M133.1 171.4h0M143.5 169.0h0M113.1 155.5h0M116.3 163.7h0M127.7 158.5h0M134.6 168.0h0M119.5 171.2h0M107.5 165.4h0M130.2 156.8h0M139.5 157.5h0M107.6 152.7h0M124.7 166.2h0M110.0 171.2h0M109.7 168.4h0M125.9 168.7h0M115.6 169.5h0M123.1 172.5h0M107.3 164.3h0M139.5 166.2h0M138.4 160.7h0M119.1 165.9h0M117.7 168.9h0M145.8 158.8h0M116.5 172.0h0M137.7 153.9h0M106.3 171.4h0M105.4 164.0h0M141.6 165.0h0M136.3 171.6h0M115.8 165.5h0M130.4 166.7h0M108.5 142.9h0M134.0 170.1h0M116.6 167.9h0M129.9 168.4h0M143.0 166.8h0M124.3 167.6h0M125.4 169.1h0M148.3 169.1h0M121.5 171.8h0M164.4 159.4h0M131.0 167.5h0M142.2 163.3h0M100.4 162.7h0M139.2 155.6h0M143.0 152.6h0M129.3 158.7h0M134.0 141.0h0M125.2 165.2h0M121.5 172.7h0M130.5 163.3h0M144.3 162.0h0M122.4 172.0h0M132.9 161.5h0M114.2 170.2h0M130.2 159.2h0M101.5 168.2h0M121.3 170.6h0M153.9 162.5h0M120.4 169.7h0M129.7 153.9h0M103.9 155.0h0M127.5 165.3h0M121.3 172.0h0M122.1 172.4h0M126.9 168.5h0M128.4 166.6h0M138.3 168.8h0M116.3 165.5h0M140.8 139.8h0M108.0 160.4h0M116.2 169.5h0M111.9 148.9h0M143.2 170.5h0M142.3 151.9h0M89.6 162.8h0M137.0 149.9h0M121.3 171.0h0M114.1 172.7h0M135.1 157.6h0M161.8 152.0h0M135.6 170.9h0M117.3 163.4h0M129.5 164.2h0M110.5 170.9h0M119.3 168.0h0M122.3 170.1h0M164.4 156.7h0M128.5 167.1h0M112.5 166.7h0M114.1 168.0h0M94.5 158.4h0M116.9 172.6h0M141.8 166.6h0M125.4 164.4h0M122.9 172.1h0M132.8 154.2h0M117.4 166.2h0M130.5 146.1h0M106.7 167.0h0M129.3 143.8h0M116.1 163.0h0M143.8 169.2h0M157.2 160.8h0M148.2 159.9h0M126.9 168.3h0M143.8 157.5h0M143.0 170.2h0M129.0 155.1h0M118.2 165.7h0M122.0 170.4h0M138.7 160.8h0M125.2 157.3h0M117.6 167.6h0M151.2 158.9h0M116.6 163.3h0M125.2 168.4h0M138.0 155.3h0M139.3 165.1h0M128.0 162.6h0M108.5 171.4h0M148.6 165.5h0M143.4 168.7h0M123.1 168.5h0M105.7 158.5h0M125.8 167.4h0M140.8 170.2h0M124.4 166.7h0M119.2 169.3h0M123.0 167.0h0M139.2 170.1h0M122.1 172.8h0M154.4 166.6h0M146.8 168.6h0M131.0 157.8h0M122.2 171.2h0M123.4 171.2h0M110.8 170.7h0M164.0 160.4h0M117.3 167.5h0M135.6 172.0h0M128.8 162.7h0M128.4 149.2h0M132.5 150.2h0M137.5 144.7h0M99.4 169.4h0M119.2 172.0h0M126.5 171.6h0M103.4 152.4h0M116.5 168.7h0M125.9 167.4h0M142.1 163.9h0M137.7 169.2h0M141.2 165.2h0M121.9 172.7h0M121.4 172.4h0M123.1 171.2h0M121.4 172.8h0M120.7 172.8h0M137.8 161.5h0M109.3 167.9h0M121.0 172.5h0M130.4 148.5h0M159.1 159.8h0M118.8 169.9h0M106.8 165.8h0M127.3 165.0h0M127.7 171.2h0M112.0 156.8h0M135.2 154.4h0M137.0 170.6h0M123.7 172.4h0M113.6 169.9h0M118.7 172.1h0M115.3 168.1h0M139.9 131.0h0M120.4 169.4h0M163.9 159.7h0M127.9 159.7h0M138.5 167.6h0M114.8 157.6h0M141.9 157.7h0M130.3 164.5h0M118.0 169.4h0M119.1 172.2h0M137.8 156.1h0M142.6 167.0h0M141.0 168.4h0M129.8 170.3h0M123.2 169.4h0M125.8 167.1h0M143.5 159.9h0M147.5 166.1h0M101.4 166.9h0M108.7 166.3h0M141.8 167.8h0M115.3 163.9h0M124.0 172.5h0M140.1 170.7h0M127.3 158.7h0M135.5 168.4h0M115.9 170.4h0M108.1 167.2h0M121.0 172.5h0M129.9 146.7h0M124.6 171.7h0M97.5 156.6h0M104.0 144.9h0M121.1 170.5h0M143.3 170.1h0M112.2 170.2h0M132.0 166.7h0M139.0 168.9h0M104.5 162.4h0M119.6 172.8h0M94.7 159.5h0M126.1 169.6h0M110.0 157.2h0M139.1 147.0h0M133.3 166.7h0M125.1 172.4h0M142.7 170.8h0M119.6 170.4h0M113.0 165.1h0M129.8 156.5h0M115.9 164.5h0M128.8 169.2h0M129.9 172.4h0M145.0 156.1h0M138.6 152.3h0M111.0 151.6h0M119.4 167.1h0M142.6 165.0h0M121.1 172.2h0M118.4 172.0h0M113.5 170.4h0M92.9 161.1h0M137.7 148.7h0M140.5 165.2h0M132.1 156.5h0M134.8 170.7h0M131.6 171.6h0M140.7 160.2h0M124.7 161.6h0M112.6 148.0h0M114.8 162.4h0M149.2 165.3h0M118.0 162.1h0M133.0 163.7h0M123.0 172.7h0M121.2 172.4h0M141.2 166.1h0M103.8 167.2h0M127.2 160.3h0M143.4 168.9h0M119.1 166.1h0M135.7 165.1h0M116.3 148.2h0M139.5 169.9h0M120.0 172.5h0M149.0 164.2h0M129.4 156.2h0M131.1 150.5h0M116.8 157.3h0M119.4 170.5h0M123.8 172.6h0M98.1 157.3h0M128.0 172.2h0M133.9 162.7h0M131.7 147.1h0M112.4 168.3h0M120.9 171.3h0M128.5 169.2h0M123.8 165.7h0M103.4 164.5h0M131.4 158.0h0M114.8 170.4h0M112.6 166.1h0M113.6 143.4h0M129.4 156.6h0M154.7 159.8h0M102.8 169.4h0M134.7 158.0h0M130.5 154.9h0M136.0 157.4h0M128.1 157.8h0M135.2 166.3h0M125.1 168.5h0M120.9 168.5h0M118.7 172.2h0M120.3 172.1h0M116.9 165.1h0M151.3 163.3h0M135.1 163.3h0M150.2 167.6h0M140.9 164.1h0M115.9 164.9h0M105.7 151.0h0M144.3 156.9h0M110.0 164.3h0M132.9 170.6h0M126.1 168.4h0M135.0 168.6h0M103.1 166.4h0M114.5 169.4h0M136.2 146.0h0M142.1 170.0h0M137.5 142.0h0M134.1 163.8h0M141.8 164.2h0M129.6 169.2h0M109.8 168.5h0M119.1 171.1h0M104.1 163.6h0M129.9 150.9h0M110.4 126.1h0M142.6 170.6h0M141.4 155.0h0M106.7 169.7h0M114.6 171.5h0M99.7 166.9h0M123.8 168.2h0M121.7 172.2h0M135.1 160.6h0M129.2 168.6h0M94.2 165.1h0M128.8 153.4h0M143.6 168.3h0M139.5 163.5h0M117.7 169.4h0M90.4 159.4h0M117.9 172.7h0M146.6 161.9h0M147.3 159.8h0M118.2 167.6h0M119.5 172.8h0M118.8 172.0h0M122.2 168.6h0M120.0 172.5h0M129.0 155.6h0M145.8 158.8h0M128.5 162.1h0M127.2 167.3h0M116.1 168.8h0M139.6 171.2h0M144.1 169.3h0M130.4 160.9h0M106.1 162.7h0M113.7 158.0h0M140.9 169.7h0M114.4 162.4h0M130.8 151.5h0M129.9 151.7h0M158.9 165.2h0M129.9 165.3h0M118.2 168.8h0M132.5 166.2h0M130.2 164.7h0M126.0 152.1h0M93.2 160.9h0M131.2 164.0h0M102.6 170.2h0M121.8 169.8h0M109.9 165.7h0M114.1 162.3h0M117.0 168.4h0M108.0 136.5h0M108.6 165.3h0M92.2 161.9h0M115.8 161.0h0M122.2 170.8h0M109.4 155.7h0M125.7 156.4h0M129.0 165.0h0M115.1 169.8h0M107.9 153.8h0M120.2 172.4h0M138.5 156.4h0M121.1 171.8h0M100.1 153.1h0M135.5 165.4h0M155.5 166.7h0M145.8 160.6h0M118.1 168.9h0M114.9 160.3h0M93.7 152.6h0M119.8 171.0h0M110.1 156.4h0M137.3 162.4h0M98.1 167.3h0M123.8 171.5h0M122.1 172.0h0M99.5 164.1h0M122.5 172.4h0M118.5 171.8h0M102.5 169.6h0M140.9 170.6h0M144.1 162.6h0M125.9 161.6h0M120.3 167.3h0M133.8 154.0h0M129.7 158.0h0M110.6 157.3h0M136.6 172.0h0M132.3 146.5h0M147.3 169.5h0M130.1 165.2h0M104.0 166.0h0M146.7 167.1h0M105.6 164.2h0M136.1 169.0h0M122.1 171.7h0M137.9 159.7h0M113.7 167.0h0M140.7 153.7h0M137.7 169.6h0M135.0 166.3h0M124.9 163.9h0M130.2 164.8h0M117.7 171.0h0M89.3 159.8h0M111.5 167.3h0M121.4 172.8h0M143.6 162.5h0M117.1 172.5h0M135.3 170.7h0M121.8 169.6h0M135.2 157.6h0M129.3 130.6h0M106.0 154.4h0M121.6 172.3h0M135.6 158.4h0M125.0 160.4h0M129.1 155.2h0M122.1 168.1h0M126.4 158.9h0M141.7 167.8h0M125.8 158.0h0M114.8 160.5h0M143.9 163.5h0M119.2 169.6h0M121.4 172.5h0M112.0 171.8h0M122.2 171.5h0M133.2 160.1h0M123.7 165.6h0M134.9 167.5h0M113.8 161.1h0M111.0 159.9h0M135.8 168.6h0M94.6 160.7h0M125.5 162.0h0M147.3 167.9h0M110.3 153.3h0M106.7 159.7h0M127.6 159.8h0M100.0 154.8h0M132.0 167.2h0M103.1 164.2h0M121.1 170.8h0M143.6 168.0h0M124.0 166.8h0M108.5 146.5h0M122.1 170.1h0M137.6 141.5h0M116.3 167.0h0M134.2 161.9h0M150.6 158.9h0M137.4 171.1h0M124.5 172.8h0M134.5 162.1h0M113.6 169.8h0M121.1 170.7h0M117.2 158.0h0M135.8 164.9h0M109.1 157.4h0M121.2 172.1h0M128.2 172.8h0M119.6 168.5h0M126.6 172.5h0M127.0 169.5h0M117.7 162.7h0M128.8 169.0h0M119.9 172.8h0M116.0 171.3h0M128.4 160.6h0M129.0 160.5h0M122.2 171.4h0M102.1 157.4h0M124.5 168.6h0M129.8 162.7h0M108.9 161.2h0M149.6 163.7h0M118.7 162.6h0M125.6 165.2h0M112.8 163.4h0M120.9 171.3h0M99.7 152.0h0M112.5 158.5h0M110.5 149.5h0M103.8 159.5h0M140.4 161.5h0M114.9 167.8h0M106.7 163.0h0M140.4 159.7h0M144.7 151.5h0M104.7 137.3h0M93.7 162.1h0M121.8 172.6h0M129.2 153.4h0M108.1 163.6h0M129.7 147.3h0M125.9 156.9h0M121.1 171.4h0M112.5 163.2h0M122.7 171.6h0M109.9 143.4h0M149.3 164.6h0M116.2 171.4h0M112.6 145.4h0M101.3 151.9h0M154.2 160.5h0M95.1 164.5h0M126.2 169.4h0M114.2 146.2h0M111.9 150.1h0M142.8 152.1h0M107.3 131.1h0M132.2 147.1h0M109.6 149.1h0M104.7 125.2h0M131.6 149.3h0M127.4 138.0h0M107.3 147.3h0M132.6 132.5h0M96.5 152.1h0M134.5 148.1h0M134.8 146.4h0M137.9 151.1h0M124.6 145.6h0M104.5 147.4h0M93.5 152.4h0M139.0 136.4h0M162.1 152.9h0M108.9 152.9h0M129.6 137.5h0M125.9 145.9h0M113.9 125.4h0M108.9 128.8h0M136.4 124.2h0M128.6 148.3h0M124.9 140.2h0M128.5 150.1h0M117.5 142.5h0M109.1 152.5h0M115.1 149.9h0M139.7 151.2h0M136.5 146.5h0M167.5 151.4h0M133.5 147.7h0M114.5 149.8h0M124.4 143.8h0M136.1 126.7h0M194.8 151.5h0M132.2 148.2h0M136.7 143.2h0M70.9 153.9h0M83.3 157.7h0M70.6 151.2h0M82.4 151.8h0M78.6 151.3h0M70.2 154.0h0M86.9 153.3h0M74.0 151.5h0M76.7 151.8h0M71.4 152.4h0M89.5 165.5h0M71.1 153.9h0M63.6 152.4h0M86.4 158.0h0M82.3 157.8h0M80.3 153.2h0M91.3 158.8h0M72.7 154.1h0M66.0 151.3h0M72.3 151.1h0M74.3 153.0h0M90.4 163.9h0M84.9 151.1h0M79.9 154.0h0M82.1 154.6h0M78.9 153.6h0M77.9 152.2h0M92.0 165.0h0M67.3 153.1h0M88.9 162.3h0M74.2 154.1h0M84.1 155.4h0M88.0 159.0h0M88.8 163.2h0M92.4 167.7h0M77.1 153.0h0M82.5 151.8h0M79.1 151.7h0M66.3 152.4h0M69.7 154.0h0M81.6 156.4h0M92.0 152.7h0M69.0 152.5h0M75.7 151.3h0M84.7 158.8h0M88.6 154.7h0M82.3 156.5h0M64.0 151.3h0M83.9 155.5h0M80.8 155.3h0M92.2 151.5h0M65.2 151.8h0M72.9 154.3h0M65.5 152.3h0M82.9 153.5h0M73.2 151.9h0M81.8 154.4h0M85.7 158.3h0M76.1 152.2h0M67.2 152.5h0M88.8 153.4h0M63.1 153.1h0M85.8 158.2h0M86.3 158.2h0M71.6 152.0h0M81.7 155.0h0M64.6 152.1h0M76.5 151.6h0M71.9 151.8h0M92.1 152.6h0M175.6 153.3h0M167.1 158.5h0M153.5 151.6h0M158.0 152.7h0M173.8 155.6h0M153.0 169.1h0M170.0 160.8h0M179.8 154.4h0M159.1 163.1h0M168.7 151.5h0M161.5 152.6h0M176.4 154.5h0M182.0 154.1h0M160.3 160.5h0M166.3 158.1h0M158.5 155.1h0M179.2 153.2h0M182.7 153.7h0M163.0 161.7h0M176.6 153.0h0M151.7 152.8h0M165.4 155.4h0M165.1 153.0h0M183.1 153.0h0M156.0 155.3h0M158.6 152.5h0M155.6 169.0h0M158.5 163.5h0M165.9 161.6h0M164.9 158.6h0M183.5 152.1h0M159.0 163.6h0M174.0 154.5h0M183.1 152.8h0M175.2 154.2h0M158.9 167.2h0M155.5 153.5h0M180.0 153.1h0M161.4 163.0h0M171.0 154.3h0M158.2 160.8h0M159.1 163.0h0M181.2 151.9h0M162.6 151.7h0M161.4 153.9h0M165.3 160.4h0M152.9 156.9h0M166.9 153.9h0M181.4 153.1h0M164.7 152.5h0M162.7 156.0h0M178.5 153.2h0M168.2 158.8h0M182.6 151.8h0M168.9 157.0h0M169.6 153.8h0M156.5 153.6h0M176.3 152.7h0M153.4 151.5h0M179.3 154.4h0M157.5 160.9h0M172.0 158.2h0M157.9 164.9h0M161.5 152.8h0M165.9 154.6h0M167.5 156.5h0M161.8 152.4h0M156.7 166.7h0M181.2 152.5h0M179.9 152.2h0M107.0 82.2h0M116.0 90.7h0M117.5 102.8h0M105.5 107.3h0M109.9 117.4h0M113.6 116.1h0M130.9 116.1h0M134.7 116.1h0" stroke="#000" stroke-width="2.0" stroke-linecap="round" fill="none"/>
<path d="M85.8 122.4h0M90.4 127.5h0M85.1 146.4h0M96.3 145.1h0M87.5 140.2h0M67.4 143.1h0M100.9 150.2h0M94.1 141.5h0M87.7 150.6h0M95.3 136.2h0M103.4 146.1h0M89.7 150.0h0M81.9 147.1h0M100.1 140.4h0M75.7 147.4h0M101.4 147.9h0M89.1 150.0h0M86.3 121.1h0M68.0 143.9h0M96.1 141.4h0M67.8 150.8h0M101.3 140.6h0M93.6 133.7h0M89.1 148.4h0M79.7 146.3h0M85.8 122.5h0M96.5 149.0h0M70.4 145.5h0M100.8 143.0h0M77.7 141.8h0M94.9 130.2h0M85.6 146.3h0M98.1 140.2h0M102.2 120.2h0M95.9 144.9h0M67.3 149.4h0M83.7 150.8h0M99.2 127.4h0M91.8 127.9h0M65.6 150.9h0M96.8 146.9h0M64.4 135.9h0M89.1 137.3h0M84.5 142.3h0M88.2 132.5h0M100.3 122.3h0M73.6 147.8h0M99.0 126.2h0M89.3 149.2h0M94.5 146.3h0M84.5 125.3h0M95.6 140.4h0M89.7 133.6h0M86.3 137.3h0M76.2 133.5h0M94.0 147.0h0M86.0 141.1h0M88.7 143.7h0M86.2 139.8h0M79.1 138.0h0M81.9 142.8h0M99.2 135.4h0M98.8 144.2h0M93.0 146.1h0M76.7 150.1h0M97.2 150.0h0M84.0 130.0h0M96.4 148.3h0M90.5 150.6h0M66.1 146.9h0M90.0 147.8h0M77.5 134.2h0M68.1 141.8h0M95.2 150.5h0M94.4 150.8h0M91.7 139.5h0M96.8 143.2h0M81.2 140.4h0M100.6 126.0h0M73.4 143.0h0M74.9 140.1h0M94.4 137.3h0M99.3 128.2h0M92.1 149.1h0M99.9 139.2h0M103.1 143.1h0M93.5 149.5h0M89.5 132.6h0M92.8 147.6h0M94.4 148.8h0M82.2 140.7h0M80.1 125.6h0M102.3 149.7h0M103.3 139.5h0M68.3 139.2h0M89.1 142.9h0M85.8 148.6h0M70.9 150.3h0M95.6 142.1h0M101.4 145.7h0M94.1 131.6h0M89.1 147.7h0M102.7 120.4h0M91.9 127.8h0M74.5 134.0h0M69.1 143.9h0M98.0 148.2h0M80.0 147.3h0M100.3 143.3h0M98.9 143.7h0M97.3 147.0h0M94.7 143.7h0M68.0 148.2h0M83.9 146.5h0M94.8 145.0h0M94.1 146.5h0M88.4 136.2h0M86.4 145.0h0M85.2 138.6h0M76.8 143.9h0M87.5 143.7h0M100.8 132.1h0M93.4 143.0h0M75.2 150.9h0M85.6 124.6h0M79.5 147.8h0M103.0 146.7h0M80.3 135.6h0M97.8 147.1h0M94.1 139.4h0M70.8 144.2h0M68.0 144.2h0M78.5 145.7h0M90.7 145.3h0M86.0 143.8h0M84.6 143.7h0M83.2 143.4h0M99.6 136.3h0M99.7 149.8h0M94.9 149.6h0M91.1 150.3h0M75.4 131.2h0M82.2 137.0h0M101.0 146.7h0M82.6 127.6h0M84.0 138.8h0M95.1 129.8h0M71.3 143.3h0M101.7 144.8h0M96.5 150.6h0M100.7 144.3h0M89.6 150.6h0M82.8 130.0h0M80.7 147.3h0M87.5 149.6h0M101.5 133.8h0M79.9 138.3h0M98.5 150.9h0M102.1 130.8h0M86.4 133.9h0M73.4 142.0h0M93.8 140.2h0M89.7 145.1h0M82.2 148.0h0M68.7 140.0h0M91.2 143.5h0M88.6 123.0h0M80.7 134.2h0M95.5 148.3h0M99.9 125.5h0M93.8 135.6h0M95.7 150.5h0M89.8 142.8h0M102.7 137.0h0M74.8 141.6h0M94.5 133.2h0M76.0 134.4h0M92.2 143.0h0M92.7 144.7h0M62.9 149.6h0M93.0 127.7h0M88.8 144.6h0M74.2 144.4h0M96.1 145.9h0M103.4 142.8h0M89.2 136.5h0M98.5 124.4h0M103.2 120.7h0M87.9 142.8h0M101.1 137.1h0M93.4 135.7h0M77.5 127.9h0M37.6 96.4h0M51.9 108.9h0M97.2 71.3h0M72.8 107.8h0M80.6 105.4h0M93.3 106.9h0M102.0 109.5h0M77.3 117.0h0M66.3 121.3h0M61.2 148.9h0M96.7 114.1h0M98.4 117.6h0" stroke="#a83e40" stroke-width="2.4" stroke-linecap="round" fill="none"/>
<path d="M153.2 149.5h0M143.3 150.7h0M145.9 125.2h0M159.2 145.2h0M142.3 147.9h0M152.8 150.0h0M157.3 146.8h0M146.3 144.5h0M152.4 150.9h0M149.0 144.3h0M162.5 141.8h0M143.1 136.2h0M153.0 137.8h0M155.1 131.4h0M144.8 132.3h0M143.8 148.4h0M145.2 144.4h0M148.6 148.6h0M148.3 143.5h0M142.7 132.7h0M142.0 140.3h0M148.1 146.0h0M147.4 140.2h0M143.7 147.8h0M149.4 146.6h0M145.9 126.3h0M150.5 147.5h0M149.8 149.6h0M153.8 148.1h0M161.1 145.9h0M144.2 143.5h0M157.2 148.7h0M143.9 137.5h0M153.4 132.6h0M143.7 137.3h0M152.7 141.1h0M146.6 144.0h0M161.4 149.3h0M148.4 132.9h0M146.1 130.1h0M154.4 146.3h0M146.6 134.3h0M147.8 149.1h0M142.2 142.0h0M165.9 148.4h0M154.1 150.5h0M149.4 150.2h0M149.2 139.8h0M162.2 144.0h0M147.1 130.8h0M141.5 143.7h0M161.7 150.1h0M144.3 144.3h0M153.1 139.1h0M160.2 137.4h0M149.1 147.5h0M153.8 142.4h0M148.0 131.3h0M153.4 145.4h0M141.6 143.4h0M147.3 143.0h0M143.6 145.7h0M154.7 139.1h0M144.8 131.6h0M147.4 144.5h0M154.8 144.7h0M145.9 127.3h0M164.3 145.7h0M155.7 137.2h0M150.6 143.0h0M154.8 138.7h0M142.1 143.2h0M159.3 137.1h0M154.9 146.6h0M142.4 135.0h0M145.1 147.4h0M143.4 146.2h0M143.7 133.5h0M153.5 134.6h0M144.4 138.4h0M144.9 144.0h0M162.9 141.8h0M142.9 141.1h0M147.8 145.7h0M147.0 142.2h0M148.0 141.4h0M142.0 147.8h0M146.3 144.7h0M151.5 146.6h0M160.2 139.8h0M148.1 147.9h0M142.6 134.8h0M145.3 140.1h0M155.5 143.9h0M161.5 140.4h0M142.8 131.2h0M149.2 145.5h0M142.6 137.1h0M142.3 144.5h0M141.7 133.1h0M156.5 144.6h0M142.7 147.5h0M144.2 144.9h0M150.6 148.2h0M160.6 143.0h0M141.7 149.0h0M149.7 149.5h0M142.9 149.8h0M142.9 141.9h0M151.6 151.0h0M152.6 150.0h0M159.9 145.7h0M148.5 150.9h0M148.5 133.5h0M154.8 145.1h0M149.1 133.4h0M147.0 122.9h0M149.6 136.4h0M142.5 132.0h0M153.2 146.9h0M143.2 134.8h0M151.9 140.0h0M160.3 139.9h0M142.6 141.9h0M151.4 145.5h0M149.3 145.1h0M161.2 145.6h0M145.9 140.2h0M141.5 150.5h0M149.7 136.4h0M149.3 148.4h0M142.7 148.3h0M150.0 146.0h0M159.8 138.7h0M145.8 127.2h0M143.0 150.1h0M166.0 143.8h0M166.5 141.5h0M157.4 138.5h0M144.1 149.3h0M144.8 147.6h0M150.8 147.9h0M157.8 138.8h0M146.1 141.0h0M144.7 140.9h0M160.5 146.1h0M153.4 147.3h0M142.9 147.4h0M148.0 146.5h0M152.0 141.7h0M147.1 148.4h0M144.8 143.0h0M148.3 145.6h0M157.0 150.1h0M158.8 101.2h0M188.1 128.1h0M174.2 129.4h0M179.6 130.1h0M163.5 123.7h0M168.1 132.0h0M170.4 143.2h0M175.8 141.4h0M178.8 144.5h0M180.4 148.4h0M165.8 144.5h0M171.8 149.3h0M147.3 113.9h0M151.9 116.1h0M150.4 120.0h0M143.1 119.4h0" stroke="#6688c8" stroke-width="2.4" stroke-linecap="round" fill="none"/>
<rect x="37.5" y="63.3" width="66" height="88.2" fill="none" stroke="#9c3a3a" stroke-width="1"/>
<rect x="141.3" y="63.3" width="65" height="88.2" fill="none" stroke="#5b78b8" stroke-width="1"/>
<text x="54.3" y="72.3" font-size="5.9" font-weight="bold" text-anchor="start" fill="#a84040" stroke="#a84040" stroke-width="0.2" textLength="32.4" lengthAdjust="spacingAndGlyphs" >205 peptides</text>
<text x="155.8" y="72.3" font-size="5.9" font-weight="bold" text-anchor="start" fill="#5575b5" stroke="#5575b5" stroke-width="0.2" textLength="32.4" lengthAdjust="spacingAndGlyphs" >171 peptides</text>
<text x="32.6" y="175.0" font-size="5.9" font-weight="bold" text-anchor="end" fill="#000" stroke="#000" stroke-width="0.2" >0,0</text>
<text x="32.6" y="164.075" font-size="5.9" font-weight="bold" text-anchor="end" fill="#000" stroke="#000" stroke-width="0.2" >0,5</text>
<text x="32.6" y="153.15" font-size="5.9" font-weight="bold" text-anchor="end" fill="#000" stroke="#000" stroke-width="0.2" >1,0</text>
<text x="32.6" y="142.225" font-size="5.9" font-weight="bold" text-anchor="end" fill="#000" stroke="#000" stroke-width="0.2" >1,5</text>
<text x="32.6" y="131.29999999999998" font-size="5.9" font-weight="bold" text-anchor="end" fill="#000" stroke="#000" stroke-width="0.2" >2,0</text>
<text x="32.6" y="120.375" font-size="5.9" font-weight="bold" text-anchor="end" fill="#000" stroke="#000" stroke-width="0.2" >2,5</text>
<text x="32.6" y="109.44999999999999" font-size="5.9" font-weight="bold" text-anchor="end" fill="#000" stroke="#000" stroke-width="0.2" >3,0</text>
<text x="32.6" y="98.52499999999999" font-size="5.9" font-weight="bold" text-anchor="end" fill="#000" stroke="#000" stroke-width="0.2" >3,5</text>
<text x="32.6" y="87.6" font-size="5.9" font-weight="bold" text-anchor="end" fill="#000" stroke="#000" stroke-width="0.2" >4,0</text>
<text x="32.6" y="76.675" font-size="5.9" font-weight="bold" text-anchor="end" fill="#000" stroke="#000" stroke-width="0.2" >4,5</text>
<text x="32.6" y="65.75" font-size="5.9" font-weight="bold" text-anchor="end" fill="#000" stroke="#000" stroke-width="0.2" >5,0</text>
<text x="36.80000000000001" y="182.0" font-size="5.9" font-weight="bold" text-anchor="middle" fill="#000" stroke="#000" stroke-width="0.2" >-10</text>
<text x="53.68000000000001" y="182.0" font-size="5.9" font-weight="bold" text-anchor="middle" fill="#000" stroke="#000" stroke-width="0.2" >-8</text>
<text x="70.56" y="182.0" font-size="5.9" font-weight="bold" text-anchor="middle" fill="#000" stroke="#000" stroke-width="0.2" >-6</text>
<text x="87.44000000000001" y="182.0" font-size="5.9" font-weight="bold" text-anchor="middle" fill="#000" stroke="#000" stroke-width="0.2" >-4</text>
<text x="104.32000000000001" y="182.0" font-size="5.9" font-weight="bold" text-anchor="middle" fill="#000" stroke="#000" stroke-width="0.2" >-2</text>
<text x="122.0" y="182.0" font-size="5.9" font-weight="bold" text-anchor="middle" fill="#000" stroke="#000" stroke-width="0.2" >0</text>
<text x="138.88" y="182.0" font-size="5.9" font-weight="bold" text-anchor="middle" fill="#000" stroke="#000" stroke-width="0.2" >2</text>
<text x="155.76" y="182.0" font-size="5.9" font-weight="bold" text-anchor="middle" fill="#000" stroke="#000" stroke-width="0.2" >4</text>
<text x="172.64" y="182.0" font-size="5.9" font-weight="bold" text-anchor="middle" fill="#000" stroke="#000" stroke-width="0.2" >6</text>
<text x="189.51999999999998" y="182.0" font-size="5.9" font-weight="bold" text-anchor="middle" fill="#000" stroke="#000" stroke-width="0.2" >8</text>
<text x="206.39999999999998" y="182.0" font-size="5.9" font-weight="bold" text-anchor="middle" fill="#000" stroke="#000" stroke-width="0.2" >10</text>
<text transform="translate(16.2,154.2) rotate(-90)" font-size="12.4" font-weight="normal" stroke="#000" stroke-width="0.45" textLength="70" lengthAdjust="spacingAndGlyphs">-Log<tspan font-size="8.4" dy="2.6">10</tspan><tspan dy="-2.6"> p-value</tspan></text>
<text x="33.4" y="203.0" font-size="11.8" font-weight="normal" stroke="#000" stroke-width="0.45" textLength="185.0" lengthAdjust="spacingAndGlyphs">Log<tspan font-size="8" dy="2.6">2</tspan><tspan dy="-2.6"> Fold Change (WT/ERAAP-KO)</tspan></text>
<rect x="55.70" y="303.77" width="6.60" height="47.98" fill="#000"/>
<rect x="63.60" y="302.99" width="5.20" height="48.76" fill="#fff" stroke="#000" stroke-width="0.8"/>
<rect x="70.35" y="330.49" width="5.30" height="21.26" fill="#e81c2a" stroke="#5a0000" stroke-width="0.7"/>
<rect x="80.95" y="257.70" width="6.60" height="94.05" fill="#000"/>
<rect x="88.85" y="269.97" width="5.20" height="81.77" fill="#fff" stroke="#000" stroke-width="0.8"/>
<rect x="95.60" y="307.69" width="5.30" height="44.06" fill="#e81c2a" stroke="#5a0000" stroke-width="0.7"/>
<rect x="106.20" y="306.15" width="6.60" height="45.60" fill="#000"/>
<rect x="114.10" y="299.66" width="5.20" height="52.09" fill="#fff" stroke="#000" stroke-width="0.8"/>
<rect x="120.85" y="286.08" width="5.30" height="65.68" fill="#e81c2a" stroke="#5a0000" stroke-width="0.7"/>
<rect x="131.45" y="324.44" width="6.60" height="27.31" fill="#000"/>
<rect x="139.35" y="324.84" width="5.20" height="26.91" fill="#fff" stroke="#000" stroke-width="0.8"/>
<rect x="146.10" y="284.18" width="5.30" height="67.58" fill="#e81c2a" stroke="#5a0000" stroke-width="0.7"/>
<rect x="156.70" y="339.16" width="6.60" height="12.59" fill="#000"/>
<rect x="164.60" y="335.76" width="5.20" height="15.99" fill="#fff" stroke="#000" stroke-width="0.8"/>
<rect x="171.35" y="324.31" width="5.30" height="27.44" fill="#e81c2a" stroke="#5a0000" stroke-width="0.7"/>
<rect x="181.95" y="342.73" width="6.60" height="9.03" fill="#000"/>
<rect x="189.85" y="344.55" width="5.20" height="7.20" fill="#fff" stroke="#000" stroke-width="0.8"/>
<rect x="196.60" y="343.55" width="5.30" height="8.20" fill="#e81c2a" stroke="#5a0000" stroke-width="0.7"/>
<rect x="207.20" y="345.81" width="6.60" height="5.94" fill="#000"/>
<rect x="215.10" y="347.64" width="5.20" height="4.11" fill="#fff" stroke="#000" stroke-width="0.8"/>
<rect x="221.85" y="350.08" width="5.30" height="1.67" fill="#e81c2a" stroke="#5a0000" stroke-width="0.7"/>
<line x1="52.5" y1="233.0" x2="52.5" y2="351.75" stroke="#222" stroke-width="1.0"/>
<line x1="52.5" y1="351.75" x2="231.8" y2="351.75" stroke="#222" stroke-width="1.0"/>
<line x1="49.5" y1="351.75" x2="52.5" y2="351.75" stroke="#222" stroke-width="0.9"/>
<text x="49.0" y="355.25" font-size="10.0" font-weight="bold" text-anchor="end" fill="#000" stroke="#000" stroke-width="0.2" >0</text>
<line x1="49.5" y1="328.0" x2="52.5" y2="328.0" stroke="#222" stroke-width="0.9"/>
<text x="49.0" y="331.5" font-size="10.0" font-weight="bold" text-anchor="end" fill="#000" stroke="#000" stroke-width="0.2" >10</text>
<line x1="49.5" y1="304.25" x2="52.5" y2="304.25" stroke="#222" stroke-width="0.9"/>
<text x="49.0" y="307.75" font-size="10.0" font-weight="bold" text-anchor="end" fill="#000" stroke="#000" stroke-width="0.2" >20</text>
<line x1="49.5" y1="280.5" x2="52.5" y2="280.5" stroke="#222" stroke-width="0.9"/>
<text x="49.0" y="284.0" font-size="10.0" font-weight="bold" text-anchor="end" fill="#000" stroke="#000" stroke-width="0.2" >30</text>
<line x1="49.5" y1="256.75" x2="52.5" y2="256.75" stroke="#222" stroke-width="0.9"/>
<text x="49.0" y="260.25" font-size="10.0" font-weight="bold" text-anchor="end" fill="#000" stroke="#000" stroke-width="0.2" >40</text>
<line x1="49.5" y1="233.0" x2="52.5" y2="233.0" stroke="#222" stroke-width="0.9"/>
<text x="49.0" y="236.5" font-size="10.0" font-weight="bold" text-anchor="end" fill="#000" stroke="#000" stroke-width="0.2" >50</text>
<line x1="66.3" y1="351.75" x2="66.3" y2="355.25" stroke="#222" stroke-width="0.9"/>
<line x1="91.55" y1="351.75" x2="91.55" y2="355.25" stroke="#222" stroke-width="0.9"/>
<line x1="116.8" y1="351.75" x2="116.8" y2="355.25" stroke="#222" stroke-width="0.9"/>
<line x1="142.05" y1="351.75" x2="142.05" y2="355.25" stroke="#222" stroke-width="0.9"/>
<line x1="167.3" y1="351.75" x2="167.3" y2="355.25" stroke="#222" stroke-width="0.9"/>
<line x1="192.55" y1="351.75" x2="192.55" y2="355.25" stroke="#222" stroke-width="0.9"/>
<line x1="217.8" y1="351.75" x2="217.8" y2="355.25" stroke="#222" stroke-width="0.9"/>
<text x="66.3" y="370.5" font-size="10.2" font-weight="bold" text-anchor="middle" fill="#000" stroke="#000" stroke-width="0.2" >8</text>
<text x="91.55" y="370.5" font-size="10.2" font-weight="bold" text-anchor="middle" fill="#000" stroke="#000" stroke-width="0.2" >9</text>
<text x="116.8" y="370.5" font-size="10.2" font-weight="bold" text-anchor="middle" fill="#000" stroke="#000" stroke-width="0.2" >10</text>
<text x="142.05" y="370.5" font-size="10.2" font-weight="bold" text-anchor="middle" fill="#000" stroke="#000" stroke-width="0.2" >11</text>
<text x="167.3" y="370.5" font-size="10.2" font-weight="bold" text-anchor="middle" fill="#000" stroke="#000" stroke-width="0.2" >12</text>
<text x="192.55" y="370.5" font-size="10.2" font-weight="bold" text-anchor="middle" fill="#000" stroke="#000" stroke-width="0.2" >13</text>
<text x="217.8" y="370.5" font-size="10.2" font-weight="bold" text-anchor="middle" fill="#000" stroke="#000" stroke-width="0.2" >14</text>
<text x="63.2" y="241.5" font-size="11.4" font-weight="normal" text-anchor="start" fill="#000" stroke="#000" stroke-width="0.4" textLength="59.7" lengthAdjust="spacingAndGlyphs" >All peptides</text>
<rect x="180.00" y="234.80" width="11.20" height="7.00" fill="#000"/>
<rect x="180.40" y="246.70" width="10.40" height="6.20" fill="#fff" stroke="#000" stroke-width="0.8"/>
<rect x="180.40" y="258.20" width="10.40" height="6.20" fill="#e81c2a" stroke="#5a0000" stroke-width="0.8"/>
<text x="197" y="241.70000000000002" font-size="9" font-weight="normal" text-anchor="start" fill="#000" stroke="#000" stroke-width="0.45" textLength="35.5" lengthAdjust="spacingAndGlyphs" >Common</text>
<text x="197" y="253.20000000000002" font-size="9" font-weight="normal" text-anchor="start" fill="#000" stroke="#000" stroke-width="0.45" textLength="11.5" lengthAdjust="spacingAndGlyphs" >WT</text>
<text x="197" y="264.7" font-size="9" font-weight="normal" text-anchor="start" fill="#000" stroke="#000" stroke-width="0.45" textLength="36.5" lengthAdjust="spacingAndGlyphs" >ERAAP-/-</text>
<text transform="translate(22.5,318.7) rotate(-90)" font-size="12" font-weight="bold" textLength="47.7" lengthAdjust="spacingAndGlyphs">% of total</text>
<text x="95.7" y="388.1" font-size="11.6" font-weight="bold" text-anchor="start" fill="#000" textLength="73.6" lengthAdjust="spacingAndGlyphs" >Peptide length</text>
<rect x="299.05" y="41.35" width="5.30" height="70.85" fill="#000"/>
<rect x="305.35" y="22.86" width="3.90" height="89.34" fill="#fff" stroke="#000" stroke-width="0.8"/>
<rect x="311.80" y="84.41" width="4.00" height="27.79" fill="#e81c2a" stroke="#5a0000" stroke-width="0.7"/>
<rect x="321.07" y="91.03" width="5.30" height="21.17" fill="#000"/>
<rect x="327.37" y="91.05" width="3.90" height="21.15" fill="#fff" stroke="#000" stroke-width="0.8"/>
<rect x="333.82" y="98.99" width="4.00" height="13.21" fill="#e81c2a" stroke="#5a0000" stroke-width="0.7"/>
<rect x="343.09" y="108.90" width="5.30" height="3.30" fill="#000"/>
<rect x="355.84" y="93.16" width="4.00" height="19.04" fill="#e81c2a" stroke="#5a0000" stroke-width="0.7"/>
<rect x="377.86" y="111.54" width="4.00" height="0.66" fill="#e81c2a" stroke="#5a0000" stroke-width="0.7"/>
<rect x="387.13" y="109.92" width="5.30" height="2.28" fill="#000"/>
<rect x="399.88" y="105.45" width="4.00" height="6.75" fill="#e81c2a" stroke="#5a0000" stroke-width="0.7"/>
<rect x="409.15" y="108.90" width="5.30" height="3.30" fill="#000"/>
<rect x="421.90" y="101.02" width="4.00" height="11.18" fill="#e81c2a" stroke="#5a0000" stroke-width="0.7"/>
<rect x="443.92" y="69.84" width="4.00" height="42.36" fill="#e81c2a" stroke="#5a0000" stroke-width="0.7"/>
<line x1="296.6" y1="10.5" x2="296.6" y2="112.2" stroke="#222" stroke-width="1.0"/>
<line x1="296.6" y1="112.2" x2="449.8" y2="112.2" stroke="#222" stroke-width="1.0"/>
<line x1="293.6" y1="112.2" x2="296.6" y2="112.2" stroke="#222" stroke-width="0.9"/>
<text x="293.0" y="115.10000000000001" font-size="8.2" font-weight="bold" text-anchor="end" fill="#000" stroke="#000" stroke-width="0.2" >0</text>
<line x1="293.6" y1="86.85" x2="296.6" y2="86.85" stroke="#222" stroke-width="0.9"/>
<text x="293.0" y="89.75" font-size="8.2" font-weight="bold" text-anchor="end" fill="#000" stroke="#000" stroke-width="0.2" >20</text>
<line x1="293.6" y1="61.5" x2="296.6" y2="61.5" stroke="#222" stroke-width="0.9"/>
<text x="293.0" y="64.4" font-size="8.2" font-weight="bold" text-anchor="end" fill="#000" stroke="#000" stroke-width="0.2" >40</text>
<line x1="293.6" y1="36.14999999999999" x2="296.6" y2="36.14999999999999" stroke="#222" stroke-width="0.9"/>
<text x="293.0" y="39.04999999999999" font-size="8.2" font-weight="bold" text-anchor="end" fill="#000" stroke="#000" stroke-width="0.2" >60</text>
<line x1="293.6" y1="10.799999999999997" x2="296.6" y2="10.799999999999997" stroke="#222" stroke-width="0.9"/>
<text x="293.0" y="13.699999999999998" font-size="8.2" font-weight="bold" text-anchor="end" fill="#000" stroke="#000" stroke-width="0.2" >80</text>
<line x1="307.7" y1="112.2" x2="307.7" y2="115.7" stroke="#222" stroke-width="0.9"/>
<line x1="329.71999999999997" y1="112.2" x2="329.71999999999997" y2="115.7" stroke="#222" stroke-width="0.9"/>
<line x1="351.74" y1="112.2" x2="351.74" y2="115.7" stroke="#222" stroke-width="0.9"/>
<line x1="373.76" y1="112.2" x2="373.76" y2="115.7" stroke="#222" stroke-width="0.9"/>
<line x1="395.78" y1="112.2" x2="395.78" y2="115.7" stroke="#222" stroke-width="0.9"/>
<line x1="417.79999999999995" y1="112.2" x2="417.79999999999995" y2="115.7" stroke="#222" stroke-width="0.9"/>
<line x1="439.82" y1="112.2" x2="439.82" y2="115.7" stroke="#222" stroke-width="0.9"/>
<text x="308.3" y="127.8" font-size="9.4" font-weight="bold" text-anchor="middle" fill="#000" stroke="#000" stroke-width="0.2" >8</text>
<text x="326.3" y="127.8" font-size="9.4" font-weight="bold" text-anchor="middle" fill="#000" stroke="#000" stroke-width="0.2" >9</text>
<text x="347.5" y="127.8" font-size="9.4" font-weight="bold" text-anchor="middle" fill="#000" stroke="#000" stroke-width="0.2" >10</text>
<text x="369.5" y="127.8" font-size="9.4" font-weight="bold" text-anchor="middle" fill="#000" stroke="#000" stroke-width="0.2" >11</text>
<text x="392.9" y="127.8" font-size="9.4" font-weight="bold" text-anchor="middle" fill="#000" stroke="#000" stroke-width="0.2" >12</text>
<text x="416.0" y="127.8" font-size="9.4" font-weight="bold" text-anchor="middle" fill="#000" stroke="#000" stroke-width="0.2" >13</text>
<text x="438.2" y="127.8" font-size="9.4" font-weight="bold" text-anchor="middle" fill="#000" stroke="#000" stroke-width="0.2" >14</text>
<rect x="466.10" y="20.90" width="11.20" height="7.00" fill="#000"/>
<rect x="466.50" y="32.80" width="10.40" height="6.20" fill="#fff" stroke="#000" stroke-width="0.8"/>
<rect x="466.50" y="44.20" width="10.40" height="6.20" fill="#e81c2a" stroke="#5a0000" stroke-width="0.8"/>
<text x="482.9" y="27.799999999999997" font-size="8.8" font-weight="normal" text-anchor="start" fill="#000" stroke="#000" stroke-width="0.45" textLength="36.0" lengthAdjust="spacingAndGlyphs" >Common</text>
<text x="482.9" y="39.3" font-size="8.8" font-weight="normal" text-anchor="start" fill="#000" stroke="#000" stroke-width="0.45" textLength="12.0" lengthAdjust="spacingAndGlyphs" >WT</text>
<text x="482.9" y="50.699999999999996" font-size="8.8" font-weight="normal" text-anchor="start" fill="#000" stroke="#000" stroke-width="0.45" textLength="38.5" lengthAdjust="spacingAndGlyphs" >ERAAP-/-</text>
<text transform="translate(278.2,90.2) rotate(-90)" font-size="12" font-weight="bold" textLength="47" lengthAdjust="spacingAndGlyphs">% of total</text>
<text x="413.4" y="28.6" font-size="11.2" font-weight="normal" stroke="#000" stroke-width="0.3">H2-K<tspan font-size="6.8" dy="-3.3" dx="0.2">b</tspan></text>
<rect x="320.20" y="155.62" width="5.00" height="92.68" fill="#000"/>
<rect x="326.70" y="182.69" width="3.60" height="65.61" fill="#fff" stroke="#000" stroke-width="0.8"/>
<rect x="332.85" y="205.56" width="3.70" height="42.74" fill="#e81c2a" stroke="#5a0000" stroke-width="0.7"/>
<rect x="341.60" y="212.73" width="5.00" height="35.57" fill="#000"/>
<rect x="348.10" y="232.63" width="3.60" height="15.67" fill="#fff" stroke="#000" stroke-width="0.8"/>
<rect x="354.25" y="211.71" width="3.70" height="36.59" fill="#e81c2a" stroke="#5a0000" stroke-width="0.7"/>
<rect x="364.00" y="235.65" width="5.00" height="12.65" fill="#000"/>
<rect x="376.65" y="232.41" width="3.70" height="15.90" fill="#e81c2a" stroke="#5a0000" stroke-width="0.7"/>
<rect x="398.55" y="209.32" width="3.70" height="38.98" fill="#e81c2a" stroke="#5a0000" stroke-width="0.7"/>
<rect x="407.90" y="243.51" width="5.00" height="4.79" fill="#000"/>
<rect x="420.55" y="186.41" width="3.70" height="61.89" fill="#e81c2a" stroke="#5a0000" stroke-width="0.7"/>
<line x1="295.3" y1="145.8" x2="295.3" y2="248.3" stroke="#222" stroke-width="1.0"/>
<line x1="295.3" y1="248.3" x2="448.0" y2="248.3" stroke="#222" stroke-width="1.0"/>
<line x1="292.3" y1="248.3" x2="295.3" y2="248.3" stroke="#222" stroke-width="0.9"/>
<text x="292.4" y="251.3" font-size="8.6" font-weight="bold" text-anchor="end" fill="#000" stroke="#000" stroke-width="0.2" >0</text>
<line x1="292.3" y1="214.10000000000002" x2="295.3" y2="214.10000000000002" stroke="#222" stroke-width="0.9"/>
<text x="292.4" y="217.10000000000002" font-size="8.6" font-weight="bold" text-anchor="end" fill="#000" stroke="#000" stroke-width="0.2" >10</text>
<line x1="292.3" y1="179.9" x2="295.3" y2="179.9" stroke="#222" stroke-width="0.9"/>
<text x="292.4" y="182.9" font-size="8.6" font-weight="bold" text-anchor="end" fill="#000" stroke="#000" stroke-width="0.2" >20</text>
<line x1="292.3" y1="145.70000000000002" x2="295.3" y2="145.70000000000002" stroke="#222" stroke-width="0.9"/>
<text x="292.4" y="148.70000000000002" font-size="8.6" font-weight="bold" text-anchor="end" fill="#000" stroke="#000" stroke-width="0.2" >30</text>
<line x1="306.4" y1="248.3" x2="306.4" y2="251.8" stroke="#222" stroke-width="0.9"/>
<line x1="328.5" y1="248.3" x2="328.5" y2="251.8" stroke="#222" stroke-width="0.9"/>
<line x1="349.9" y1="248.3" x2="349.9" y2="251.8" stroke="#222" stroke-width="0.9"/>
<line x1="372.3" y1="248.3" x2="372.3" y2="251.8" stroke="#222" stroke-width="0.9"/>
<line x1="394.2" y1="248.3" x2="394.2" y2="251.8" stroke="#222" stroke-width="0.9"/>
<line x1="416.2" y1="248.3" x2="416.2" y2="251.8" stroke="#222" stroke-width="0.9"/>
<line x1="438.1" y1="248.3" x2="438.1" y2="251.8" stroke="#222" stroke-width="0.9"/>
<text x="305.8" y="262.3" font-size="9.6" font-weight="bold" text-anchor="middle" fill="#000" stroke="#000" stroke-width="0.2" >8</text>
<text x="323.3" y="262.3" font-size="9.6" font-weight="bold" text-anchor="middle" fill="#000" stroke="#000" stroke-width="0.2" >9</text>
<text x="343.6" y="262.3" font-size="9.6" font-weight="bold" text-anchor="middle" fill="#000" stroke="#000" stroke-width="0.2" >10</text>
<text x="366.4" y="262.3" font-size="9.6" font-weight="bold" text-anchor="middle" fill="#000" stroke="#000" stroke-width="0.2" >11</text>
<text x="390.4" y="262.3" font-size="9.6" font-weight="bold" text-anchor="middle" fill="#000" stroke="#000" stroke-width="0.2" >12</text>
<text x="413.5" y="262.3" font-size="9.6" font-weight="bold" text-anchor="middle" fill="#000" stroke="#000" stroke-width="0.2" >13</text>
<text x="435.9" y="262.3" font-size="9.6" font-weight="bold" text-anchor="middle" fill="#000" stroke="#000" stroke-width="0.2" >14</text>
<text transform="translate(277.0,221.6) rotate(-90)" font-size="12" font-weight="bold" textLength="48.6" lengthAdjust="spacingAndGlyphs">% of total</text>
<text x="417.2" y="151.8" font-size="11.2" font-weight="normal" stroke="#000" stroke-width="0.3">H2-D<tspan font-size="6.8" dy="-3.3" dx="0.2">b</tspan></text>
<rect x="304.00" y="298.13" width="7.60" height="71.67" fill="#000"/>
<rect x="314.50" y="288.43" width="6.20" height="81.37" fill="#fff" stroke="#000" stroke-width="0.8"/>
<rect x="325.05" y="335.70" width="6.30" height="34.10" fill="#e81c2a" stroke="#5a0000" stroke-width="0.7"/>
<rect x="340.30" y="361.47" width="7.60" height="8.33" fill="#000"/>
<rect x="350.80" y="355.38" width="6.20" height="14.42" fill="#fff" stroke="#000" stroke-width="0.8"/>
<rect x="361.35" y="343.85" width="6.30" height="25.95" fill="#e81c2a" stroke="#5a0000" stroke-width="0.7"/>
<rect x="376.60" y="361.47" width="7.60" height="8.33" fill="#000"/>
<rect x="387.10" y="363.07" width="6.20" height="6.73" fill="#fff" stroke="#000" stroke-width="0.8"/>
<rect x="397.65" y="347.93" width="6.30" height="21.87" fill="#e81c2a" stroke="#5a0000" stroke-width="0.7"/>
<rect x="413.20" y="366.56" width="7.60" height="3.24" fill="#000"/>
<rect x="423.70" y="363.07" width="6.20" height="6.73" fill="#fff" stroke="#000" stroke-width="0.8"/>
<rect x="434.25" y="363.02" width="6.30" height="6.78" fill="#e81c2a" stroke="#5a0000" stroke-width="0.7"/>
<line x1="297.9" y1="277.2" x2="297.9" y2="369.8" stroke="#222" stroke-width="1.0"/>
<line x1="297.9" y1="369.8" x2="445.4" y2="369.8" stroke="#222" stroke-width="1.0"/>
<line x1="294.9" y1="369.8" x2="297.9" y2="369.8" stroke="#222" stroke-width="0.9"/>
<text x="295.0" y="372.8" font-size="8.5" font-weight="bold" text-anchor="end" fill="#000" stroke="#000" stroke-width="0.2" >0</text>
<line x1="294.9" y1="351.28000000000003" x2="297.9" y2="351.28000000000003" stroke="#222" stroke-width="0.9"/>
<text x="295.0" y="354.28000000000003" font-size="8.5" font-weight="bold" text-anchor="end" fill="#000" stroke="#000" stroke-width="0.2" >20</text>
<line x1="294.9" y1="332.76" x2="297.9" y2="332.76" stroke="#222" stroke-width="0.9"/>
<text x="295.0" y="335.76" font-size="8.5" font-weight="bold" text-anchor="end" fill="#000" stroke="#000" stroke-width="0.2" >40</text>
<line x1="294.9" y1="314.24" x2="297.9" y2="314.24" stroke="#222" stroke-width="0.9"/>
<text x="295.0" y="317.24" font-size="8.5" font-weight="bold" text-anchor="end" fill="#000" stroke="#000" stroke-width="0.2" >60</text>
<line x1="294.9" y1="295.72" x2="297.9" y2="295.72" stroke="#222" stroke-width="0.9"/>
<text x="295.0" y="298.72" font-size="8.5" font-weight="bold" text-anchor="end" fill="#000" stroke="#000" stroke-width="0.2" >80</text>
<line x1="294.9" y1="277.2" x2="297.9" y2="277.2" stroke="#222" stroke-width="0.9"/>
<text x="295.0" y="280.2" font-size="8.5" font-weight="bold" text-anchor="end" fill="#000" stroke="#000" stroke-width="0.2" >100</text>
<line x1="318.3" y1="369.8" x2="318.3" y2="373.3" stroke="#222" stroke-width="0.9"/>
<line x1="354.6" y1="369.8" x2="354.6" y2="373.3" stroke="#222" stroke-width="0.9"/>
<line x1="390.9" y1="369.8" x2="390.9" y2="373.3" stroke="#222" stroke-width="0.9"/>
<line x1="427.5" y1="369.8" x2="427.5" y2="373.3" stroke="#222" stroke-width="0.9"/>
<text x="318.3" y="381.5" font-size="9.6" font-weight="bold" text-anchor="middle" fill="#000" stroke="#000" stroke-width="0.2" >9</text>
<text x="354.6" y="381.5" font-size="9.6" font-weight="bold" text-anchor="middle" fill="#000" stroke="#000" stroke-width="0.2" >10</text>
<text x="390.9" y="381.5" font-size="9.6" font-weight="bold" text-anchor="middle" fill="#000" stroke="#000" stroke-width="0.2" >11</text>
<text x="427.5" y="381.5" font-size="9.6" font-weight="bold" text-anchor="middle" fill="#000" stroke="#000" stroke-width="0.2" >12</text>
<text transform="translate(278.0,348.0) rotate(-90)" font-size="12" font-weight="bold" textLength="49.6" lengthAdjust="spacingAndGlyphs">% of total</text>
<text x="416.6" y="288.0" font-size="11.4" font-weight="normal" stroke="#000" stroke-width="0.3">Qa-2<tspan font-size="7" dy="-3.5" dx="0.2">a</tspan></text>
<text x="340.0" y="397.7" font-size="11.6" font-weight="bold" text-anchor="start" fill="#000" textLength="73.7" lengthAdjust="spacingAndGlyphs" >Peptide length</text>
</g>
</svg></body></html>
